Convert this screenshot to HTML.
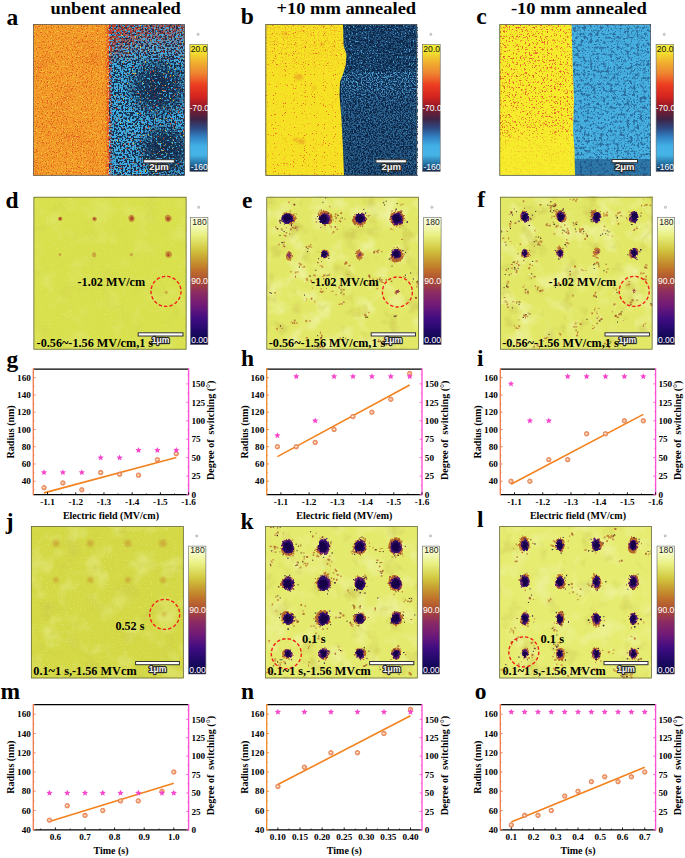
<!DOCTYPE html>
<html><head><meta charset="utf-8"><style>
html,body{margin:0;padding:0;background:#fff;overflow:hidden;width:685px;height:858px}
svg{display:block}
</style></head><body>
<svg width="685" height="858" viewBox="0 0 685 858">
<defs>
<filter id="nOrY" x="0" y="0" width="1" height="1" color-interpolation-filters="sRGB"><feTurbulence type="fractalNoise" baseFrequency="0.85" numOctaves="1" seed="3"/><feColorMatrix type="matrix" values="0 0 0 0 0.980 0 0 0 0 0.816 0 0 0 0 0.251 7 0 0 0 -3.3"/></filter>
<filter id="nOrR" x="0" y="0" width="1" height="1" color-interpolation-filters="sRGB"><feTurbulence type="fractalNoise" baseFrequency="0.85" numOctaves="1" seed="7"/><feColorMatrix type="matrix" values="0 0 0 0 0.910 0 0 0 0 0.353 0 0 0 0 0.125 7 0 0 0 -3.9"/></filter>
<filter id="nOrLo" x="0" y="0" width="1" height="1" color-interpolation-filters="sRGB"><feTurbulence type="fractalNoise" baseFrequency="0.05" numOctaves="2" seed="8"/><feColorMatrix type="matrix" values="0 0 0 0 0.910 0 0 0 0 0.471 0 0 0 0 0.157 4 0 0 0 -2.0"/></filter>
<filter id="nBlD" x="0" y="0" width="1" height="1" color-interpolation-filters="sRGB"><feTurbulence type="fractalNoise" baseFrequency="0.75" numOctaves="1" seed="5"/><feColorMatrix type="matrix" values="0 0 0 0 0.063 0 0 0 0 0.157 0 0 0 0 0.306 6 0 0 0 -2.9"/></filter>
<filter id="nBlDlo" x="0" y="0" width="1" height="1" color-interpolation-filters="sRGB"><feTurbulence type="fractalNoise" baseFrequency="0.04" numOctaves="2" seed="6"/><feColorMatrix type="matrix" values="0 0 0 0 0.055 0 0 0 0 0.141 0 0 0 0 0.275 5 0 0 0 -2.4"/></filter>
<filter id="nBlR" x="0" y="0" width="1" height="1" color-interpolation-filters="sRGB"><feTurbulence type="fractalNoise" baseFrequency="0.9" numOctaves="1" seed="11"/><feColorMatrix type="matrix" values="0 0 0 0 0.847 0 0 0 0 0.251 0 0 0 0 0.188 9 0 0 0 -5.8"/></filter>
<filter id="nBlY" x="0" y="0" width="1" height="1" color-interpolation-filters="sRGB"><feTurbulence type="fractalNoise" baseFrequency="0.9" numOctaves="1" seed="13"/><feColorMatrix type="matrix" values="0 0 0 0 0.847 0 0 0 0 0.784 0 0 0 0 0.251 9 0 0 0 -6.0"/></filter>
<filter id="nYR" x="0" y="0" width="1" height="1" color-interpolation-filters="sRGB"><feTurbulence type="fractalNoise" baseFrequency="0.9" numOctaves="1" seed="17"/><feColorMatrix type="matrix" values="0 0 0 0 0.910 0 0 0 0 0.376 0 0 0 0 0.125 9 0 0 0 -5.8"/></filter>
<filter id="nYRlo" x="0" y="0" width="1" height="1" color-interpolation-filters="sRGB"><feTurbulence type="fractalNoise" baseFrequency="0.22" numOctaves="2" seed="19"/><feColorMatrix type="matrix" values="0 0 0 0 0.910 0 0 0 0 0.502 0 0 0 0 0.188 7 0 0 0 -4.4"/></filter>
<filter id="nYO" x="0" y="0" width="1" height="1" color-interpolation-filters="sRGB"><feTurbulence type="fractalNoise" baseFrequency="0.03" numOctaves="2" seed="20"/><feColorMatrix type="matrix" values="0 0 0 0 0.941 0 0 0 0 0.690 0 0 0 0 0.188 4 0 0 0 -2.2"/></filter>
<filter id="nLB" x="0" y="0" width="1" height="1" color-interpolation-filters="sRGB"><feTurbulence type="fractalNoise" baseFrequency="0.35" numOctaves="2" seed="23"/><feColorMatrix type="matrix" values="0 0 0 0 0.165 0 0 0 0 0.416 0 0 0 0 0.612 6 0 0 0 -3.0"/></filter>
<filter id="nNB" x="0" y="0" width="1" height="1" color-interpolation-filters="sRGB"><feTurbulence type="fractalNoise" baseFrequency="0.8" numOctaves="1" seed="29"/><feColorMatrix type="matrix" values="0 0 0 0 0.290 0 0 0 0 0.580 0 0 0 0 0.769 7 0 0 0 -4.0"/></filter>
<filter id="nNB2" x="0" y="0" width="1" height="1" color-interpolation-filters="sRGB"><feTurbulence type="fractalNoise" baseFrequency="0.8" numOctaves="1" seed="30"/><feColorMatrix type="matrix" values="0 0 0 0 0.290 0 0 0 0 0.580 0 0 0 0 0.769 7 0 0 0 -4.6"/></filter>
<filter id="aL" x="0" y="0" width="1" height="1" color-interpolation-filters="sRGB"><feTurbulence type="fractalNoise" baseFrequency="0.045" numOctaves="3" seed="31"/><feColorMatrix type="matrix" values="0 0 0 0 0.941 0 0 0 0 0.957 0 0 0 0 0.659 3.2 0 0 0 -1.55"/></filter>
<filter id="aD" x="0" y="0" width="1" height="1" color-interpolation-filters="sRGB"><feTurbulence type="fractalNoise" baseFrequency="0.05" numOctaves="3" seed="37"/><feColorMatrix type="matrix" values="0 0 0 0 0.792 0 0 0 0 0.769 0 0 0 0 0.314 3.0 0 0 0 -1.75"/></filter>
<filter id="aG" x="0" y="0" width="1" height="1" color-interpolation-filters="sRGB"><feTurbulence type="fractalNoise" baseFrequency="0.7" numOctaves="1" seed="38"/><feColorMatrix type="matrix" values="0 0 0 0 0.894 0 0 0 0 0.918 0 0 0 0 0.486 3 0 0 0 -1.75"/></filter>
<filter id="aS" x="0" y="0" width="1" height="1" color-interpolation-filters="sRGB"><feTurbulence type="fractalNoise" baseFrequency="0.9" numOctaves="1" seed="41"/><feColorMatrix type="matrix" values="0 0 0 0 0.227 0 0 0 0 0.141 0 0 0 0 0.220 11 0 0 0 -7.9"/></filter>
<filter id="aO" x="0" y="0" width="1" height="1" color-interpolation-filters="sRGB"><feTurbulence type="fractalNoise" baseFrequency="0.45" numOctaves="2" seed="43"/><feColorMatrix type="matrix" values="0 0 0 0 0.784 0 0 0 0 0.541 0 0 0 0 0.188 8 0 0 0 -5.8"/></filter>
<filter id="blob" x="-60%" y="-60%" width="220%" height="220%">
<feTurbulence type="fractalNoise" baseFrequency="0.25" numOctaves="2" seed="4" result="t"/>
<feDisplacementMap in="SourceGraphic" in2="t" scale="6" xChannelSelector="R" yChannelSelector="G"/>
<feGaussianBlur stdDeviation="0.45"/></filter>
<filter id="blob2" x="-60%" y="-60%" width="220%" height="220%">
<feTurbulence type="fractalNoise" baseFrequency="0.45" numOctaves="2" seed="9" result="t"/>
<feDisplacementMap in="SourceGraphic" in2="t" scale="3.5" xChannelSelector="R" yChannelSelector="G"/></filter>
<filter id="soft2" x="-60%" y="-60%" width="220%" height="220%"><feGaussianBlur stdDeviation="0.7"/></filter>
<filter id="soft" x="-60%" y="-60%" width="220%" height="220%"><feGaussianBlur stdDeviation="1.2"/></filter>
<filter id="pa_nav" x="0" y="0" width="1" height="1" color-interpolation-filters="sRGB"><feTurbulence type="fractalNoise" baseFrequency="0.55" numOctaves="1" seed="5"/><feColorMatrix type="matrix" values="0 0 0 0 0.086 0 0 0 0 0.180 0 0 0 0 0.314 14 0 0 0 -6.7"/></filter>
<filter id="pa_nav2" x="0" y="0" width="1" height="1" color-interpolation-filters="sRGB"><feTurbulence type="fractalNoise" baseFrequency="0.55" numOctaves="1" seed="55"/><feColorMatrix type="matrix" values="0 0 0 0 0.078 0 0 0 0 0.165 0 0 0 0 0.290 14 0 0 0 -5.2"/></filter>
<filter id="pa_red" x="0" y="0" width="1" height="1" color-interpolation-filters="sRGB"><feTurbulence type="fractalNoise" baseFrequency="0.55" numOctaves="1" seed="11"/><feColorMatrix type="matrix" values="0 0 0 0 0.816 0 0 0 0 0.227 0 0 0 0 0.133 14 0 0 0 -6.3"/></filter>
<filter id="pa_red2" x="0" y="0" width="1" height="1" color-interpolation-filters="sRGB"><feTurbulence type="fractalNoise" baseFrequency="0.6" numOctaves="1" seed="12"/><feColorMatrix type="matrix" values="0 0 0 0 0.816 0 0 0 0 0.251 0 0 0 0 0.157 14 0 0 0 -9.4"/></filter>
<filter id="pa_yel" x="0" y="0" width="1" height="1" color-interpolation-filters="sRGB"><feTurbulence type="fractalNoise" baseFrequency="0.6" numOctaves="1" seed="13"/><feColorMatrix type="matrix" values="0 0 0 0 0.847 0 0 0 0 0.816 0 0 0 0 0.251 14 0 0 0 -9.6"/></filter>
<filter id="pa_oy" x="0" y="0" width="1" height="1" color-interpolation-filters="sRGB"><feTurbulence type="fractalNoise" baseFrequency="0.8" numOctaves="1" seed="3"/><feColorMatrix type="matrix" values="0 0 0 0 0.973 0 0 0 0 0.753 0 0 0 0 0.220 12 0 0 0 -7.0"/></filter>
<filter id="pa_or" x="0" y="0" width="1" height="1" color-interpolation-filters="sRGB"><feTurbulence type="fractalNoise" baseFrequency="0.8" numOctaves="1" seed="7"/><feColorMatrix type="matrix" values="0 0 0 0 0.894 0 0 0 0 0.376 0 0 0 0 0.118 12 0 0 0 -7.0"/></filter>
<filter id="pa_olo" x="0" y="0" width="1" height="1" color-interpolation-filters="sRGB"><feTurbulence type="fractalNoise" baseFrequency="0.04" numOctaves="2" seed="8"/><feColorMatrix type="matrix" values="0 0 0 0 0.933 0 0 0 0 0.541 0 0 0 0 0.149 4 0 0 0 -2.1"/></filter>
<filter id="pb_lb" x="0" y="0" width="1" height="1" color-interpolation-filters="sRGB"><feTurbulence type="fractalNoise" baseFrequency="0.75" numOctaves="1" seed="29"/><feColorMatrix type="matrix" values="0 0 0 0 0.290 0 0 0 0 0.596 0 0 0 0 0.800 14 0 0 0 -7.4"/></filter>
<filter id="pb_mid" x="0" y="0" width="1" height="1" color-interpolation-filters="sRGB"><feTurbulence type="fractalNoise" baseFrequency="0.6" numOctaves="1" seed="31"/><feColorMatrix type="matrix" values="0 0 0 0 0.133 0 0 0 0 0.322 0 0 0 0 0.494 10 0 0 0 -4.6"/></filter>
<filter id="pb_lb2" x="0" y="0" width="1" height="1" color-interpolation-filters="sRGB"><feTurbulence type="fractalNoise" baseFrequency="0.75" numOctaves="1" seed="30"/><feColorMatrix type="matrix" values="0 0 0 0 0.290 0 0 0 0 0.596 0 0 0 0 0.800 14 0 0 0 -8.8"/></filter>
<filter id="pb_yr" x="0" y="0" width="1" height="1" color-interpolation-filters="sRGB"><feTurbulence type="fractalNoise" baseFrequency="0.9" numOctaves="1" seed="17"/><feColorMatrix type="matrix" values="0 0 0 0 0.910 0 0 0 0 0.392 0 0 0 0 0.118 14 0 0 0 -9.4"/></filter>
<filter id="pb_yo" x="0" y="0" width="1" height="1" color-interpolation-filters="sRGB"><feTurbulence type="fractalNoise" baseFrequency="0.7" numOctaves="1" seed="18"/><feColorMatrix type="matrix" values="0 0 0 0 0.941 0 0 0 0 0.690 0 0 0 0 0.165 14 0 0 0 -7.6"/></filter>
<filter id="pc_dk" x="0" y="0" width="1" height="1" color-interpolation-filters="sRGB"><feTurbulence type="fractalNoise" baseFrequency="0.3" numOctaves="2" seed="23"/><feColorMatrix type="matrix" values="0 0 0 0 0.165 0 0 0 0 0.424 0 0 0 0 0.620 5 0 0 0 -2.65"/></filter>
<filter id="pc_dk2" x="0" y="0" width="1" height="1" color-interpolation-filters="sRGB"><feTurbulence type="fractalNoise" baseFrequency="0.7" numOctaves="1" seed="24"/><feColorMatrix type="matrix" values="0 0 0 0 0.165 0 0 0 0 0.424 0 0 0 0 0.620 8 0 0 0 -4.6"/></filter>
<filter id="pc_r" x="0" y="0" width="1" height="1" color-interpolation-filters="sRGB"><feTurbulence type="fractalNoise" baseFrequency="0.55" numOctaves="2" seed="17"/><feColorMatrix type="matrix" values="0 0 0 0 0.894 0 0 0 0 0.376 0 0 0 0 0.165 13 0 0 0 -8.0"/></filter>
<filter id="pc_r2" x="0" y="0" width="1" height="1" color-interpolation-filters="sRGB"><feTurbulence type="fractalNoise" baseFrequency="0.8" numOctaves="1" seed="19"/><feColorMatrix type="matrix" values="0 0 0 0 0.925 0 0 0 0 0.541 0 0 0 0 0.188 14 0 0 0 -9.0"/></filter>
<radialGradient id="ma1g" cx="158" cy="88" r="34" gradientUnits="userSpaceOnUse"><stop offset="0" stop-color="#fff" stop-opacity="1"/><stop offset="0.5" stop-color="#fff" stop-opacity="0.8"/><stop offset="1" stop-color="#fff" stop-opacity="0"/></radialGradient>
<mask id="ma1" maskUnits="userSpaceOnUse" x="0" y="0" width="685" height="858"><rect x="0" y="0" width="685" height="858" fill="url(#ma1g)"/></mask>
<radialGradient id="ma2g" cx="165" cy="150" r="30" gradientUnits="userSpaceOnUse"><stop offset="0" stop-color="#fff" stop-opacity="1"/><stop offset="0.5" stop-color="#fff" stop-opacity="0.8"/><stop offset="1" stop-color="#fff" stop-opacity="0"/></radialGradient>
<mask id="ma2" maskUnits="userSpaceOnUse" x="0" y="0" width="685" height="858"><rect x="0" y="0" width="685" height="858" fill="url(#ma2g)"/></mask>
<radialGradient id="ma3g" cx="109.2" cy="24.3" r="40" gradientUnits="userSpaceOnUse"><stop offset="0" stop-color="#fff" stop-opacity="0.8"/><stop offset="0.5" stop-color="#fff" stop-opacity="0.5"/><stop offset="1" stop-color="#fff" stop-opacity="0"/></radialGradient>
<mask id="ma3" maskUnits="userSpaceOnUse" x="0" y="0" width="685" height="858"><rect x="0" y="0" width="685" height="858" fill="url(#ma3g)"/></mask>
<linearGradient id="ma4g" x1="0" y1="0" x2="0" y2="1"><stop offset="0" stop-color="#fff" stop-opacity="0.7"/><stop offset="0.5" stop-color="#fff" stop-opacity="0.3"/><stop offset="1" stop-color="#fff" stop-opacity="0"/></linearGradient>
<mask id="ma4" maskUnits="userSpaceOnUse" x="109.2" y="24.3" width="75.7" height="40"><rect x="109.2" y="24.3" width="75.7" height="40" fill="url(#ma4g)"/></mask>
<linearGradient id="ma5g" x1="0" y1="0" x2="1" y2="0"><stop offset="0" stop-color="#fff" stop-opacity="0"/><stop offset="0.6" stop-color="#fff" stop-opacity="0.9"/><stop offset="1" stop-color="#fff" stop-opacity="0.3"/></linearGradient>
<mask id="ma5" maskUnits="userSpaceOnUse" x="104.2" y="24.3" width="8" height="151.29999999999998"><rect x="104.2" y="24.3" width="8" height="151.29999999999998" fill="url(#ma5g)"/></mask>
<linearGradient id="pcb189" x1="0" y1="0" x2="0" y2="1">
<stop offset="0" stop-color="#f4f232"/><stop offset="0.06" stop-color="#f2e030"/><stop offset="0.14" stop-color="#f0b030"/>
<stop offset="0.23" stop-color="#ee8230"/><stop offset="0.32" stop-color="#ec3c20"/><stop offset="0.41" stop-color="#d42420"/>
<stop offset="0.47" stop-color="#a41c24"/><stop offset="0.53" stop-color="#6c1e34"/><stop offset="0.59" stop-color="#3e2448"/>
<stop offset="0.66" stop-color="#2e4a84"/><stop offset="0.73" stop-color="#3282c4"/><stop offset="0.80" stop-color="#42b0e6"/>
<stop offset="0.87" stop-color="#46b4e6"/><stop offset="0.94" stop-color="#2470a2"/><stop offset="1" stop-color="#12284e"/></linearGradient>
<linearGradient id="mb1g" x1="0" y1="0" x2="0" y2="1"><stop offset="0" stop-color="#fff" stop-opacity="1"/><stop offset="0.12" stop-color="#fff" stop-opacity="0.95"/><stop offset="0.3" stop-color="#fff" stop-opacity="0.55"/><stop offset="1" stop-color="#fff" stop-opacity="0.35"/></linearGradient>
<mask id="mb1" maskUnits="userSpaceOnUse" x="341" y="72" width="76.10000000000002" height="103.6"><rect x="341" y="72" width="76.10000000000002" height="103.6" fill="url(#mb1g)"/></mask>
<linearGradient id="mb2g" x1="0" y1="0" x2="0" y2="1"><stop offset="0" stop-color="#fff" stop-opacity="0.8"/><stop offset="0.25" stop-color="#fff" stop-opacity="0.6"/><stop offset="0.35" stop-color="#fff" stop-opacity="0.2"/><stop offset="1" stop-color="#fff" stop-opacity="0.25"/></linearGradient>
<mask id="mb2" maskUnits="userSpaceOnUse" x="265.6" y="24.3" width="80" height="151.29999999999998"><rect x="265.6" y="24.3" width="80" height="151.29999999999998" fill="url(#mb2g)"/></mask>
<linearGradient id="pcb422" x1="0" y1="0" x2="0" y2="1">
<stop offset="0" stop-color="#f4f232"/><stop offset="0.06" stop-color="#f2e030"/><stop offset="0.14" stop-color="#f0b030"/>
<stop offset="0.23" stop-color="#ee8230"/><stop offset="0.32" stop-color="#ec3c20"/><stop offset="0.41" stop-color="#d42420"/>
<stop offset="0.47" stop-color="#a41c24"/><stop offset="0.53" stop-color="#6c1e34"/><stop offset="0.59" stop-color="#3e2448"/>
<stop offset="0.66" stop-color="#2e4a84"/><stop offset="0.73" stop-color="#3282c4"/><stop offset="0.80" stop-color="#42b0e6"/>
<stop offset="0.87" stop-color="#46b4e6"/><stop offset="0.94" stop-color="#2470a2"/><stop offset="1" stop-color="#12284e"/></linearGradient>
<linearGradient id="mc1g" x1="0" y1="0" x2="0" y2="1"><stop offset="0" stop-color="#fff" stop-opacity="1"/><stop offset="0.7" stop-color="#fff" stop-opacity="0.9"/><stop offset="0.78" stop-color="#fff" stop-opacity="0.25"/><stop offset="1" stop-color="#fff" stop-opacity="0.15"/></linearGradient>
<mask id="mc1" maskUnits="userSpaceOnUse" x="499.5" y="24.3" width="77" height="151.29999999999998"><rect x="499.5" y="24.3" width="77" height="151.29999999999998" fill="url(#mc1g)"/></mask>
<linearGradient id="pcb656" x1="0" y1="0" x2="0" y2="1">
<stop offset="0" stop-color="#f4f232"/><stop offset="0.06" stop-color="#f2e030"/><stop offset="0.14" stop-color="#f0b030"/>
<stop offset="0.23" stop-color="#ee8230"/><stop offset="0.32" stop-color="#ec3c20"/><stop offset="0.41" stop-color="#d42420"/>
<stop offset="0.47" stop-color="#a41c24"/><stop offset="0.53" stop-color="#6c1e34"/><stop offset="0.59" stop-color="#3e2448"/>
<stop offset="0.66" stop-color="#2e4a84"/><stop offset="0.73" stop-color="#3282c4"/><stop offset="0.80" stop-color="#42b0e6"/>
<stop offset="0.87" stop-color="#46b4e6"/><stop offset="0.94" stop-color="#2470a2"/><stop offset="1" stop-color="#12284e"/></linearGradient>
<linearGradient id="acb190_217" x1="0" y1="0" x2="0" y2="1">
<stop offset="0" stop-color="#fafde4"/><stop offset="0.05" stop-color="#f6fac8"/><stop offset="0.14" stop-color="#e8f080"/>
<stop offset="0.25" stop-color="#d2c840"/><stop offset="0.32" stop-color="#c8a232"/><stop offset="0.41" stop-color="#c0722a"/>
<stop offset="0.51" stop-color="#a84838"/><stop offset="0.59" stop-color="#8c2c62"/><stop offset="0.69" stop-color="#701a78"/>
<stop offset="0.80" stop-color="#3e0c82"/><stop offset="0.91" stop-color="#1a0862"/><stop offset="1" stop-color="#0a0440"/></linearGradient>
<linearGradient id="acb423_217" x1="0" y1="0" x2="0" y2="1">
<stop offset="0" stop-color="#fafde4"/><stop offset="0.05" stop-color="#f6fac8"/><stop offset="0.14" stop-color="#e8f080"/>
<stop offset="0.25" stop-color="#d2c840"/><stop offset="0.32" stop-color="#c8a232"/><stop offset="0.41" stop-color="#c0722a"/>
<stop offset="0.51" stop-color="#a84838"/><stop offset="0.59" stop-color="#8c2c62"/><stop offset="0.69" stop-color="#701a78"/>
<stop offset="0.80" stop-color="#3e0c82"/><stop offset="0.91" stop-color="#1a0862"/><stop offset="1" stop-color="#0a0440"/></linearGradient>
<linearGradient id="acb657_217" x1="0" y1="0" x2="0" y2="1">
<stop offset="0" stop-color="#fafde4"/><stop offset="0.05" stop-color="#f6fac8"/><stop offset="0.14" stop-color="#e8f080"/>
<stop offset="0.25" stop-color="#d2c840"/><stop offset="0.32" stop-color="#c8a232"/><stop offset="0.41" stop-color="#c0722a"/>
<stop offset="0.51" stop-color="#a84838"/><stop offset="0.59" stop-color="#8c2c62"/><stop offset="0.69" stop-color="#701a78"/>
<stop offset="0.80" stop-color="#3e0c82"/><stop offset="0.91" stop-color="#1a0862"/><stop offset="1" stop-color="#0a0440"/></linearGradient>
<linearGradient id="acb188_546" x1="0" y1="0" x2="0" y2="1">
<stop offset="0" stop-color="#fafde4"/><stop offset="0.05" stop-color="#f6fac8"/><stop offset="0.14" stop-color="#e8f080"/>
<stop offset="0.25" stop-color="#d2c840"/><stop offset="0.32" stop-color="#c8a232"/><stop offset="0.41" stop-color="#c0722a"/>
<stop offset="0.51" stop-color="#a84838"/><stop offset="0.59" stop-color="#8c2c62"/><stop offset="0.69" stop-color="#701a78"/>
<stop offset="0.80" stop-color="#3e0c82"/><stop offset="0.91" stop-color="#1a0862"/><stop offset="1" stop-color="#0a0440"/></linearGradient>
<linearGradient id="acb422_546" x1="0" y1="0" x2="0" y2="1">
<stop offset="0" stop-color="#fafde4"/><stop offset="0.05" stop-color="#f6fac8"/><stop offset="0.14" stop-color="#e8f080"/>
<stop offset="0.25" stop-color="#d2c840"/><stop offset="0.32" stop-color="#c8a232"/><stop offset="0.41" stop-color="#c0722a"/>
<stop offset="0.51" stop-color="#a84838"/><stop offset="0.59" stop-color="#8c2c62"/><stop offset="0.69" stop-color="#701a78"/>
<stop offset="0.80" stop-color="#3e0c82"/><stop offset="0.91" stop-color="#1a0862"/><stop offset="1" stop-color="#0a0440"/></linearGradient>
<linearGradient id="acb657_546" x1="0" y1="0" x2="0" y2="1">
<stop offset="0" stop-color="#fafde4"/><stop offset="0.05" stop-color="#f6fac8"/><stop offset="0.14" stop-color="#e8f080"/>
<stop offset="0.25" stop-color="#d2c840"/><stop offset="0.32" stop-color="#c8a232"/><stop offset="0.41" stop-color="#c0722a"/>
<stop offset="0.51" stop-color="#a84838"/><stop offset="0.59" stop-color="#8c2c62"/><stop offset="0.69" stop-color="#701a78"/>
<stop offset="0.80" stop-color="#3e0c82"/><stop offset="0.91" stop-color="#1a0862"/><stop offset="1" stop-color="#0a0440"/></linearGradient>
</defs>
<rect width="685" height="858" fill="#fff"/>
<text x="50.60" y="13.70" font-size="17.6" text-anchor="start" fill="#000" font-family="Liberation Serif" font-weight="bold" textLength="130.2" lengthAdjust="spacingAndGlyphs">unbent annealed</text>
<text x="276.50" y="13.70" font-size="17.6" text-anchor="start" fill="#000" font-family="Liberation Serif" font-weight="bold" textLength="139.6" lengthAdjust="spacingAndGlyphs">+10 mm annealed</text>
<text x="510.90" y="13.70" font-size="17.6" text-anchor="start" fill="#000" font-family="Liberation Serif" font-weight="bold" textLength="136.0" lengthAdjust="spacingAndGlyphs">-10 mm annealed</text>
<text x="6.50" y="24.70" font-size="23.5" text-anchor="start" fill="#000" font-family="Liberation Serif" font-weight="bold" >a</text>
<text x="240.80" y="24.40" font-size="23.5" text-anchor="start" fill="#000" font-family="Liberation Serif" font-weight="bold" >b</text>
<text x="476.20" y="24.40" font-size="23.5" text-anchor="start" fill="#000" font-family="Liberation Serif" font-weight="bold" >c</text>
<text x="5.50" y="208.40" font-size="23.5" text-anchor="start" fill="#000" font-family="Liberation Serif" font-weight="bold" >d</text>
<text x="242.00" y="207.60" font-size="23.5" text-anchor="start" fill="#000" font-family="Liberation Serif" font-weight="bold" >e</text>
<text x="477.20" y="207.30" font-size="23.5" text-anchor="start" fill="#000" font-family="Liberation Serif" font-weight="bold" >f</text>
<text x="6.40" y="366.60" font-size="23.5" text-anchor="start" fill="#000" font-family="Liberation Serif" font-weight="bold" >g</text>
<text x="240.90" y="366.40" font-size="23.5" text-anchor="start" fill="#000" font-family="Liberation Serif" font-weight="bold" >h</text>
<text x="476.90" y="366.40" font-size="23.5" text-anchor="start" fill="#000" font-family="Liberation Serif" font-weight="bold" >i</text>
<text x="5.80" y="528.90" font-size="23.5" text-anchor="start" fill="#000" font-family="Liberation Serif" font-weight="bold" >j</text>
<text x="240.40" y="528.70" font-size="23.5" text-anchor="start" fill="#000" font-family="Liberation Serif" font-weight="bold" >k</text>
<text x="477.10" y="526.60" font-size="23.5" text-anchor="start" fill="#000" font-family="Liberation Serif" font-weight="bold" >l</text>
<text x="0.60" y="699.30" font-size="23.5" text-anchor="start" fill="#000" font-family="Liberation Serif" font-weight="bold" >m</text>
<text x="241.10" y="698.60" font-size="23.5" text-anchor="start" fill="#000" font-family="Liberation Serif" font-weight="bold" >n</text>
<text x="474.80" y="698.90" font-size="23.5" text-anchor="start" fill="#000" font-family="Liberation Serif" font-weight="bold" >o</text>
<rect x="109.20" y="24.30" width="75.70" height="151.30" fill="#40ace0" />
<rect x="109.20" y="24.30" width="75.70" height="151.30" fill="#000" filter="url(#pa_nav)" />
<g mask="url(#ma1)"><rect x="109.20" y="24.30" width="75.70" height="151.30" fill="#000" filter="url(#pa_nav2)"/></g>
<g mask="url(#ma2)"><rect x="109.20" y="24.30" width="75.70" height="151.30" fill="#000" filter="url(#pa_nav2)"/></g>
<g mask="url(#ma3)"><rect x="109.20" y="24.30" width="75.70" height="151.30" fill="#000" filter="url(#pa_red)"/></g>
<g mask="url(#ma4)"><rect x="109.20" y="24.30" width="75.70" height="40.00" fill="#000" filter="url(#pa_red)"/></g>
<rect x="109.20" y="24.30" width="75.70" height="151.30" fill="#000" filter="url(#pa_red2)" />
<rect x="109.20" y="24.30" width="75.70" height="151.30" fill="#000" filter="url(#pa_yel)" />
<rect x="33.30" y="24.30" width="75.40" height="151.30" fill="#f29a28" />
<rect x="33.30" y="24.30" width="75.40" height="151.30" fill="#000" filter="url(#pa_olo)" />
<rect x="33.30" y="24.30" width="75.40" height="151.30" fill="#000" filter="url(#pa_oy)" />
<rect x="33.30" y="24.30" width="75.40" height="151.30" fill="#000" filter="url(#pa_or)" />
<g mask="url(#ma5)"><rect x="104.20" y="24.30" width="8.00" height="151.30" fill="#000" filter="url(#pa_red)"/></g>
<rect x="33.60" y="24.60" width="151.00" height="150.70" fill="none" stroke="#555" stroke-width="0.7"/>
<rect x="189.9" y="44.6" width="17.6" height="126.80000000000001" fill="url(#pcb189)" stroke="#666" stroke-width="0.6"/>
<text x="199.00" y="51.60" font-size="8.6" text-anchor="middle" fill="#111" font-family="Liberation Sans" >20.0</text>
<text x="199.30" y="111.10" font-size="8.6" text-anchor="middle" fill="#fff" font-family="Liberation Sans" >-70.0</text>
<text x="199.30" y="170.10" font-size="8.6" text-anchor="middle" fill="#fff" font-family="Liberation Sans" >-160</text>
<circle cx="198.1" cy="34.400000000000006" r="1.0" fill="none" stroke="#777" stroke-width="0.55"/>
<rect x="143.60" y="159.70" width="30.70" height="3.2" fill="#fff" stroke="#333" stroke-width="1.0"/>
<text x="158.95" y="170.00" font-size="9.5" text-anchor="middle" fill="#f4f4f4" font-family="Liberation Sans" font-weight="bold" stroke="#2a2a2a" stroke-width="2.3" paint-order="stroke" stroke-linejoin="round">2μm</text>
<rect x="265.60" y="24.30" width="151.50" height="151.30" fill="#0b2646" />
<rect x="341.00" y="24.30" width="76.10" height="151.30" fill="#000" filter="url(#pb_mid)" />
<g mask="url(#mb1)"><rect x="341.00" y="72.00" width="76.10" height="103.60" fill="#000" filter="url(#pb_lb)"/></g>
<rect x="341.00" y="24.30" width="76.10" height="48.00" fill="#000" filter="url(#pb_lb2)" />
<path d="M265.6,24.3 L343,24.3 L343.5,45 L346.5,55 L345.5,66 L343,74 L340,82 L339.5,95 L341.5,120 L343,150 L344,175.6 L265.6,175.6 Z" fill="#f6e424"/>
<clipPath id="cpb"><path d="M265.6,24.3 L343,24.3 L343.5,45 L346.5,55 L345.5,66 L343,74 L340,82 L339.5,95 L341.5,120 L343,150 L344,175.6 L265.6,175.6 Z"/></clipPath>
<g clip-path="url(#cpb)">
<g mask="url(#mb2)"><rect x="265.60" y="24.30" width="80.00" height="151.30" fill="#000" filter="url(#pb_yo)"/></g>
<rect x="265.60" y="24.30" width="80.00" height="151.30" fill="#000" filter="url(#pb_yr)" />
<ellipse cx="299" cy="77" rx="4.16" ry="2.8600000000000003" fill="#e67a28" opacity="0.45" filter="url(#soft)"/>
<ellipse cx="301.5" cy="141.5" rx="3.5200000000000005" ry="2.4200000000000004" fill="#e67a28" opacity="0.45" filter="url(#soft)"/>
<ellipse cx="296" cy="139.5" rx="2.5600000000000005" ry="1.7600000000000002" fill="#e67a28" opacity="0.45" filter="url(#soft)"/>
<ellipse cx="285" cy="34" rx="2.4000000000000004" ry="1.6500000000000001" fill="#e67a28" opacity="0.45" filter="url(#soft)"/>
<ellipse cx="322" cy="44" rx="2.2399999999999998" ry="1.54" fill="#e67a28" opacity="0.45" filter="url(#soft)"/>
<ellipse cx="314" cy="88" rx="2.08" ry="1.4300000000000002" fill="#e67a28" opacity="0.45" filter="url(#soft)"/>
</g>
<rect x="265.90" y="24.60" width="150.90" height="150.70" fill="none" stroke="#555" stroke-width="0.7"/>
<rect x="422.6" y="44.6" width="17.6" height="126.80000000000001" fill="url(#pcb422)" stroke="#666" stroke-width="0.6"/>
<text x="431.70" y="51.60" font-size="8.6" text-anchor="middle" fill="#111" font-family="Liberation Sans" >20.0</text>
<text x="432.00" y="111.10" font-size="8.6" text-anchor="middle" fill="#fff" font-family="Liberation Sans" >-70.0</text>
<text x="432.00" y="170.10" font-size="8.6" text-anchor="middle" fill="#fff" font-family="Liberation Sans" >-160</text>
<circle cx="430.8" cy="34.400000000000006" r="1.0" fill="none" stroke="#777" stroke-width="0.55"/>
<rect x="375.90" y="159.70" width="30.50" height="3.2" fill="#fff" stroke="#333" stroke-width="1.0"/>
<text x="391.15" y="170.00" font-size="9.5" text-anchor="middle" fill="#f4f4f4" font-family="Liberation Sans" font-weight="bold" stroke="#2a2a2a" stroke-width="2.3" paint-order="stroke" stroke-linejoin="round">2μm</text>
<rect x="499.50" y="24.30" width="151.30" height="151.30" fill="#46b0e0" />
<rect x="572.00" y="24.30" width="78.80" height="151.30" fill="#000" filter="url(#pc_dk)" />
<rect x="572.00" y="24.30" width="78.80" height="151.30" fill="#000" filter="url(#pc_dk2)" />
<rect x="572" y="159" width="78.8" height="16.6" fill="#1a4a7a" opacity="0.55"/>
<path d="M499.5,24.3 L571.5,24.3 L572.5,60 L574,100 L573,130 L574.5,150 L575,175.6 L499.5,175.6 Z" fill="#f6ec2c"/>
<clipPath id="cpc"><path d="M499.5,24.3 L571.5,24.3 L572.5,60 L574,100 L573,130 L574.5,150 L575,175.6 L499.5,175.6 Z"/></clipPath>
<g clip-path="url(#cpc)">
<g mask="url(#mc1)"><rect x="499.50" y="24.30" width="77.00" height="151.30" fill="#000" filter="url(#pc_r)"/></g>
<g mask="url(#mc1)"><rect x="499.50" y="24.30" width="77.00" height="151.30" fill="#000" filter="url(#pc_r2)"/></g>
</g>
<rect x="499.80" y="24.60" width="150.70" height="150.70" fill="none" stroke="#555" stroke-width="0.7"/>
<rect x="656.1" y="44.6" width="17.6" height="126.80000000000001" fill="url(#pcb656)" stroke="#666" stroke-width="0.6"/>
<text x="665.20" y="51.60" font-size="8.6" text-anchor="middle" fill="#111" font-family="Liberation Sans" >20.0</text>
<text x="665.50" y="111.10" font-size="8.6" text-anchor="middle" fill="#fff" font-family="Liberation Sans" >-70.0</text>
<text x="665.50" y="170.10" font-size="8.6" text-anchor="middle" fill="#fff" font-family="Liberation Sans" >-160</text>
<circle cx="664.3000000000001" cy="34.400000000000006" r="1.0" fill="none" stroke="#777" stroke-width="0.55"/>
<rect x="612.00" y="159.50" width="25.50" height="3.2" fill="#fff" stroke="#333" stroke-width="1.0"/>
<text x="624.75" y="170.00" font-size="9.5" text-anchor="middle" fill="#f4f4f4" font-family="Liberation Sans" font-weight="bold" stroke="#2a2a2a" stroke-width="2.3" paint-order="stroke" stroke-linejoin="round">2μm</text>
<rect x="33.60" y="196.90" width="152.80" height="152.60" fill="#d8e04c" />
<g opacity="0.2">
<rect x="33.60" y="196.90" width="152.80" height="152.60" fill="#000" filter="url(#aL)" />
<rect x="33.60" y="196.90" width="152.80" height="152.60" fill="#000" filter="url(#aD)" />
</g>
<rect x="33.60" y="196.90" width="152.80" height="152.60" fill="#000" filter="url(#aG)" />
<g filter="url(#soft2)"><path d="M62.3,218.1 Q62.5,218.8 62.3,219.5 Q62.1,220.2 61.5,220.6 Q61.0,221.1 60.2,221.1 Q59.5,221.0 58.9,220.6 Q58.2,220.2 58.0,219.5 Q57.9,218.8 58.2,218.2 Q58.5,217.5 59.0,217.1 Q59.5,216.7 60.2,216.7 Q60.9,216.7 61.5,217.1 Q62.0,217.5 62.3,218.1Z" fill="#c0682c" opacity="0.7"/><path d="M61.2,218.5 Q61.2,218.8 61.1,219.1 Q61.0,219.4 60.8,219.7 Q60.6,220.0 60.2,220.1 Q59.8,220.1 59.5,219.8 Q59.3,219.5 59.2,219.1 Q59.1,218.8 59.1,218.4 Q59.0,218.0 59.4,217.6 Q59.7,217.3 60.2,217.3 Q60.7,217.4 60.9,217.8 Q61.2,218.1 61.2,218.5Z" fill="#a23c2c" opacity="0.85"/></g>
<g filter="url(#soft2)"><path d="M96.7,218.2 Q97.0,219.0 96.6,219.7 Q96.2,220.4 95.6,220.9 Q95.0,221.4 94.2,221.3 Q93.5,221.2 93.1,220.6 Q92.7,220.1 92.5,219.5 Q92.4,219.0 92.4,218.3 Q92.4,217.7 92.9,217.1 Q93.4,216.6 94.2,216.7 Q94.9,216.7 95.6,217.1 Q96.4,217.4 96.7,218.2Z" fill="#c0682c" opacity="0.7"/><path d="M95.3,218.6 Q95.4,219.0 95.3,219.3 Q95.1,219.7 94.8,219.9 Q94.5,220.0 94.2,219.9 Q93.9,219.8 93.7,219.7 Q93.5,219.5 93.4,219.2 Q93.2,219.0 93.2,218.7 Q93.2,218.3 93.5,218.1 Q93.8,217.9 94.2,217.9 Q94.5,217.9 94.9,218.1 Q95.2,218.3 95.3,218.6Z" fill="#a23c2c" opacity="0.85"/></g>
<g filter="url(#soft2)"><path d="M134.4,217.5 Q134.7,218.5 134.5,219.5 Q134.3,220.4 133.5,221.3 Q132.8,222.1 131.6,222.1 Q130.5,222.0 129.7,221.2 Q129.0,220.4 128.6,219.5 Q128.3,218.5 128.4,217.4 Q128.6,216.3 129.5,215.5 Q130.3,214.6 131.6,214.7 Q132.8,214.9 133.5,215.7 Q134.2,216.6 134.4,217.5Z" fill="#c0682c" opacity="0.7"/><path d="M133.5,217.9 Q133.7,218.5 133.3,219.0 Q133.0,219.5 132.5,219.8 Q132.1,220.1 131.6,220.2 Q131.0,220.3 130.6,219.9 Q130.3,219.5 130.2,219.0 Q130.1,218.5 130.2,218.0 Q130.4,217.6 130.7,217.2 Q131.0,216.7 131.6,216.6 Q132.2,216.5 132.8,216.9 Q133.3,217.2 133.5,217.9Z" fill="#a23c2c" opacity="0.85"/></g>
<g filter="url(#soft2)"><path d="M171.6,217.4 Q172.0,218.5 171.5,219.5 Q171.0,220.5 170.1,221.2 Q169.3,221.8 168.2,221.9 Q167.1,221.9 166.3,221.2 Q165.4,220.5 165.0,219.5 Q164.7,218.5 164.8,217.3 Q165.0,216.1 165.9,215.4 Q166.9,214.6 168.1,214.8 Q169.3,215.0 170.3,215.7 Q171.2,216.3 171.6,217.4Z" fill="#c0682c" opacity="0.7"/><path d="M169.5,218.1 Q169.7,218.5 169.7,219.0 Q169.6,219.6 169.2,220.0 Q168.8,220.5 168.2,220.6 Q167.5,220.6 167.0,220.2 Q166.5,219.7 166.5,219.1 Q166.5,218.5 166.7,218.0 Q166.9,217.5 167.3,217.2 Q167.7,216.9 168.2,217.0 Q168.7,217.1 169.0,217.4 Q169.3,217.7 169.5,218.1Z" fill="#a23c2c" opacity="0.85"/></g>
<g filter="url(#soft2)"><path d="M61.3,254.2 Q61.4,254.6 61.2,255.0 Q61.0,255.3 60.7,255.7 Q60.4,256.0 60.0,256.1 Q59.5,256.2 59.1,255.9 Q58.8,255.5 58.7,255.1 Q58.6,254.6 58.6,254.1 Q58.6,253.6 59.0,253.2 Q59.4,252.8 60.0,252.9 Q60.5,253.1 60.9,253.4 Q61.2,253.7 61.3,254.2Z" fill="#c07a34" opacity="0.55"/></g>
<g filter="url(#soft2)"><path d="M96.0,254.0 Q96.3,254.6 96.2,255.4 Q96.2,256.2 95.5,256.7 Q94.9,257.3 94.0,257.2 Q93.2,257.0 92.7,256.4 Q92.3,255.9 92.2,255.2 Q92.0,254.6 92.1,254.0 Q92.2,253.3 92.7,252.7 Q93.2,252.1 94.0,252.1 Q94.8,252.1 95.3,252.7 Q95.7,253.4 96.0,254.0Z" fill="#c07a34" opacity="0.55"/></g>
<g filter="url(#soft2)"><path d="M133.0,254.1 Q133.1,254.6 132.9,255.1 Q132.7,255.5 132.3,255.9 Q131.9,256.2 131.4,256.3 Q130.8,256.4 130.3,256.1 Q129.8,255.8 129.8,255.2 Q129.8,254.6 130.0,254.2 Q130.2,253.7 130.5,253.4 Q130.9,253.0 131.4,252.9 Q132.0,252.8 132.4,253.2 Q132.9,253.5 133.0,254.1Z" fill="#c07a34" opacity="0.55"/></g>
<g filter="url(#soft2)"><path d="M171.8,253.4 Q172.2,254.6 171.6,255.7 Q171.1,256.7 170.2,257.2 Q169.2,257.7 168.2,257.8 Q167.2,257.8 166.4,257.1 Q165.7,256.4 165.5,255.5 Q165.3,254.6 165.3,253.6 Q165.4,252.5 166.2,251.7 Q167.0,250.9 168.2,250.9 Q169.4,250.9 170.4,251.6 Q171.4,252.3 171.8,253.4Z" fill="#c0682c" opacity="0.7"/><path d="M169.4,254.2 Q169.6,254.6 169.4,255.0 Q169.3,255.4 169.0,255.7 Q168.6,255.9 168.2,255.9 Q167.8,256.0 167.5,255.6 Q167.2,255.3 167.2,255.0 Q167.1,254.6 167.2,254.3 Q167.2,253.9 167.5,253.7 Q167.8,253.4 168.2,253.4 Q168.6,253.4 168.9,253.6 Q169.2,253.9 169.4,254.2Z" fill="#a23c2c" opacity="0.85"/></g>
<g filter="url(#soft2)"><path d="M167.8,292.1 Q167.8,292.5 167.7,292.9 Q167.5,293.3 167.2,293.6 Q166.9,293.8 166.5,293.9 Q166.0,293.9 165.6,293.7 Q165.2,293.5 164.8,293.0 Q164.5,292.5 164.7,291.9 Q164.9,291.3 165.4,291.2 Q166.0,291.0 166.5,291.0 Q167.0,291.1 167.3,291.3 Q167.7,291.6 167.8,292.1Z" fill="#c07a34" opacity="0.55"/></g>
<rect x="33.90" y="197.20" width="152.20" height="152.00" fill="none" stroke="#55583a" stroke-width="0.7"/>
<circle cx="166.0" cy="291.4" r="15" fill="none" stroke="#f21c1c" stroke-width="1.35" stroke-dasharray="3.4 2.1"/>
<rect x="138.20" y="332.80" width="44.80" height="3.2" fill="#fff" stroke="#333" stroke-width="1.0"/>
<text x="160.60" y="342.90" font-size="8.6" text-anchor="middle" fill="#f4f4f4" font-family="Liberation Sans" font-weight="bold" stroke="#2a2a2a" stroke-width="2.3" paint-order="stroke" stroke-linejoin="round">1μm</text>
<text x="77.50" y="286.00" font-size="12.2" text-anchor="start" fill="#000" font-family="Liberation Serif" font-weight="bold" textLength="67.6" lengthAdjust="spacingAndGlyphs">-1.02 MV/cm</text>
<text x="36.60" y="346.90" font-size="12.2" text-anchor="start" fill="#000" font-family="Liberation Serif" font-weight="bold" textLength="116.5" lengthAdjust="spacingAndGlyphs">-0.56~-1.56 MV/cm,1 s</text>
<rect x="190.5" y="217.5" width="17.4" height="127.10000000000002" fill="url(#acb190_217)" stroke="#666" stroke-width="0.6"/>
<text x="199.50" y="224.70" font-size="8.6" text-anchor="middle" fill="#222" font-family="Liberation Sans" >180</text>
<text x="199.50" y="284.15" font-size="8.6" text-anchor="middle" fill="#fff" font-family="Liberation Sans" >90.0</text>
<text x="199.50" y="343.30" font-size="8.6" text-anchor="middle" fill="#fff" font-family="Liberation Sans" >0.00</text>
<circle cx="198.7" cy="207.3" r="1.0" fill="none" stroke="#777" stroke-width="0.55"/>
<rect x="266.50" y="196.90" width="152.30" height="152.60" fill="#e2e866" />
<g opacity="0.8">
<rect x="266.50" y="196.90" width="152.30" height="152.60" fill="#000" filter="url(#aL)" />
<rect x="266.50" y="196.90" width="152.30" height="152.60" fill="#000" filter="url(#aD)" />
</g>
<rect x="266.50" y="196.90" width="152.30" height="152.60" fill="#000" filter="url(#aG)" />
<rect x="305.9" y="278.5" width="2" height="1" fill="#b86a2c" opacity="0.85"/>
<rect x="305.9" y="278.4" width="2" height="1" fill="#c07a34" opacity="0.85"/>
<rect x="306.3" y="279.7" width="2" height="1.5" fill="#c89040" opacity="0.85"/>
<rect x="304.0" y="281.2" width="1" height="1" fill="#f8f8e0"/>
<rect x="329.3" y="205.8" width="1" height="1.5" fill="#b86a2c" opacity="0.85"/>
<rect x="322.4" y="201.8" width="1" height="1" fill="#302030"/>
<rect x="325.1" y="197.4" width="1" height="1" fill="#302030"/>
<rect x="377.2" y="283.9" width="1" height="1.5" fill="#c07a34" opacity="0.85"/>
<rect x="376.3" y="287.9" width="2" height="1.5" fill="#c89040" opacity="0.85"/>
<rect x="373.7" y="283.2" width="1" height="1" fill="#302030"/>
<rect x="371.8" y="281.9" width="1" height="1" fill="#f8f8e0"/>
<rect x="377.0" y="284.3" width="1" height="1" fill="#302030"/>
<rect x="414.8" y="296.8" width="2" height="2" fill="#b86a2c" opacity="0.85"/>
<rect x="415.1" y="297.2" width="2" height="1.5" fill="#a85a28" opacity="0.85"/>
<rect x="281.3" y="327.9" width="1.5" height="1" fill="#b86a2c" opacity="0.85"/>
<rect x="276.9" y="329.4" width="1" height="1" fill="#b86a2c" opacity="0.85"/>
<rect x="275.8" y="327.8" width="2" height="1.5" fill="#c07a34" opacity="0.85"/>
<rect x="279.8" y="325.8" width="1" height="1" fill="#b86a2c" opacity="0.85"/>
<rect x="280.0" y="325.4" width="1" height="1" fill="#302030"/>
<rect x="289.5" y="210.3" width="1.5" height="1.5" fill="#c89040" opacity="0.85"/>
<rect x="293.2" y="203.6" width="2" height="2" fill="#b86a2c" opacity="0.85"/>
<rect x="287.9" y="201.6" width="2" height="1.5" fill="#c89040" opacity="0.85"/>
<rect x="294.1" y="204.2" width="1" height="1" fill="#302030"/>
<rect x="347.3" y="274.1" width="1.5" height="1" fill="#c89040" opacity="0.85"/>
<rect x="349.0" y="281.7" width="1" height="1" fill="#302030"/>
<rect x="319.9" y="331.7" width="1" height="2" fill="#b86a2c" opacity="0.85"/>
<rect x="321.3" y="335.1" width="1.5" height="1.5" fill="#c89040" opacity="0.85"/>
<rect x="319.9" y="338.1" width="1" height="1.5" fill="#c07a34" opacity="0.85"/>
<rect x="320.0" y="337.2" width="2" height="1.5" fill="#a85a28" opacity="0.85"/>
<rect x="321.1" y="334.2" width="1" height="2" fill="#c07a34" opacity="0.85"/>
<rect x="317.2" y="335.2" width="1" height="1" fill="#302030"/>
<rect x="321.0" y="336.8" width="1" height="1" fill="#302030"/>
<rect x="364.0" y="215.1" width="1" height="1.5" fill="#c07a34" opacity="0.85"/>
<rect x="368.0" y="215.1" width="1" height="2" fill="#c89040" opacity="0.85"/>
<rect x="364.3" y="217.2" width="1" height="2" fill="#c07a34" opacity="0.85"/>
<rect x="363.2" y="217.2" width="2" height="1" fill="#a85a28" opacity="0.85"/>
<rect x="362.6" y="216.8" width="1" height="2" fill="#a85a28" opacity="0.85"/>
<rect x="362.2" y="214.8" width="1" height="1" fill="#302030"/>
<rect x="335.4" y="294.2" width="1.5" height="1" fill="#c07a34" opacity="0.85"/>
<rect x="342.7" y="293.3" width="2" height="2" fill="#c89040" opacity="0.85"/>
<rect x="331.4" y="290.8" width="2" height="1" fill="#b86a2c" opacity="0.85"/>
<rect x="339.3" y="290.0" width="1" height="1" fill="#f8f8e0"/>
<rect x="340.5" y="292.4" width="1" height="1" fill="#201818"/>
<rect x="340.6" y="289.4" width="1" height="1" fill="#302030"/>
<rect x="289.1" y="233.3" width="1" height="1.5" fill="#b86a2c" opacity="0.85"/>
<rect x="338.8" y="219.9" width="2" height="2" fill="#c89040" opacity="0.85"/>
<rect x="344.4" y="218.4" width="1" height="1.5" fill="#c07a34" opacity="0.85"/>
<rect x="339.8" y="221.2" width="1.5" height="1" fill="#a85a28" opacity="0.85"/>
<rect x="340.0" y="218.0" width="1" height="1" fill="#c07a34" opacity="0.85"/>
<rect x="341.1" y="212.1" width="1" height="1" fill="#c89040" opacity="0.85"/>
<rect x="341.7" y="217.5" width="1" height="1" fill="#302030"/>
<rect x="337.6" y="214.8" width="1" height="1" fill="#201818"/>
<rect x="335.6" y="217.6" width="1" height="1" fill="#201818"/>
<rect x="396.2" y="314.7" width="1" height="2" fill="#b86a2c" opacity="0.85"/>
<rect x="394.7" y="316.1" width="1" height="1" fill="#302030"/>
<rect x="393.7" y="315.7" width="1" height="1" fill="#302030"/>
<rect x="394.6" y="315.4" width="1" height="1" fill="#302030"/>
<rect x="331.6" y="215.8" width="1" height="2" fill="#c07a34" opacity="0.85"/>
<rect x="321.0" y="291.4" width="2" height="1.5" fill="#b86a2c" opacity="0.85"/>
<rect x="322.1" y="290.6" width="2" height="1.5" fill="#c89040" opacity="0.85"/>
<rect x="326.0" y="288.0" width="1" height="1" fill="#c07a34" opacity="0.85"/>
<rect x="320.6" y="288.0" width="1" height="1.5" fill="#c07a34" opacity="0.85"/>
<rect x="319.8" y="290.8" width="1.5" height="1.5" fill="#a85a28" opacity="0.85"/>
<rect x="334.9" y="213.3" width="1.5" height="2" fill="#b86a2c" opacity="0.85"/>
<rect x="337.0" y="214.4" width="1" height="2" fill="#b86a2c" opacity="0.85"/>
<rect x="335.7" y="217.5" width="1.5" height="1" fill="#b86a2c" opacity="0.85"/>
<rect x="334.4" y="215.9" width="1.5" height="1" fill="#b86a2c" opacity="0.85"/>
<rect x="335.0" y="220.8" width="1" height="1" fill="#c89040" opacity="0.85"/>
<rect x="340.1" y="212.5" width="2" height="1.5" fill="#b86a2c" opacity="0.85"/>
<rect x="416.0" y="281.6" width="2" height="1" fill="#b86a2c" opacity="0.85"/>
<rect x="412.0" y="281.3" width="1" height="1" fill="#c07a34" opacity="0.85"/>
<rect x="416.8" y="282.6" width="1.5" height="2" fill="#c89040" opacity="0.85"/>
<rect x="416.2" y="285.6" width="1.5" height="2" fill="#c89040" opacity="0.85"/>
<rect x="416.8" y="282.2" width="1" height="1.5" fill="#c07a34" opacity="0.85"/>
<rect x="414.7" y="278.7" width="1" height="1" fill="#f8f8e0"/>
<rect x="416.8" y="280.9" width="1" height="1" fill="#201818"/>
<rect x="412.9" y="278.5" width="1" height="1" fill="#201818"/>
<rect x="294.9" y="271.6" width="1.5" height="2" fill="#c07a34" opacity="0.85"/>
<rect x="295.0" y="275.7" width="1" height="2" fill="#a85a28" opacity="0.85"/>
<rect x="296.6" y="271.2" width="2" height="1.5" fill="#c89040" opacity="0.85"/>
<rect x="290.2" y="271.3" width="1.5" height="1" fill="#a85a28" opacity="0.85"/>
<rect x="309.2" y="320.2" width="1.5" height="1.5" fill="#c07a34" opacity="0.85"/>
<rect x="305.3" y="320.1" width="2" height="2" fill="#c07a34" opacity="0.85"/>
<rect x="303.5" y="315.8" width="1" height="1" fill="#f8f8e0"/>
<rect x="305.6" y="317.4" width="1" height="1" fill="#f8f8e0"/>
<rect x="313.7" y="321.1" width="1" height="1" fill="#f8f8e0"/>
<rect x="401.7" y="203.7" width="2" height="1" fill="#c07a34" opacity="0.85"/>
<rect x="400.3" y="204.4" width="1" height="1.5" fill="#c07a34" opacity="0.85"/>
<rect x="396.6" y="203.1" width="1" height="1" fill="#201818"/>
<rect x="401.0" y="238.9" width="2" height="1" fill="#b86a2c" opacity="0.85"/>
<rect x="305.9" y="337.0" width="2" height="1.5" fill="#b86a2c" opacity="0.85"/>
<rect x="320.9" y="265.2" width="2" height="1.5" fill="#c89040" opacity="0.85"/>
<rect x="319.5" y="265.1" width="1.5" height="1" fill="#c89040" opacity="0.85"/>
<rect x="321.6" y="266.7" width="1.5" height="1" fill="#a85a28" opacity="0.85"/>
<rect x="317.2" y="261.8" width="1.5" height="1.5" fill="#a85a28" opacity="0.85"/>
<rect x="377.9" y="340.7" width="2" height="1.5" fill="#a85a28" opacity="0.85"/>
<rect x="382.1" y="342.4" width="2" height="2" fill="#c07a34" opacity="0.85"/>
<rect x="378.2" y="338.9" width="1" height="1" fill="#a85a28" opacity="0.85"/>
<rect x="382.8" y="339.7" width="1" height="1" fill="#c07a34" opacity="0.85"/>
<rect x="383.1" y="340.2" width="2" height="2" fill="#c89040" opacity="0.85"/>
<rect x="377.4" y="340.7" width="1.5" height="1.5" fill="#a85a28" opacity="0.85"/>
<rect x="380.0" y="340.6" width="1" height="1" fill="#201818"/>
<rect x="379.6" y="280.2" width="1.5" height="1.5" fill="#b86a2c" opacity="0.85"/>
<rect x="380.8" y="279.1" width="2" height="1.5" fill="#c07a34" opacity="0.85"/>
<rect x="379.5" y="277.1" width="1.5" height="1.5" fill="#c89040" opacity="0.85"/>
<rect x="376.7" y="278.6" width="1.5" height="1.5" fill="#b86a2c" opacity="0.85"/>
<rect x="382.1" y="282.0" width="2" height="1" fill="#b86a2c" opacity="0.85"/>
<rect x="381.0" y="280.9" width="1.5" height="2" fill="#c89040" opacity="0.85"/>
<rect x="379.2" y="278.8" width="1" height="1" fill="#302030"/>
<rect x="385.5" y="279.2" width="1.5" height="1.5" fill="#a85a28" opacity="0.85"/>
<rect x="390.8" y="280.6" width="1.5" height="1.5" fill="#a85a28" opacity="0.85"/>
<rect x="382.3" y="274.7" width="1" height="1" fill="#f8f8e0"/>
<rect x="385.5" y="274.7" width="1" height="1" fill="#f8f8e0"/>
<rect x="339.6" y="287.5" width="2" height="1" fill="#c89040" opacity="0.85"/>
<rect x="341.7" y="291.0" width="1" height="1" fill="#c07a34" opacity="0.85"/>
<rect x="342.8" y="288.9" width="2" height="1.5" fill="#b86a2c" opacity="0.85"/>
<rect x="335.2" y="286.0" width="1" height="1" fill="#c89040" opacity="0.85"/>
<rect x="341.1" y="285.3" width="1" height="1" fill="#a85a28" opacity="0.85"/>
<rect x="338.4" y="286.5" width="1.5" height="2" fill="#b86a2c" opacity="0.85"/>
<rect x="338.0" y="292.8" width="1" height="1" fill="#f8f8e0"/>
<rect x="339.9" y="287.3" width="1" height="1" fill="#f8f8e0"/>
<rect x="383.4" y="201.9" width="1" height="1" fill="#c07a34" opacity="0.85"/>
<rect x="382.9" y="202.3" width="1" height="1" fill="#302030"/>
<rect x="384.1" y="204.4" width="1" height="1" fill="#201818"/>
<rect x="385.7" y="200.7" width="1" height="1" fill="#302030"/>
<rect x="343.1" y="301.6" width="1.5" height="1.5" fill="#b86a2c" opacity="0.85"/>
<rect x="338.6" y="303.6" width="1.5" height="1.5" fill="#c07a34" opacity="0.85"/>
<rect x="341.6" y="303.0" width="1.5" height="1.5" fill="#a85a28" opacity="0.85"/>
<rect x="340.3" y="303.5" width="1.5" height="1" fill="#b86a2c" opacity="0.85"/>
<rect x="342.8" y="301.2" width="1.5" height="1" fill="#c89040" opacity="0.85"/>
<rect x="342.5" y="303.3" width="1" height="1" fill="#f8f8e0"/>
<rect x="330.3" y="226.2" width="1.5" height="1.5" fill="#c07a34" opacity="0.85"/>
<rect x="390.4" y="260.7" width="1" height="1" fill="#c89040" opacity="0.85"/>
<rect x="395.8" y="259.4" width="1" height="1" fill="#b86a2c" opacity="0.85"/>
<rect x="392.2" y="259.7" width="1.5" height="2" fill="#b86a2c" opacity="0.85"/>
<rect x="396.2" y="257.1" width="1" height="1" fill="#f8f8e0"/>
<rect x="391.5" y="265.6" width="1" height="1" fill="#302030"/>
<rect x="385.5" y="343.5" width="1.5" height="2" fill="#a85a28" opacity="0.85"/>
<rect x="385.2" y="342.5" width="1.5" height="1" fill="#b86a2c" opacity="0.85"/>
<rect x="388.2" y="343.8" width="1" height="1" fill="#b86a2c" opacity="0.85"/>
<rect x="384.1" y="342.0" width="2" height="1.5" fill="#c07a34" opacity="0.85"/>
<rect x="384.0" y="344.2" width="1" height="1" fill="#302030"/>
<rect x="386.2" y="341.6" width="1" height="1" fill="#302030"/>
<rect x="385.6" y="338.3" width="1" height="1" fill="#302030"/>
<rect x="283.2" y="243.9" width="1.5" height="2" fill="#c89040" opacity="0.85"/>
<rect x="283.2" y="245.7" width="2" height="1.5" fill="#a85a28" opacity="0.85"/>
<rect x="283.4" y="241.5" width="1.5" height="1.5" fill="#c07a34" opacity="0.85"/>
<rect x="278.3" y="243.7" width="1.5" height="1.5" fill="#c07a34" opacity="0.85"/>
<rect x="282.2" y="242.3" width="1" height="1" fill="#201818"/>
<rect x="281.4" y="242.0" width="1" height="1" fill="#302030"/>
<rect x="284.7" y="244.6" width="1" height="1" fill="#f8f8e0"/>
<rect x="285.7" y="235.2" width="1" height="1.5" fill="#c89040" opacity="0.85"/>
<rect x="285.7" y="232.0" width="1.5" height="1.5" fill="#b86a2c" opacity="0.85"/>
<rect x="284.9" y="235.1" width="1" height="1.5" fill="#a85a28" opacity="0.85"/>
<rect x="283.6" y="234.7" width="2" height="1" fill="#c07a34" opacity="0.85"/>
<rect x="280.6" y="228.5" width="2" height="1" fill="#b86a2c" opacity="0.85"/>
<rect x="284.3" y="235.3" width="1" height="1" fill="#c89040" opacity="0.85"/>
<rect x="283.6" y="231.1" width="1" height="1" fill="#201818"/>
<rect x="279.5" y="234.9" width="1" height="1" fill="#201818"/>
<rect x="391.6" y="214.8" width="1.5" height="1" fill="#b86a2c" opacity="0.85"/>
<rect x="387.2" y="218.4" width="1" height="1" fill="#f8f8e0"/>
<rect x="388.2" y="213.2" width="1" height="1" fill="#f8f8e0"/>
<rect x="392.5" y="214.0" width="1" height="1" fill="#f8f8e0"/>
<rect x="368.0" y="311.9" width="1.5" height="1" fill="#b86a2c" opacity="0.85"/>
<rect x="364.2" y="313.9" width="2" height="2" fill="#b86a2c" opacity="0.85"/>
<rect x="365.8" y="315.7" width="1" height="2" fill="#a85a28" opacity="0.85"/>
<rect x="366.7" y="313.6" width="1" height="1" fill="#f8f8e0"/>
<rect x="367.1" y="316.7" width="1" height="1" fill="#201818"/>
<rect x="365.2" y="316.8" width="1" height="1" fill="#201818"/>
<rect x="308.9" y="245.4" width="2" height="2" fill="#c89040" opacity="0.85"/>
<rect x="308.2" y="245.8" width="1.5" height="1.5" fill="#c07a34" opacity="0.85"/>
<rect x="310.1" y="243.9" width="1.5" height="1.5" fill="#c89040" opacity="0.85"/>
<rect x="310.7" y="246.8" width="1.5" height="1" fill="#c07a34" opacity="0.85"/>
<rect x="306.1" y="246.6" width="1" height="1.5" fill="#b86a2c" opacity="0.85"/>
<rect x="305.3" y="246.4" width="2" height="1" fill="#a85a28" opacity="0.85"/>
<rect x="303.6" y="247.9" width="1" height="1" fill="#f8f8e0"/>
<rect x="307.1" y="251.1" width="1" height="1" fill="#201818"/>
<rect x="307.4" y="248.2" width="1" height="1" fill="#302030"/>
<rect x="334.6" y="226.0" width="1.5" height="2" fill="#a85a28" opacity="0.85"/>
<rect x="336.5" y="228.6" width="1.5" height="1.5" fill="#c07a34" opacity="0.85"/>
<rect x="331.6" y="232.8" width="1.5" height="1" fill="#c89040" opacity="0.85"/>
<rect x="332.9" y="230.9" width="1.5" height="2" fill="#c07a34" opacity="0.85"/>
<rect x="269.3" y="292.1" width="1" height="1" fill="#c07a34" opacity="0.85"/>
<rect x="274.5" y="292.0" width="1.5" height="1.5" fill="#b86a2c" opacity="0.85"/>
<rect x="270.8" y="292.8" width="1" height="1" fill="#302030"/>
<rect x="274.5" y="289.7" width="1" height="1" fill="#f8f8e0"/>
<rect x="269.6" y="292.1" width="1" height="1" fill="#302030"/>
<rect x="305.8" y="299.6" width="1" height="1" fill="#c89040" opacity="0.85"/>
<rect x="314.4" y="300.5" width="1" height="2" fill="#c07a34" opacity="0.85"/>
<rect x="310.8" y="297.7" width="1.5" height="2" fill="#a85a28" opacity="0.85"/>
<rect x="305.6" y="298.2" width="1" height="1" fill="#b86a2c" opacity="0.85"/>
<rect x="304.0" y="294.6" width="1" height="1" fill="#302030"/>
<rect x="303.7" y="299.5" width="1" height="1" fill="#f8f8e0"/>
<rect x="304.9" y="298.5" width="1" height="1" fill="#f8f8e0"/>
<rect x="296.5" y="229.3" width="1" height="1.5" fill="#a85a28" opacity="0.85"/>
<rect x="292.2" y="226.7" width="1.5" height="1.5" fill="#a85a28" opacity="0.85"/>
<rect x="295.1" y="225.8" width="1.5" height="1" fill="#b86a2c" opacity="0.85"/>
<rect x="290.2" y="228.3" width="1.5" height="2" fill="#a85a28" opacity="0.85"/>
<rect x="296.7" y="226.6" width="2" height="1" fill="#c89040" opacity="0.85"/>
<rect x="296.6" y="228.8" width="1.5" height="1" fill="#c89040" opacity="0.85"/>
<rect x="321.8" y="276.0" width="1.5" height="1" fill="#c89040" opacity="0.85"/>
<rect x="325.6" y="274.6" width="1" height="1.5" fill="#c07a34" opacity="0.85"/>
<rect x="328.6" y="273.8" width="1.5" height="2" fill="#c89040" opacity="0.85"/>
<rect x="323.0" y="275.2" width="1.5" height="1.5" fill="#c89040" opacity="0.85"/>
<rect x="324.5" y="275.3" width="1" height="1" fill="#b86a2c" opacity="0.85"/>
<rect x="323.2" y="274.4" width="2" height="1" fill="#b86a2c" opacity="0.85"/>
<rect x="327.4" y="274.8" width="1" height="1" fill="#302030"/>
<rect x="323.2" y="278.3" width="1" height="1" fill="#302030"/>
<rect x="311.9" y="287.6" width="1" height="1" fill="#c07a34" opacity="0.85"/>
<rect x="310.5" y="279.8" width="1.5" height="2" fill="#b86a2c" opacity="0.85"/>
<rect x="310.2" y="283.0" width="1" height="1" fill="#f8f8e0"/>
<rect x="295.1" y="226.6" width="1" height="2" fill="#c07a34" opacity="0.85"/>
<rect x="293.8" y="227.8" width="1.5" height="1" fill="#b86a2c" opacity="0.85"/>
<rect x="295.6" y="227.8" width="1" height="1" fill="#302030"/>
<rect x="296.3" y="228.7" width="1" height="1" fill="#f8f8e0"/>
<rect x="286.1" y="227.3" width="1" height="1" fill="#a85a28" opacity="0.85"/>
<rect x="275.4" y="226.1" width="1" height="2" fill="#a85a28" opacity="0.85"/>
<rect x="276.4" y="228.0" width="2" height="2" fill="#c89040" opacity="0.85"/>
<rect x="276.9" y="228.1" width="1" height="1" fill="#302030"/>
<rect x="281.5" y="229.7" width="1" height="1" fill="#302030"/>
<rect x="280.9" y="230.6" width="1" height="1" fill="#f8f8e0"/>
<rect x="392.6" y="229.4" width="1" height="1" fill="#b86a2c" opacity="0.85"/>
<rect x="390.5" y="228.0" width="1" height="2" fill="#b86a2c" opacity="0.85"/>
<rect x="397.3" y="222.3" width="1" height="1" fill="#f8f8e0"/>
<rect x="372.4" y="278.5" width="1.5" height="1.5" fill="#c07a34" opacity="0.85"/>
<rect x="368.9" y="276.1" width="1.5" height="2" fill="#a85a28" opacity="0.85"/>
<rect x="368.2" y="274.7" width="2" height="2" fill="#a85a28" opacity="0.85"/>
<rect x="368.6" y="283.6" width="1" height="1" fill="#302030"/>
<rect x="371.6" y="280.0" width="1" height="1" fill="#201818"/>
<rect x="377.1" y="251.9" width="1.5" height="1.5" fill="#c07a34" opacity="0.85"/>
<rect x="374.4" y="250.0" width="1" height="2" fill="#c89040" opacity="0.85"/>
<rect x="377.8" y="249.6" width="1.5" height="1.5" fill="#a85a28" opacity="0.85"/>
<rect x="381.1" y="251.1" width="1.5" height="1" fill="#b86a2c" opacity="0.85"/>
<rect x="376.1" y="250.7" width="2" height="1.5" fill="#b86a2c" opacity="0.85"/>
<rect x="373.1" y="251.4" width="2" height="2" fill="#a85a28" opacity="0.85"/>
<rect x="308.6" y="275.8" width="2" height="1" fill="#c89040" opacity="0.85"/>
<rect x="314.0" y="275.2" width="1.5" height="1" fill="#b86a2c" opacity="0.85"/>
<rect x="313.7" y="274.7" width="1.5" height="1.5" fill="#a85a28" opacity="0.85"/>
<rect x="313.3" y="274.5" width="2" height="1.5" fill="#c89040" opacity="0.85"/>
<rect x="315.3" y="269.8" width="1" height="1" fill="#201818"/>
<rect x="309.5" y="275.4" width="1" height="1" fill="#201818"/>
<rect x="339.5" y="337.5" width="1.5" height="2" fill="#c07a34" opacity="0.85"/>
<rect x="345.1" y="337.7" width="1" height="1.5" fill="#b86a2c" opacity="0.85"/>
<rect x="341.9" y="338.7" width="1" height="1" fill="#201818"/>
<rect x="342.7" y="337.0" width="1" height="1" fill="#201818"/>
<rect x="346.1" y="262.6" width="1.5" height="1" fill="#b86a2c" opacity="0.85"/>
<rect x="348.5" y="264.9" width="2" height="1.5" fill="#b86a2c" opacity="0.85"/>
<rect x="345.5" y="261.6" width="1.5" height="2" fill="#b86a2c" opacity="0.85"/>
<rect x="345.3" y="261.4" width="1.5" height="2" fill="#c07a34" opacity="0.85"/>
<rect x="345.5" y="262.2" width="1.5" height="1" fill="#b86a2c" opacity="0.85"/>
<rect x="344.1" y="262.8" width="2" height="2" fill="#c07a34" opacity="0.85"/>
<rect x="293.6" y="322.1" width="1.5" height="2" fill="#c07a34" opacity="0.85"/>
<rect x="295.7" y="322.6" width="2" height="1" fill="#a85a28" opacity="0.85"/>
<rect x="293.7" y="319.5" width="2" height="2" fill="#c07a34" opacity="0.85"/>
<rect x="291.9" y="322.0" width="1.5" height="2" fill="#c07a34" opacity="0.85"/>
<rect x="290.9" y="321.1" width="1" height="1" fill="#c89040" opacity="0.85"/>
<rect x="404.7" y="276.8" width="1.5" height="1.5" fill="#c07a34" opacity="0.85"/>
<rect x="402.9" y="276.2" width="2" height="1" fill="#c07a34" opacity="0.85"/>
<rect x="405.0" y="274.7" width="1" height="1" fill="#302030"/>
<rect x="406.1" y="275.3" width="1" height="1" fill="#f8f8e0"/>
<rect x="410.1" y="272.5" width="1" height="1" fill="#201818"/>
<rect x="302.4" y="266.8" width="1" height="1" fill="#a85a28" opacity="0.85"/>
<rect x="300.1" y="263.7" width="2" height="1.5" fill="#c89040" opacity="0.85"/>
<rect x="298.7" y="262.8" width="1.5" height="1.5" fill="#b86a2c" opacity="0.85"/>
<rect x="303.6" y="265.9" width="1.5" height="1.5" fill="#b86a2c" opacity="0.85"/>
<rect x="299.7" y="263.8" width="1.5" height="2" fill="#c89040" opacity="0.85"/>
<rect x="298.9" y="266.5" width="1" height="1" fill="#302030"/>
<rect x="319.9" y="345.8" width="1.5" height="1.5" fill="#c07a34" opacity="0.85"/>
<rect x="318.9" y="346.3" width="2" height="1" fill="#a85a28" opacity="0.85"/>
<rect x="317.1" y="347.2" width="1.5" height="1.5" fill="#c89040" opacity="0.85"/>
<rect x="321.8" y="347.4" width="2" height="1" fill="#b86a2c" opacity="0.85"/>
<rect x="316.6" y="344.9" width="1" height="1" fill="#302030"/>
<rect x="312.6" y="344.9" width="1" height="1" fill="#f8f8e0"/>
<g filter="url(#blob2)"><g transform="translate(287.8,218.7) scale(1.000,1.000) translate(-287.8,-218.7)">
<path d="M295.4,216.3 Q296.5,218.2 295.7,220.4 Q294.9,222.5 293.1,223.5 Q291.3,224.5 289.4,224.4 Q287.6,224.3 286.4,223.5 Q285.1,222.6 284.3,221.6 Q283.4,220.7 282.8,219.5 Q282.2,218.2 282.2,216.7 Q282.2,215.1 283.2,213.7 Q284.2,212.3 285.9,212.5 Q287.6,212.7 289.0,213.0 Q290.4,213.4 292.4,213.9 Q294.3,214.4 295.4,216.3Z" fill="#b8682a"/>
<path d="M293.3,217.2 Q293.6,218.7 293.0,220.0 Q292.3,221.3 291.4,222.2 Q290.4,223.2 289.1,223.5 Q287.8,223.7 286.3,223.8 Q284.9,223.8 283.3,223.0 Q281.8,222.2 281.3,220.4 Q280.8,218.7 281.6,217.1 Q282.4,215.6 283.7,214.8 Q285.1,214.0 286.4,213.8 Q287.8,213.6 289.1,213.9 Q290.5,214.1 291.7,214.9 Q293.0,215.7 293.3,217.2Z" fill="#6a2270"/>
<path d="M292.7,217.4 Q293.2,218.7 292.9,220.1 Q292.5,221.4 291.4,222.2 Q290.3,223.0 289.0,223.3 Q287.8,223.6 286.4,223.7 Q284.9,223.7 283.7,222.8 Q282.4,221.8 282.0,220.3 Q281.6,218.7 282.1,217.2 Q282.6,215.7 283.7,214.6 Q284.8,213.5 286.3,213.3 Q287.8,213.2 289.1,213.8 Q290.3,214.4 291.2,215.3 Q292.2,216.2 292.7,217.4Z" fill="#2c0a68"/>
<path d="M291.1,217.4 Q291.1,218.7 290.5,219.5 Q289.8,220.4 289.1,220.9 Q288.4,221.4 287.5,221.5 Q286.5,221.6 285.6,221.2 Q284.7,220.7 284.1,219.7 Q283.4,218.7 283.7,217.4 Q284.0,216.2 285.1,215.4 Q286.2,214.7 287.5,214.6 Q288.9,214.4 290.0,215.3 Q291.1,216.1 291.1,217.4Z" fill="#180446"/>
</g></g>
<rect x="295.2" y="216.6" width="1" height="1" fill="#a85a28"/>
<rect x="280.4" y="220.1" width="1" height="1.5" fill="#2a1a20"/>
<rect x="279.1" y="219.8" width="1.5" height="1" fill="#2a1a20"/>
<rect x="295.7" y="213.7" width="1" height="1" fill="#a85a28"/>
<rect x="279.8" y="222.2" width="1" height="1.5" fill="#3a1a40"/>
<rect x="278.9" y="220.8" width="1" height="1.5" fill="#a85a28"/>
<rect x="291.0" y="224.6" width="1" height="1.5" fill="#3a1a40"/>
<g filter="url(#blob2)"><g transform="translate(324.0,218.7) scale(1.000,1.000) translate(-324.0,-218.7)">
<path d="M331.9,216.3 Q332.7,218.3 332.4,220.5 Q332.1,222.7 330.2,223.9 Q328.3,225.0 326.3,225.0 Q324.4,225.0 322.8,224.4 Q321.2,223.7 320.5,222.3 Q319.8,220.9 319.2,219.6 Q318.7,218.3 318.2,216.3 Q317.7,214.4 319.0,212.9 Q320.4,211.3 322.4,210.9 Q324.4,210.5 326.4,210.9 Q328.4,211.3 329.7,212.9 Q331.1,214.4 331.9,216.3Z" fill="#b8682a"/>
<path d="M330.2,217.1 Q330.8,218.7 330.3,220.4 Q329.8,222.0 328.3,222.8 Q326.8,223.5 325.4,223.7 Q324.0,223.8 322.7,223.5 Q321.4,223.2 320.4,222.3 Q319.3,221.4 318.8,220.1 Q318.3,218.7 318.7,217.3 Q319.2,215.9 320.3,215.0 Q321.3,214.1 322.7,213.6 Q324.0,213.1 325.6,213.2 Q327.1,213.3 328.4,214.4 Q329.6,215.5 330.2,217.1Z" fill="#6a2270"/>
<path d="M328.5,217.6 Q329.1,218.7 329.0,220.1 Q329.0,221.6 328.0,222.7 Q327.0,223.9 325.5,224.2 Q324.0,224.5 322.5,224.2 Q321.0,223.8 320.1,222.7 Q319.1,221.6 318.8,220.1 Q318.5,218.7 319.0,217.4 Q319.6,216.1 320.6,215.4 Q321.6,214.6 322.8,214.3 Q324.0,213.9 325.1,214.3 Q326.3,214.7 327.1,215.6 Q327.9,216.5 328.5,217.6Z" fill="#2c0a68"/>
<path d="M327.1,217.6 Q327.5,218.7 327.1,219.8 Q326.7,220.9 325.8,221.6 Q324.9,222.3 323.6,222.5 Q322.4,222.7 321.4,221.9 Q320.5,221.0 320.2,219.9 Q320.0,218.7 320.3,217.6 Q320.6,216.4 321.5,215.6 Q322.4,214.8 323.7,214.8 Q324.9,214.9 325.8,215.7 Q326.7,216.5 327.1,217.6Z" fill="#180446"/>
</g></g>
<rect x="317.1" y="216.0" width="1" height="1" fill="#2a1a20"/>
<rect x="315.4" y="218.3" width="1" height="1" fill="#b86a2a"/>
<rect x="317.6" y="213.2" width="1.5" height="1" fill="#b86a2a"/>
<rect x="315.8" y="221.2" width="1" height="1.5" fill="#a85a28"/>
<rect x="320.9" y="209.3" width="1" height="1.5" fill="#a85a28"/>
<rect x="327.7" y="212.8" width="1" height="1" fill="#3a1a40"/>
<rect x="320.3" y="227.0" width="1" height="1" fill="#a85a28"/>
<rect x="319.4" y="210.4" width="1" height="1.5" fill="#b86a2a"/>
<g filter="url(#blob2)"><g transform="translate(359.9,218.5) scale(1.000,1.000) translate(-359.9,-218.5)">
<path d="M365.8,217.4 Q366.6,219.0 366.2,220.8 Q365.7,222.6 364.4,224.0 Q363.2,225.4 361.3,225.7 Q359.5,226.0 357.7,225.6 Q355.9,225.2 354.0,224.2 Q352.2,223.2 351.9,221.1 Q351.7,219.0 352.9,217.4 Q354.1,215.9 355.3,214.8 Q356.4,213.7 358.0,213.1 Q359.5,212.5 360.9,213.2 Q362.4,213.9 363.7,214.8 Q364.9,215.8 365.8,217.4Z" fill="#b8682a"/>
<path d="M365.7,216.9 Q365.8,218.5 365.3,219.9 Q364.8,221.3 363.6,222.2 Q362.5,223.0 361.2,223.5 Q359.9,223.9 358.6,223.5 Q357.2,223.1 356.5,222.0 Q355.8,220.9 355.2,219.7 Q354.7,218.5 354.8,217.0 Q354.8,215.6 356.0,214.6 Q357.1,213.7 358.5,213.4 Q359.9,213.0 361.5,212.9 Q363.2,212.9 364.4,214.0 Q365.6,215.2 365.7,216.9Z" fill="#6a2270"/>
<path d="M364.7,217.3 Q365.2,218.5 364.7,219.7 Q364.1,220.9 363.1,221.6 Q362.1,222.3 361.0,222.7 Q359.9,223.1 358.6,223.0 Q357.3,222.9 356.5,221.9 Q355.7,220.9 355.5,219.7 Q355.4,218.5 355.4,217.2 Q355.5,215.9 356.2,214.7 Q357.0,213.4 358.4,213.1 Q359.9,212.8 361.1,213.5 Q362.3,214.3 363.2,215.2 Q364.1,216.1 364.7,217.3Z" fill="#2c0a68"/>
<path d="M363.5,217.2 Q363.9,218.5 363.5,219.7 Q363.0,221.0 361.9,221.5 Q360.8,222.1 359.7,221.8 Q358.6,221.5 357.9,220.9 Q357.1,220.3 356.5,219.4 Q355.9,218.5 356.3,217.5 Q356.7,216.4 357.6,215.8 Q358.5,215.2 359.7,214.9 Q360.9,214.6 362.0,215.3 Q363.1,215.9 363.5,217.2Z" fill="#180446"/>
</g></g>
<rect x="362.0" y="212.3" width="1" height="1" fill="#b86a2a"/>
<rect x="365.1" y="212.4" width="1" height="1.5" fill="#3a1a40"/>
<rect x="366.4" y="215.3" width="1" height="1" fill="#a85a28"/>
<rect x="369.2" y="214.7" width="1" height="1" fill="#a85a28"/>
<rect x="362.1" y="225.6" width="1" height="1.5" fill="#a85a28"/>
<rect x="357.9" y="226.4" width="1" height="1" fill="#b86a2a"/>
<rect x="363.3" y="208.9" width="1" height="1" fill="#2a1a20"/>
<g filter="url(#blob2)"><g transform="translate(396.7,218.5) scale(1.000,1.000) translate(-396.7,-218.5)">
<path d="M404.2,216.4 Q404.0,218.6 403.7,220.4 Q403.4,222.3 402.2,223.9 Q401.0,225.5 399.0,225.6 Q397.0,225.8 395.1,225.5 Q393.2,225.1 391.8,223.7 Q390.4,222.3 389.9,220.5 Q389.3,218.6 389.6,216.5 Q390.0,214.5 391.6,213.3 Q393.2,212.1 395.1,211.6 Q397.0,211.1 399.1,211.1 Q401.3,211.1 402.8,212.7 Q404.4,214.3 404.2,216.4Z" fill="#b8682a"/>
<path d="M402.1,217.2 Q402.8,218.5 402.8,220.3 Q402.8,222.0 401.6,223.4 Q400.3,224.8 398.5,225.0 Q396.7,225.3 395.1,224.6 Q393.6,223.9 392.7,222.6 Q391.9,221.3 391.8,219.9 Q391.7,218.5 392.1,217.3 Q392.5,216.1 393.2,214.9 Q394.0,213.8 395.3,213.0 Q396.7,212.3 398.2,212.9 Q399.6,213.4 400.5,214.6 Q401.3,215.8 402.1,217.2Z" fill="#6a2270"/>
<path d="M402.2,217.0 Q402.5,218.5 402.3,220.1 Q402.1,221.6 401.1,223.0 Q400.1,224.3 398.4,224.5 Q396.7,224.7 395.3,223.9 Q394.0,223.2 393.1,222.1 Q392.3,221.1 391.8,219.8 Q391.4,218.5 391.7,217.2 Q392.1,215.8 393.1,214.9 Q394.1,214.0 395.4,213.6 Q396.7,213.2 398.1,213.4 Q399.6,213.5 400.7,214.5 Q401.9,215.5 402.2,217.0Z" fill="#2c0a68"/>
<path d="M400.6,217.2 Q401.2,218.5 400.6,219.8 Q399.9,221.1 398.8,221.8 Q397.7,222.5 396.4,222.6 Q395.0,222.8 394.0,221.8 Q393.1,220.9 392.9,219.7 Q392.8,218.5 393.2,217.5 Q393.7,216.5 394.5,215.7 Q395.3,215.0 396.5,214.8 Q397.7,214.6 398.8,215.3 Q400.0,215.9 400.6,217.2Z" fill="#180446"/>
</g></g>
<rect x="399.4" y="226.9" width="1" height="1" fill="#b86a2a"/>
<rect x="399.7" y="211.8" width="1.5" height="1" fill="#3a1a40"/>
<rect x="404.6" y="219.6" width="1" height="1" fill="#a85a28"/>
<rect x="391.4" y="210.4" width="1.5" height="1" fill="#b86a2a"/>
<rect x="395.1" y="209.9" width="1" height="1.5" fill="#a85a28"/>
<rect x="406.5" y="221.3" width="1.5" height="1.5" fill="#3a1a40"/>
<rect x="395.7" y="208.5" width="1" height="1.5" fill="#2a1a20"/>
<rect x="400.9" y="210.4" width="1.5" height="1.5" fill="#a85a28"/>
<g filter="url(#blob2)">
<path d="M292.0,254.6 Q291.9,255.5 291.8,256.3 Q291.7,257.0 291.5,258.3 Q291.4,259.6 290.2,260.2 Q289.0,260.9 287.9,260.2 Q286.7,259.5 286.3,258.4 Q285.8,257.3 286.0,256.4 Q286.2,255.5 286.3,254.8 Q286.5,254.1 286.8,253.2 Q287.2,252.3 288.1,252.1 Q289.0,251.9 289.9,252.2 Q290.8,252.4 291.4,253.1 Q292.1,253.7 292.0,254.6Z" fill="#c07430" opacity="0.95"/>
<path d="M291.1,254.9 Q291.3,255.5 291.4,256.3 Q291.5,257.0 290.8,257.5 Q290.2,257.9 289.5,257.7 Q288.8,257.4 288.2,257.1 Q287.7,256.8 287.3,256.1 Q287.0,255.5 287.2,254.8 Q287.4,254.1 288.0,253.5 Q288.6,253.0 289.4,253.1 Q290.2,253.1 290.6,253.7 Q291.0,254.4 291.1,254.9Z" fill="#7a2c6a" opacity="0.85"/>
</g>
<g filter="url(#blob2)"><g transform="translate(324.0,254.2) scale(1.000,1.000) translate(-324.0,-254.2)">
<path d="M329.0,252.6 Q329.4,253.9 329.1,255.1 Q328.7,256.4 327.7,257.3 Q326.8,258.1 325.5,258.3 Q324.3,258.5 323.1,258.3 Q321.9,258.1 321.2,257.1 Q320.6,256.0 320.6,254.9 Q320.5,253.9 320.6,252.8 Q320.6,251.8 321.4,250.9 Q322.1,250.1 323.2,249.8 Q324.3,249.4 325.5,249.7 Q326.6,249.9 327.6,250.6 Q328.6,251.4 329.0,252.6Z" fill="#b8682a"/>
<path d="M327.7,253.3 Q328.1,254.2 327.7,255.2 Q327.3,256.1 326.5,256.6 Q325.7,257.2 324.9,257.5 Q324.0,257.8 323.0,257.7 Q322.0,257.7 321.2,257.0 Q320.4,256.3 320.5,255.2 Q320.5,254.2 320.9,253.4 Q321.2,252.6 321.7,251.8 Q322.1,251.0 323.1,250.6 Q324.0,250.3 324.9,250.7 Q325.8,251.0 326.5,251.7 Q327.2,252.3 327.7,253.3Z" fill="#6a2270"/>
<path d="M327.3,253.3 Q327.6,254.2 327.4,255.1 Q327.2,256.1 326.5,256.6 Q325.7,257.1 324.8,257.1 Q324.0,257.1 323.3,256.9 Q322.6,256.6 322.0,256.1 Q321.5,255.7 321.3,254.9 Q321.1,254.2 321.4,253.5 Q321.6,252.8 322.0,252.1 Q322.4,251.4 323.2,250.9 Q324.0,250.4 324.9,250.7 Q325.9,251.0 326.4,251.7 Q327.0,252.5 327.3,253.3Z" fill="#2c0a68"/>
<path d="M326.0,253.5 Q326.4,254.2 326.1,255.0 Q325.8,255.7 325.1,255.9 Q324.3,256.1 323.7,256.1 Q323.1,256.1 322.5,255.8 Q321.9,255.5 321.7,254.9 Q321.5,254.2 321.7,253.6 Q322.0,252.9 322.5,252.4 Q323.0,251.9 323.7,252.0 Q324.4,252.0 325.0,252.4 Q325.6,252.8 326.0,253.5Z" fill="#180446"/>
</g></g>
<rect x="328.3" y="257.9" width="1" height="1" fill="#3a1a40"/>
<rect x="328.2" y="254.9" width="1" height="1.5" fill="#3a1a40"/>
<rect x="318.1" y="258.2" width="1" height="1" fill="#3a1a40"/>
<rect x="321.0" y="261.1" width="1" height="1" fill="#b86a2a"/>
<g filter="url(#blob2)">
<path d="M363.6,253.4 Q363.9,254.5 363.5,255.6 Q363.1,256.6 362.6,257.7 Q362.0,258.8 360.7,259.4 Q359.5,260.0 358.2,259.4 Q357.0,258.9 356.5,257.7 Q356.0,256.5 355.9,255.5 Q355.9,254.5 355.8,253.4 Q355.7,252.3 356.3,251.1 Q356.9,250.0 358.2,249.9 Q359.5,249.7 360.5,250.4 Q361.5,251.1 362.3,251.7 Q363.2,252.4 363.6,253.4Z" fill="#c07430" opacity="0.95"/>
<path d="M361.4,254.0 Q361.5,254.5 361.3,254.9 Q361.1,255.4 360.8,255.7 Q360.4,256.1 359.8,256.3 Q359.2,256.5 358.7,256.2 Q358.1,255.8 357.9,255.2 Q357.6,254.5 358.0,253.9 Q358.3,253.3 358.8,253.1 Q359.3,252.8 359.9,252.7 Q360.5,252.7 360.9,253.1 Q361.3,253.5 361.4,254.0Z" fill="#7a2c6a" opacity="0.85"/>
</g>
<g filter="url(#blob2)"><g transform="translate(396.5,254.5) scale(1.000,1.000) translate(-396.5,-254.5)">
<path d="M403.3,253.2 Q403.9,255.0 403.4,256.9 Q402.8,258.8 401.4,260.1 Q400.0,261.4 398.2,262.1 Q396.3,262.9 394.4,262.3 Q392.5,261.8 391.4,260.2 Q390.3,258.6 390.2,256.8 Q390.2,255.0 390.9,253.7 Q391.5,252.3 392.4,251.0 Q393.3,249.8 394.8,249.1 Q396.3,248.5 398.1,248.8 Q399.8,249.1 401.2,250.3 Q402.6,251.4 403.3,253.2Z" fill="#b8682a"/>
<path d="M400.8,253.3 Q400.9,254.5 400.7,255.7 Q400.5,256.8 399.8,257.9 Q399.1,259.0 397.8,259.2 Q396.5,259.4 395.3,259.0 Q394.1,258.6 393.2,257.7 Q392.4,256.9 392.0,255.7 Q391.6,254.5 391.5,253.1 Q391.5,251.6 392.5,250.5 Q393.5,249.4 395.0,249.3 Q396.5,249.2 397.8,249.6 Q399.1,250.1 399.9,251.1 Q400.7,252.1 400.8,253.3Z" fill="#6a2270"/>
<path d="M400.5,253.5 Q400.9,254.5 400.6,255.6 Q400.2,256.7 399.4,257.3 Q398.5,257.9 397.5,258.1 Q396.5,258.4 395.4,258.3 Q394.3,258.2 393.3,257.6 Q392.3,256.9 392.0,255.7 Q391.8,254.5 392.2,253.4 Q392.6,252.2 393.2,251.1 Q393.9,250.0 395.2,249.6 Q396.5,249.1 397.7,249.8 Q398.8,250.5 399.5,251.5 Q400.1,252.4 400.5,253.5Z" fill="#2c0a68"/>
<path d="M398.9,253.6 Q399.0,254.5 398.7,255.3 Q398.4,256.1 397.7,256.6 Q397.0,257.1 396.2,257.1 Q395.4,257.1 394.7,256.6 Q394.0,256.1 393.6,255.3 Q393.2,254.5 393.3,253.5 Q393.4,252.5 394.2,251.7 Q395.0,250.8 396.2,250.9 Q397.3,251.0 398.1,251.8 Q398.8,252.6 398.9,253.6Z" fill="#180446"/>
</g></g>
<rect x="389.9" y="258.5" width="1" height="1" fill="#b86a2a"/>
<rect x="396.6" y="246.9" width="1.5" height="1" fill="#a85a28"/>
<rect x="393.5" y="247.4" width="1" height="1" fill="#b86a2a"/>
<rect x="402.2" y="250.2" width="1.5" height="1" fill="#3a1a40"/>
<rect x="405.1" y="251.9" width="1" height="1" fill="#2a1a20"/>
<rect x="388.8" y="258.4" width="1" height="1.5" fill="#3a1a40"/>
<g filter="url(#blob2)">
<path d="M399.2,290.8 Q399.0,291.5 399.0,292.1 Q398.9,292.6 398.7,293.4 Q398.5,294.1 397.8,294.4 Q397.0,294.8 396.2,294.6 Q395.3,294.4 394.9,293.7 Q394.4,293.0 394.6,292.3 Q394.9,291.5 395.2,291.1 Q395.6,290.7 395.9,290.3 Q396.1,290.0 396.6,289.6 Q397.0,289.2 397.7,289.1 Q398.4,289.0 398.9,289.6 Q399.4,290.1 399.2,290.8Z" fill="#c07430" opacity="0.95"/>
<path d="M398.7,291.1 Q398.8,291.5 398.6,291.9 Q398.5,292.3 398.2,292.6 Q397.8,292.8 397.4,292.7 Q397.0,292.7 396.8,292.4 Q396.5,292.1 396.4,291.8 Q396.3,291.5 396.4,291.2 Q396.5,290.8 396.7,290.6 Q397.0,290.3 397.4,290.3 Q397.8,290.2 398.2,290.4 Q398.6,290.7 398.7,291.1Z" fill="#7a2c6a" opacity="0.85"/>
</g>
<rect x="266.80" y="197.20" width="151.70" height="152.00" fill="none" stroke="#55583a" stroke-width="0.7"/>
<circle cx="397.4" cy="292.0" r="15" fill="none" stroke="#f21c1c" stroke-width="1.35" stroke-dasharray="3.4 2.1"/>
<rect x="371.20" y="332.80" width="44.30" height="3.2" fill="#fff" stroke="#333" stroke-width="1.0"/>
<text x="393.35" y="342.90" font-size="8.6" text-anchor="middle" fill="#f4f4f4" font-family="Liberation Sans" font-weight="bold" stroke="#2a2a2a" stroke-width="2.3" paint-order="stroke" stroke-linejoin="round">1μm</text>
<text x="311.00" y="286.00" font-size="12.2" text-anchor="start" fill="#000" font-family="Liberation Serif" font-weight="bold" textLength="67.6" lengthAdjust="spacingAndGlyphs">-1.02 MV/cm</text>
<text x="268.80" y="346.90" font-size="12.2" text-anchor="start" fill="#000" font-family="Liberation Serif" font-weight="bold" textLength="116.5" lengthAdjust="spacingAndGlyphs">-0.56~-1.56 MV/cm,1 s</text>
<rect x="423.7" y="217.5" width="17.4" height="127.10000000000002" fill="url(#acb423_217)" stroke="#666" stroke-width="0.6"/>
<text x="432.70" y="224.70" font-size="8.6" text-anchor="middle" fill="#222" font-family="Liberation Sans" >180</text>
<text x="432.70" y="284.15" font-size="8.6" text-anchor="middle" fill="#fff" font-family="Liberation Sans" >90.0</text>
<text x="432.70" y="343.30" font-size="8.6" text-anchor="middle" fill="#fff" font-family="Liberation Sans" >0.00</text>
<circle cx="431.9" cy="207.3" r="1.0" fill="none" stroke="#777" stroke-width="0.55"/>
<rect x="500.10" y="196.90" width="152.30" height="152.60" fill="#e2e866" />
<g opacity="0.8">
<rect x="500.10" y="196.90" width="152.30" height="152.60" fill="#000" filter="url(#aL)" />
<rect x="500.10" y="196.90" width="152.30" height="152.60" fill="#000" filter="url(#aD)" />
</g>
<rect x="500.10" y="196.90" width="152.30" height="152.60" fill="#000" filter="url(#aG)" />
<rect x="597.9" y="307.9" width="2" height="1" fill="#c89040" opacity="0.85"/>
<rect x="594.7" y="307.5" width="1" height="1" fill="#b86a2c" opacity="0.85"/>
<rect x="591.4" y="312.3" width="1.5" height="2" fill="#b86a2c" opacity="0.85"/>
<rect x="594.2" y="309.0" width="1" height="1.5" fill="#a85a28" opacity="0.85"/>
<rect x="596.3" y="313.2" width="1.5" height="1" fill="#b86a2c" opacity="0.85"/>
<rect x="596.4" y="311.5" width="1" height="1" fill="#b86a2c" opacity="0.85"/>
<rect x="534.4" y="229.6" width="1" height="2" fill="#c07a34" opacity="0.85"/>
<rect x="535.6" y="236.2" width="1" height="1.5" fill="#a85a28" opacity="0.85"/>
<rect x="555.5" y="225.5" width="2" height="2" fill="#b86a2c" opacity="0.85"/>
<rect x="552.8" y="221.6" width="1" height="1.5" fill="#a85a28" opacity="0.85"/>
<rect x="553.5" y="223.8" width="1" height="1" fill="#302030"/>
<rect x="554.1" y="223.8" width="1" height="1" fill="#302030"/>
<rect x="645.3" y="204.0" width="2" height="1.5" fill="#a85a28" opacity="0.85"/>
<rect x="643.7" y="205.3" width="1.5" height="1" fill="#c07a34" opacity="0.85"/>
<rect x="642.8" y="198.5" width="1" height="1" fill="#c89040" opacity="0.85"/>
<rect x="645.6" y="204.0" width="2" height="1.5" fill="#c89040" opacity="0.85"/>
<rect x="649.6" y="204.6" width="1.5" height="1.5" fill="#b86a2c" opacity="0.85"/>
<rect x="641.1" y="204.8" width="1" height="1.5" fill="#a85a28" opacity="0.85"/>
<rect x="643.7" y="207.1" width="1" height="1" fill="#f8f8e0"/>
<rect x="516.1" y="301.6" width="1" height="2" fill="#a85a28" opacity="0.85"/>
<rect x="517.1" y="300.8" width="1" height="1" fill="#c89040" opacity="0.85"/>
<rect x="519.3" y="301.6" width="1.5" height="1.5" fill="#c89040" opacity="0.85"/>
<rect x="520.0" y="306.3" width="1" height="1" fill="#f8f8e0"/>
<rect x="518.6" y="301.4" width="1" height="1" fill="#201818"/>
<rect x="518.5" y="303.8" width="1" height="1" fill="#201818"/>
<rect x="596.6" y="317.9" width="1" height="1.5" fill="#a85a28" opacity="0.85"/>
<rect x="586.5" y="318.8" width="1" height="1" fill="#201818"/>
<rect x="646.1" y="264.5" width="1.5" height="1.5" fill="#c89040" opacity="0.85"/>
<rect x="645.8" y="267.0" width="1.5" height="2" fill="#c07a34" opacity="0.85"/>
<rect x="645.0" y="264.4" width="1.5" height="1" fill="#b86a2c" opacity="0.85"/>
<rect x="644.2" y="266.4" width="2" height="2" fill="#a85a28" opacity="0.85"/>
<rect x="618.2" y="313.7" width="1.5" height="1.5" fill="#a85a28" opacity="0.85"/>
<rect x="619.5" y="312.6" width="2" height="2" fill="#a85a28" opacity="0.85"/>
<rect x="620.6" y="313.5" width="1" height="2" fill="#b86a2c" opacity="0.85"/>
<rect x="614.9" y="314.7" width="1.5" height="2" fill="#a85a28" opacity="0.85"/>
<rect x="614.7" y="315.0" width="2" height="2" fill="#a85a28" opacity="0.85"/>
<rect x="616.8" y="316.6" width="2" height="1.5" fill="#a85a28" opacity="0.85"/>
<rect x="621.3" y="311.3" width="1" height="1" fill="#302030"/>
<rect x="645.4" y="275.7" width="1.5" height="1.5" fill="#a85a28" opacity="0.85"/>
<rect x="642.7" y="272.6" width="2" height="1.5" fill="#c07a34" opacity="0.85"/>
<rect x="640.1" y="272.4" width="2" height="2" fill="#c89040" opacity="0.85"/>
<rect x="643.0" y="278.5" width="2" height="1.5" fill="#b86a2c" opacity="0.85"/>
<rect x="644.9" y="278.6" width="2" height="2" fill="#c07a34" opacity="0.85"/>
<rect x="644.0" y="274.3" width="1" height="1" fill="#f8f8e0"/>
<rect x="510.7" y="273.0" width="1" height="1.5" fill="#c07a34" opacity="0.85"/>
<rect x="505.6" y="269.3" width="1.5" height="1.5" fill="#a85a28" opacity="0.85"/>
<rect x="507.8" y="268.2" width="1" height="1" fill="#201818"/>
<rect x="508.7" y="274.4" width="1" height="1" fill="#201818"/>
<rect x="504.7" y="274.0" width="1" height="1" fill="#302030"/>
<rect x="630.2" y="301.7" width="2" height="1.5" fill="#b86a2c" opacity="0.85"/>
<rect x="629.8" y="303.8" width="2" height="1.5" fill="#a85a28" opacity="0.85"/>
<rect x="631.5" y="299.2" width="2" height="2" fill="#a85a28" opacity="0.85"/>
<rect x="629.3" y="301.5" width="1.5" height="2" fill="#c89040" opacity="0.85"/>
<rect x="636.2" y="299.7" width="2" height="1" fill="#a85a28" opacity="0.85"/>
<rect x="556.8" y="246.9" width="2" height="1.5" fill="#c89040" opacity="0.85"/>
<rect x="557.3" y="248.0" width="1.5" height="1.5" fill="#c89040" opacity="0.85"/>
<rect x="555.5" y="250.2" width="1" height="2" fill="#a85a28" opacity="0.85"/>
<rect x="558.6" y="245.5" width="1.5" height="1.5" fill="#b86a2c" opacity="0.85"/>
<rect x="556.1" y="253.1" width="1.5" height="1.5" fill="#c07a34" opacity="0.85"/>
<rect x="562.4" y="247.9" width="1" height="1" fill="#302030"/>
<rect x="558.7" y="248.1" width="1" height="1" fill="#201818"/>
<rect x="558.9" y="247.0" width="1" height="1" fill="#f8f8e0"/>
<rect x="585.5" y="233.5" width="1.5" height="1" fill="#a85a28" opacity="0.85"/>
<rect x="584.4" y="238.0" width="1.5" height="2" fill="#b86a2c" opacity="0.85"/>
<rect x="586.3" y="235.2" width="1.5" height="2" fill="#a85a28" opacity="0.85"/>
<rect x="582.5" y="232.7" width="1" height="1.5" fill="#a85a28" opacity="0.85"/>
<rect x="583.3" y="230.9" width="1" height="1" fill="#201818"/>
<rect x="587.1" y="235.5" width="1" height="1" fill="#302030"/>
<rect x="603.4" y="214.8" width="1.5" height="2" fill="#c89040" opacity="0.85"/>
<rect x="606.5" y="211.6" width="1.5" height="1.5" fill="#c07a34" opacity="0.85"/>
<rect x="605.8" y="213.4" width="1" height="1.5" fill="#b86a2c" opacity="0.85"/>
<rect x="603.0" y="212.7" width="1.5" height="2" fill="#c89040" opacity="0.85"/>
<rect x="604.8" y="214.2" width="1.5" height="2" fill="#c89040" opacity="0.85"/>
<rect x="606.5" y="214.4" width="1.5" height="2" fill="#b86a2c" opacity="0.85"/>
<rect x="611.6" y="235.5" width="1" height="1.5" fill="#c89040" opacity="0.85"/>
<rect x="650.4" y="303.9" width="2" height="2" fill="#b86a2c" opacity="0.85"/>
<rect x="650.4" y="303.0" width="1" height="1" fill="#302030"/>
<rect x="524.6" y="288.9" width="1" height="1" fill="#b86a2c" opacity="0.85"/>
<rect x="522.4" y="286.6" width="1.5" height="1" fill="#b86a2c" opacity="0.85"/>
<rect x="524.1" y="285.1" width="1" height="1" fill="#c89040" opacity="0.85"/>
<rect x="527.1" y="291.5" width="1.5" height="1.5" fill="#a85a28" opacity="0.85"/>
<rect x="525.5" y="288.9" width="1" height="1" fill="#302030"/>
<rect x="526.4" y="292.5" width="1" height="1" fill="#f8f8e0"/>
<rect x="543.9" y="337.7" width="2" height="1" fill="#a85a28" opacity="0.85"/>
<rect x="546.0" y="337.3" width="1" height="1" fill="#a85a28" opacity="0.85"/>
<rect x="543.1" y="339.5" width="1" height="2" fill="#b86a2c" opacity="0.85"/>
<rect x="544.6" y="338.1" width="2" height="1" fill="#b86a2c" opacity="0.85"/>
<rect x="546.9" y="336.9" width="1.5" height="1" fill="#c89040" opacity="0.85"/>
<rect x="542.9" y="339.1" width="1" height="1" fill="#f8f8e0"/>
<rect x="549.1" y="339.6" width="1" height="1" fill="#201818"/>
<rect x="548.6" y="334.0" width="1" height="1" fill="#302030"/>
<rect x="607.3" y="234.5" width="1.5" height="1" fill="#c07a34" opacity="0.85"/>
<rect x="602.0" y="233.5" width="1" height="1" fill="#302030"/>
<rect x="606.7" y="230.4" width="1" height="1" fill="#302030"/>
<rect x="600.2" y="234.8" width="1" height="1" fill="#302030"/>
<rect x="600.2" y="317.9" width="1" height="2" fill="#c07a34" opacity="0.85"/>
<rect x="598.0" y="316.2" width="1" height="1" fill="#b86a2c" opacity="0.85"/>
<rect x="598.7" y="319.8" width="1.5" height="1.5" fill="#a85a28" opacity="0.85"/>
<rect x="600.7" y="318.5" width="2" height="1.5" fill="#a85a28" opacity="0.85"/>
<rect x="596.6" y="318.8" width="1" height="1" fill="#f8f8e0"/>
<rect x="599.5" y="320.5" width="1" height="1" fill="#302030"/>
<rect x="600.1" y="316.4" width="1" height="1" fill="#f8f8e0"/>
<rect x="539.8" y="236.8" width="1" height="1.5" fill="#b86a2c" opacity="0.85"/>
<rect x="537.7" y="243.2" width="1.5" height="1" fill="#b86a2c" opacity="0.85"/>
<rect x="533.8" y="241.2" width="1" height="1" fill="#201818"/>
<rect x="540.3" y="238.0" width="1" height="1" fill="#302030"/>
<rect x="537.9" y="236.5" width="1" height="1" fill="#201818"/>
<rect x="507.2" y="306.0" width="1.5" height="2" fill="#a85a28" opacity="0.85"/>
<rect x="506.5" y="303.8" width="1.5" height="1.5" fill="#b86a2c" opacity="0.85"/>
<rect x="506.7" y="301.6" width="1" height="1" fill="#c07a34" opacity="0.85"/>
<rect x="504.6" y="300.5" width="2" height="2" fill="#c89040" opacity="0.85"/>
<rect x="506.8" y="303.4" width="1.5" height="1" fill="#c89040" opacity="0.85"/>
<rect x="507.4" y="305.7" width="1" height="1" fill="#f8f8e0"/>
<rect x="501.6" y="302.8" width="1" height="1" fill="#f8f8e0"/>
<rect x="511.9" y="307.4" width="1" height="1" fill="#302030"/>
<rect x="515.8" y="269.6" width="1.5" height="1" fill="#b86a2c" opacity="0.85"/>
<rect x="515.7" y="271.2" width="1.5" height="2" fill="#b86a2c" opacity="0.85"/>
<rect x="519.5" y="265.1" width="1" height="1" fill="#c89040" opacity="0.85"/>
<rect x="516.3" y="270.4" width="1.5" height="1" fill="#b86a2c" opacity="0.85"/>
<rect x="510.9" y="267.6" width="2" height="1" fill="#c07a34" opacity="0.85"/>
<rect x="514.1" y="267.3" width="1.5" height="1.5" fill="#c89040" opacity="0.85"/>
<rect x="514.4" y="268.7" width="1" height="1" fill="#201818"/>
<rect x="517.6" y="267.8" width="1" height="1" fill="#302030"/>
<rect x="523.5" y="262.6" width="1" height="1" fill="#f8f8e0"/>
<rect x="519.6" y="243.5" width="1.5" height="1.5" fill="#c07a34" opacity="0.85"/>
<rect x="516.5" y="244.6" width="1" height="1" fill="#f8f8e0"/>
<rect x="513.7" y="261.1" width="1.5" height="2" fill="#c07a34" opacity="0.85"/>
<rect x="516.0" y="263.0" width="1.5" height="1.5" fill="#b86a2c" opacity="0.85"/>
<rect x="518.0" y="264.2" width="1.5" height="2" fill="#b86a2c" opacity="0.85"/>
<rect x="517.2" y="260.7" width="1" height="2" fill="#b86a2c" opacity="0.85"/>
<rect x="510.8" y="264.0" width="2" height="1" fill="#b86a2c" opacity="0.85"/>
<rect x="514.1" y="267.1" width="1" height="1" fill="#302030"/>
<rect x="512.6" y="261.8" width="1" height="1" fill="#302030"/>
<rect x="515.6" y="264.3" width="1" height="1" fill="#f8f8e0"/>
<rect x="550.3" y="201.2" width="1" height="1" fill="#b86a2c" opacity="0.85"/>
<rect x="554.1" y="203.2" width="1.5" height="1.5" fill="#b86a2c" opacity="0.85"/>
<rect x="550.3" y="206.3" width="1.5" height="1" fill="#a85a28" opacity="0.85"/>
<rect x="549.2" y="205.0" width="2" height="1" fill="#b86a2c" opacity="0.85"/>
<rect x="549.7" y="206.9" width="2" height="2" fill="#c07a34" opacity="0.85"/>
<rect x="550.3" y="201.3" width="1" height="1" fill="#302030"/>
<rect x="551.6" y="205.4" width="1" height="1" fill="#201818"/>
<rect x="547.4" y="204.6" width="1" height="1" fill="#302030"/>
<rect x="503.6" y="297.0" width="2" height="1" fill="#b86a2c" opacity="0.85"/>
<rect x="512.3" y="301.2" width="2" height="1" fill="#c07a34" opacity="0.85"/>
<rect x="506.4" y="282.7" width="1.5" height="1" fill="#c07a34" opacity="0.85"/>
<rect x="506.7" y="286.1" width="2" height="2" fill="#a85a28" opacity="0.85"/>
<rect x="507.3" y="280.8" width="1.5" height="1.5" fill="#c07a34" opacity="0.85"/>
<rect x="508.2" y="281.7" width="1" height="2" fill="#c89040" opacity="0.85"/>
<rect x="506.2" y="285.8" width="1" height="1" fill="#201818"/>
<rect x="506.3" y="284.7" width="1" height="1" fill="#201818"/>
<rect x="503.6" y="287.2" width="1" height="1" fill="#302030"/>
<rect x="633.1" y="228.9" width="2" height="2" fill="#b86a2c" opacity="0.85"/>
<rect x="636.3" y="226.5" width="1" height="1" fill="#c07a34" opacity="0.85"/>
<rect x="635.8" y="228.1" width="2" height="1" fill="#a85a28" opacity="0.85"/>
<rect x="632.5" y="228.5" width="1" height="1" fill="#f8f8e0"/>
<rect x="629.9" y="232.7" width="1" height="1" fill="#f8f8e0"/>
<rect x="639.0" y="226.8" width="1" height="1" fill="#f8f8e0"/>
<rect x="509.2" y="222.9" width="2" height="2" fill="#c07a34" opacity="0.85"/>
<rect x="511.0" y="221.6" width="1" height="1.5" fill="#c89040" opacity="0.85"/>
<rect x="509.4" y="225.4" width="1.5" height="2" fill="#c07a34" opacity="0.85"/>
<rect x="514.5" y="222.3" width="2" height="1.5" fill="#a85a28" opacity="0.85"/>
<rect x="510.1" y="220.8" width="1" height="1" fill="#201818"/>
<rect x="532.4" y="346.4" width="2" height="1.5" fill="#c89040" opacity="0.85"/>
<rect x="539.0" y="346.6" width="1" height="2" fill="#a85a28" opacity="0.85"/>
<rect x="536.8" y="344.4" width="2" height="2" fill="#a85a28" opacity="0.85"/>
<rect x="537.6" y="344.7" width="1.5" height="1.5" fill="#a85a28" opacity="0.85"/>
<rect x="537.8" y="342.9" width="1" height="1" fill="#c89040" opacity="0.85"/>
<rect x="537.7" y="344.6" width="1" height="1" fill="#f8f8e0"/>
<rect x="594.7" y="291.7" width="1.5" height="1.5" fill="#c07a34" opacity="0.85"/>
<rect x="594.4" y="295.7" width="2" height="1.5" fill="#c07a34" opacity="0.85"/>
<rect x="593.9" y="294.6" width="1.5" height="2" fill="#c07a34" opacity="0.85"/>
<rect x="593.2" y="294.8" width="1" height="2" fill="#a85a28" opacity="0.85"/>
<rect x="594.9" y="293.2" width="1.5" height="1" fill="#b86a2c" opacity="0.85"/>
<rect x="596.0" y="296.6" width="1" height="1" fill="#302030"/>
<rect x="596.6" y="293.2" width="1" height="1" fill="#f8f8e0"/>
<rect x="596.6" y="317.5" width="1" height="1" fill="#a85a28" opacity="0.85"/>
<rect x="590.5" y="320.6" width="1" height="1" fill="#f8f8e0"/>
<rect x="613.4" y="303.4" width="2" height="2" fill="#b86a2c" opacity="0.85"/>
<rect x="611.8" y="311.3" width="1" height="1" fill="#a85a28" opacity="0.85"/>
<rect x="617.0" y="313.0" width="1" height="1" fill="#f8f8e0"/>
<rect x="614.7" y="306.4" width="1" height="1" fill="#f8f8e0"/>
<rect x="572.3" y="199.5" width="1" height="1.5" fill="#c89040" opacity="0.85"/>
<rect x="576.4" y="198.5" width="1" height="1.5" fill="#a85a28" opacity="0.85"/>
<rect x="575.2" y="200.1" width="1.5" height="2" fill="#c07a34" opacity="0.85"/>
<rect x="573.1" y="198.7" width="1.5" height="1.5" fill="#b86a2c" opacity="0.85"/>
<rect x="569.6" y="198.9" width="1.5" height="1" fill="#c89040" opacity="0.85"/>
<rect x="534.3" y="344.7" width="1.5" height="1" fill="#c89040" opacity="0.85"/>
<rect x="533.5" y="346.0" width="1.5" height="1" fill="#b86a2c" opacity="0.85"/>
<rect x="533.7" y="345.8" width="1" height="1" fill="#c07a34" opacity="0.85"/>
<rect x="535.0" y="344.9" width="1" height="1" fill="#f8f8e0"/>
<rect x="532.4" y="346.1" width="1" height="1" fill="#f8f8e0"/>
<rect x="516.1" y="342.9" width="1.5" height="2" fill="#b86a2c" opacity="0.85"/>
<rect x="516.6" y="342.5" width="2" height="1.5" fill="#b86a2c" opacity="0.85"/>
<rect x="523.1" y="314.6" width="2" height="2" fill="#b86a2c" opacity="0.85"/>
<rect x="526.3" y="315.7" width="2" height="1.5" fill="#c89040" opacity="0.85"/>
<rect x="527.7" y="312.4" width="1" height="1.5" fill="#c07a34" opacity="0.85"/>
<rect x="525.4" y="314.8" width="1" height="1.5" fill="#c07a34" opacity="0.85"/>
<rect x="524.7" y="314.3" width="1" height="1.5" fill="#a85a28" opacity="0.85"/>
<rect x="529.4" y="313.5" width="1" height="1" fill="#201818"/>
<rect x="525.9" y="312.5" width="1" height="1" fill="#f8f8e0"/>
<rect x="558.8" y="332.7" width="1.5" height="1.5" fill="#c89040" opacity="0.85"/>
<rect x="559.7" y="333.5" width="1.5" height="2" fill="#b86a2c" opacity="0.85"/>
<rect x="531.7" y="265.0" width="1.5" height="1" fill="#c07a34" opacity="0.85"/>
<rect x="528.2" y="267.2" width="2" height="2" fill="#b86a2c" opacity="0.85"/>
<rect x="529.3" y="263.7" width="1.5" height="1.5" fill="#a85a28" opacity="0.85"/>
<rect x="532.1" y="260.9" width="1" height="1" fill="#302030"/>
<rect x="531.3" y="262.3" width="1" height="1" fill="#f8f8e0"/>
<rect x="522.8" y="200.3" width="1.5" height="2" fill="#b86a2c" opacity="0.85"/>
<rect x="501.3" y="230.2" width="1.5" height="1" fill="#c07a34" opacity="0.85"/>
<rect x="506.5" y="230.8" width="1.5" height="1" fill="#a85a28" opacity="0.85"/>
<rect x="500.9" y="231.4" width="1" height="1" fill="#302030"/>
<rect x="502.5" y="229.5" width="1" height="1" fill="#f8f8e0"/>
<rect x="510.0" y="228.0" width="1" height="1" fill="#302030"/>
<rect x="549.0" y="224.8" width="2" height="1" fill="#c89040" opacity="0.85"/>
<rect x="549.0" y="225.2" width="2" height="1.5" fill="#c89040" opacity="0.85"/>
<rect x="548.2" y="225.2" width="1.5" height="1" fill="#c07a34" opacity="0.85"/>
<rect x="546.3" y="223.4" width="2" height="1" fill="#b86a2c" opacity="0.85"/>
<rect x="546.2" y="224.7" width="1.5" height="1.5" fill="#a85a28" opacity="0.85"/>
<rect x="545.6" y="223.8" width="1" height="1.5" fill="#a85a28" opacity="0.85"/>
<rect x="595.7" y="253.3" width="2" height="1.5" fill="#c07a34" opacity="0.85"/>
<rect x="592.5" y="255.1" width="2" height="1.5" fill="#b86a2c" opacity="0.85"/>
<rect x="595.5" y="256.7" width="2" height="1.5" fill="#b86a2c" opacity="0.85"/>
<rect x="597.1" y="257.0" width="1.5" height="2" fill="#c89040" opacity="0.85"/>
<rect x="593.7" y="255.6" width="2" height="1" fill="#b86a2c" opacity="0.85"/>
<rect x="594.3" y="253.8" width="1" height="1" fill="#c89040" opacity="0.85"/>
<rect x="591.8" y="252.4" width="1" height="1" fill="#f8f8e0"/>
<rect x="598.2" y="251.3" width="1" height="1" fill="#f8f8e0"/>
<rect x="627.1" y="218.7" width="1" height="1.5" fill="#c89040" opacity="0.85"/>
<rect x="626.0" y="217.1" width="1" height="1.5" fill="#a85a28" opacity="0.85"/>
<rect x="628.6" y="216.3" width="1" height="1" fill="#a85a28" opacity="0.85"/>
<rect x="596.2" y="262.8" width="1" height="1.5" fill="#c07a34" opacity="0.85"/>
<rect x="596.1" y="261.7" width="2" height="1.5" fill="#b86a2c" opacity="0.85"/>
<rect x="598.1" y="265.3" width="1.5" height="2" fill="#c07a34" opacity="0.85"/>
<rect x="593.9" y="262.8" width="1.5" height="2" fill="#a85a28" opacity="0.85"/>
<rect x="597.9" y="262.4" width="1" height="1" fill="#a85a28" opacity="0.85"/>
<rect x="593.7" y="268.0" width="1" height="1" fill="#302030"/>
<rect x="593.1" y="264.3" width="1" height="1" fill="#201818"/>
<rect x="598.2" y="263.6" width="1" height="1" fill="#201818"/>
<rect x="551.2" y="217.8" width="1" height="1" fill="#c89040" opacity="0.85"/>
<rect x="552.9" y="216.0" width="1.5" height="1" fill="#c89040" opacity="0.85"/>
<rect x="554.8" y="210.7" width="1.5" height="1" fill="#a85a28" opacity="0.85"/>
<rect x="551.5" y="212.0" width="1.5" height="1" fill="#b86a2c" opacity="0.85"/>
<rect x="551.5" y="215.5" width="1" height="2" fill="#c89040" opacity="0.85"/>
<rect x="553.8" y="215.6" width="1" height="1.5" fill="#b86a2c" opacity="0.85"/>
<rect x="549.8" y="211.1" width="1" height="1" fill="#302030"/>
<rect x="557.5" y="211.7" width="1" height="1" fill="#302030"/>
<rect x="560.5" y="226.0" width="1" height="2" fill="#c89040" opacity="0.85"/>
<rect x="556.9" y="224.9" width="2" height="1.5" fill="#c89040" opacity="0.85"/>
<rect x="530.8" y="277.5" width="1" height="1.5" fill="#b86a2c" opacity="0.85"/>
<rect x="533.6" y="275.9" width="2" height="1.5" fill="#a85a28" opacity="0.85"/>
<rect x="528.9" y="273.9" width="1" height="1" fill="#f8f8e0"/>
<rect x="531.1" y="275.4" width="1" height="1" fill="#f8f8e0"/>
<rect x="531.2" y="273.4" width="1" height="1" fill="#302030"/>
<rect x="612.6" y="287.4" width="2" height="1" fill="#c89040" opacity="0.85"/>
<rect x="615.8" y="288.8" width="1" height="2" fill="#b86a2c" opacity="0.85"/>
<rect x="614.5" y="291.6" width="1" height="1" fill="#f8f8e0"/>
<rect x="616.6" y="292.1" width="1" height="1" fill="#201818"/>
<rect x="613.0" y="293.7" width="1" height="1" fill="#f8f8e0"/>
<rect x="553.5" y="206.2" width="1" height="1.5" fill="#c89040" opacity="0.85"/>
<rect x="553.3" y="204.7" width="2" height="2" fill="#a85a28" opacity="0.85"/>
<rect x="554.3" y="206.2" width="1.5" height="1" fill="#c89040" opacity="0.85"/>
<rect x="554.4" y="208.7" width="1" height="1.5" fill="#c07a34" opacity="0.85"/>
<rect x="555.1" y="203.2" width="1" height="1.5" fill="#c07a34" opacity="0.85"/>
<rect x="553.3" y="210.7" width="2" height="1.5" fill="#c89040" opacity="0.85"/>
<rect x="552.8" y="210.1" width="1" height="1" fill="#f8f8e0"/>
<rect x="553.1" y="210.1" width="1" height="1" fill="#201818"/>
<rect x="556.5" y="209.2" width="1" height="1" fill="#201818"/>
<rect x="582.4" y="270.1" width="2" height="1" fill="#c89040" opacity="0.85"/>
<rect x="585.6" y="270.0" width="1" height="1" fill="#c07a34" opacity="0.85"/>
<rect x="580.9" y="268.7" width="1" height="1.5" fill="#c89040" opacity="0.85"/>
<rect x="581.1" y="269.4" width="1.5" height="1" fill="#c07a34" opacity="0.85"/>
<rect x="578.4" y="268.6" width="1" height="1" fill="#f8f8e0"/>
<rect x="557.2" y="283.3" width="2" height="2" fill="#c89040" opacity="0.85"/>
<rect x="558.2" y="282.0" width="1.5" height="2" fill="#b86a2c" opacity="0.85"/>
<rect x="554.9" y="286.7" width="1" height="1" fill="#201818"/>
<rect x="619.3" y="211.7" width="1.5" height="1.5" fill="#a85a28" opacity="0.85"/>
<rect x="615.2" y="214.6" width="2" height="2" fill="#c89040" opacity="0.85"/>
<rect x="617.3" y="212.1" width="2" height="2" fill="#c07a34" opacity="0.85"/>
<rect x="620.2" y="215.3" width="2" height="1" fill="#b86a2c" opacity="0.85"/>
<rect x="616.6" y="217.6" width="1" height="1" fill="#201818"/>
<rect x="616.9" y="216.9" width="1" height="1" fill="#201818"/>
<rect x="567.2" y="241.9" width="1" height="1.5" fill="#c07a34" opacity="0.85"/>
<rect x="566.1" y="245.7" width="1.5" height="1" fill="#c89040" opacity="0.85"/>
<rect x="567.4" y="243.1" width="2" height="1" fill="#a85a28" opacity="0.85"/>
<rect x="566.0" y="239.0" width="1.5" height="1.5" fill="#c89040" opacity="0.85"/>
<rect x="565.5" y="242.0" width="2" height="1.5" fill="#b86a2c" opacity="0.85"/>
<rect x="566.6" y="246.0" width="1" height="1.5" fill="#b86a2c" opacity="0.85"/>
<rect x="564.8" y="244.5" width="1" height="1" fill="#302030"/>
<rect x="567.0" y="246.3" width="1" height="1" fill="#f8f8e0"/>
<rect x="564.6" y="244.0" width="1" height="1" fill="#201818"/>
<rect x="605.4" y="263.7" width="1.5" height="1" fill="#a85a28" opacity="0.85"/>
<rect x="606.8" y="268.3" width="2" height="1.5" fill="#c89040" opacity="0.85"/>
<rect x="605.8" y="271.1" width="1.5" height="2" fill="#c89040" opacity="0.85"/>
<rect x="603.5" y="270.2" width="1" height="1" fill="#201818"/>
<rect x="538.6" y="243.9" width="1" height="1" fill="#a85a28" opacity="0.85"/>
<rect x="539.1" y="244.7" width="1.5" height="1" fill="#a85a28" opacity="0.85"/>
<rect x="533.9" y="245.7" width="1" height="1.5" fill="#b86a2c" opacity="0.85"/>
<rect x="540.3" y="240.6" width="2" height="2" fill="#b86a2c" opacity="0.85"/>
<rect x="538.7" y="243.4" width="1.5" height="1" fill="#c89040" opacity="0.85"/>
<rect x="537.3" y="244.3" width="1" height="1" fill="#302030"/>
<rect x="530.2" y="239.8" width="1" height="1" fill="#f8f8e0"/>
<rect x="537.5" y="241.6" width="1.5" height="1.5" fill="#c89040" opacity="0.85"/>
<rect x="527.5" y="293.0" width="1" height="1.5" fill="#b86a2c" opacity="0.85"/>
<rect x="524.8" y="292.1" width="1.5" height="1.5" fill="#b86a2c" opacity="0.85"/>
<rect x="524.8" y="289.7" width="1" height="2" fill="#c07a34" opacity="0.85"/>
<rect x="527.2" y="290.7" width="1.5" height="2" fill="#a85a28" opacity="0.85"/>
<rect x="626.3" y="284.3" width="2" height="1.5" fill="#c89040" opacity="0.85"/>
<rect x="628.1" y="284.1" width="1.5" height="1" fill="#a85a28" opacity="0.85"/>
<rect x="628.1" y="281.3" width="2" height="1" fill="#c07a34" opacity="0.85"/>
<rect x="628.8" y="283.6" width="1.5" height="1" fill="#b86a2c" opacity="0.85"/>
<rect x="511.5" y="213.3" width="1" height="1" fill="#c89040" opacity="0.85"/>
<rect x="510.9" y="211.4" width="1.5" height="2" fill="#c89040" opacity="0.85"/>
<rect x="513.8" y="208.4" width="1" height="1" fill="#a85a28" opacity="0.85"/>
<rect x="510.2" y="211.3" width="2" height="1" fill="#b86a2c" opacity="0.85"/>
<rect x="510.5" y="211.7" width="1.5" height="2" fill="#b86a2c" opacity="0.85"/>
<rect x="508.8" y="213.8" width="1.5" height="1" fill="#c07a34" opacity="0.85"/>
<rect x="511.1" y="212.2" width="1" height="1" fill="#302030"/>
<rect x="515.9" y="211.2" width="1" height="1" fill="#302030"/>
<rect x="512.0" y="214.5" width="1" height="1" fill="#302030"/>
<rect x="637.1" y="276.1" width="1" height="2" fill="#c89040" opacity="0.85"/>
<rect x="635.4" y="270.8" width="1" height="1" fill="#f8f8e0"/>
<rect x="576.1" y="334.7" width="2" height="1.5" fill="#c07a34" opacity="0.85"/>
<rect x="577.0" y="332.5" width="1" height="1.5" fill="#b86a2c" opacity="0.85"/>
<rect x="576.4" y="335.4" width="1" height="1" fill="#a85a28" opacity="0.85"/>
<rect x="577.1" y="331.3" width="1.5" height="1" fill="#b86a2c" opacity="0.85"/>
<rect x="575.6" y="329.3" width="1" height="2" fill="#a85a28" opacity="0.85"/>
<rect x="539.5" y="204.0" width="2" height="1.5" fill="#a85a28" opacity="0.85"/>
<rect x="535.2" y="210.9" width="1" height="1" fill="#302030"/>
<rect x="540.3" y="209.2" width="1" height="1" fill="#f8f8e0"/>
<rect x="643.4" y="323.8" width="1" height="2" fill="#c07a34" opacity="0.85"/>
<rect x="642.8" y="325.4" width="1.5" height="1.5" fill="#b86a2c" opacity="0.85"/>
<rect x="644.9" y="323.3" width="1" height="1" fill="#b86a2c" opacity="0.85"/>
<rect x="644.1" y="325.2" width="1" height="1" fill="#f8f8e0"/>
<rect x="579.6" y="323.3" width="2" height="1.5" fill="#a85a28" opacity="0.85"/>
<rect x="573.0" y="326.1" width="2" height="1.5" fill="#c89040" opacity="0.85"/>
<rect x="574.5" y="323.5" width="2" height="1" fill="#c07a34" opacity="0.85"/>
<rect x="576.7" y="321.8" width="1" height="1" fill="#c07a34" opacity="0.85"/>
<rect x="575.2" y="326.4" width="2" height="1" fill="#a85a28" opacity="0.85"/>
<rect x="575.0" y="322.3" width="1" height="1" fill="#c89040" opacity="0.85"/>
<rect x="576.8" y="320.7" width="1" height="1" fill="#f8f8e0"/>
<rect x="537.1" y="288.2" width="1" height="2" fill="#a85a28" opacity="0.85"/>
<rect x="534.9" y="285.4" width="1" height="1.5" fill="#b86a2c" opacity="0.85"/>
<rect x="537.0" y="286.5" width="2" height="1.5" fill="#c89040" opacity="0.85"/>
<rect x="539.3" y="290.0" width="2" height="2" fill="#a85a28" opacity="0.85"/>
<rect x="541.4" y="289.4" width="2" height="2" fill="#c07a34" opacity="0.85"/>
<rect x="593.8" y="326.6" width="1" height="1.5" fill="#c07a34" opacity="0.85"/>
<rect x="592.0" y="328.1" width="1.5" height="1" fill="#a85a28" opacity="0.85"/>
<rect x="592.3" y="325.1" width="1" height="1" fill="#c07a34" opacity="0.85"/>
<rect x="596.4" y="322.7" width="1.5" height="1.5" fill="#a85a28" opacity="0.85"/>
<rect x="569.5" y="273.6" width="1.5" height="2" fill="#b86a2c" opacity="0.85"/>
<rect x="574.0" y="265.5" width="2" height="2" fill="#b86a2c" opacity="0.85"/>
<rect x="569.6" y="270.9" width="1" height="1" fill="#302030"/>
<rect x="574.4" y="222.9" width="2" height="1" fill="#c89040" opacity="0.85"/>
<rect x="575.8" y="221.6" width="2" height="1" fill="#b86a2c" opacity="0.85"/>
<rect x="575.4" y="231.0" width="1.5" height="1.5" fill="#c89040" opacity="0.85"/>
<rect x="573.2" y="224.4" width="1.5" height="1.5" fill="#c89040" opacity="0.85"/>
<rect x="575.4" y="223.6" width="1" height="1" fill="#201818"/>
<rect x="574.9" y="228.5" width="1" height="1" fill="#201818"/>
<rect x="580.4" y="227.1" width="1" height="1" fill="#f8f8e0"/>
<rect x="572.3" y="294.6" width="1.5" height="2" fill="#c07a34" opacity="0.85"/>
<rect x="622.5" y="320.0" width="1" height="1" fill="#b86a2c" opacity="0.85"/>
<rect x="621.8" y="319.4" width="1" height="1" fill="#f8f8e0"/>
<rect x="617.0" y="321.5" width="1" height="1" fill="#302030"/>
<rect x="603.8" y="342.8" width="2" height="1.5" fill="#b86a2c" opacity="0.85"/>
<rect x="608.4" y="340.2" width="1" height="1.5" fill="#b86a2c" opacity="0.85"/>
<rect x="608.8" y="345.8" width="1.5" height="1.5" fill="#a85a28" opacity="0.85"/>
<rect x="608.4" y="346.4" width="1.5" height="2" fill="#b86a2c" opacity="0.85"/>
<rect x="610.3" y="341.4" width="1" height="1" fill="#302030"/>
<rect x="606.5" y="344.0" width="1" height="1" fill="#302030"/>
<rect x="609.3" y="343.1" width="1" height="1" fill="#201818"/>
<rect x="539.2" y="240.8" width="1" height="1.5" fill="#b86a2c" opacity="0.85"/>
<rect x="535.6" y="239.7" width="1" height="2" fill="#a85a28" opacity="0.85"/>
<rect x="525.0" y="316.7" width="1" height="2" fill="#c07a34" opacity="0.85"/>
<rect x="522.7" y="317.0" width="1" height="1" fill="#302030"/>
<rect x="525.5" y="314.0" width="1" height="1" fill="#201818"/>
<rect x="518.3" y="319.4" width="1" height="1" fill="#a85a28" opacity="0.85"/>
<rect x="518.2" y="325.2" width="2" height="2" fill="#c07a34" opacity="0.85"/>
<rect x="515.4" y="327.2" width="1.5" height="1.5" fill="#b86a2c" opacity="0.85"/>
<rect x="513.8" y="325.1" width="1" height="1.5" fill="#c89040" opacity="0.85"/>
<rect x="517.1" y="327.9" width="1.5" height="1" fill="#a85a28" opacity="0.85"/>
<rect x="535.6" y="260.2" width="2" height="2" fill="#c89040" opacity="0.85"/>
<rect x="536.6" y="258.4" width="1" height="1" fill="#f8f8e0"/>
<rect x="580.5" y="229.1" width="1.5" height="1.5" fill="#b86a2c" opacity="0.85"/>
<rect x="581.8" y="228.3" width="2" height="1" fill="#a85a28" opacity="0.85"/>
<rect x="580.8" y="228.0" width="1" height="1.5" fill="#c89040" opacity="0.85"/>
<rect x="579.3" y="230.6" width="2" height="2" fill="#a85a28" opacity="0.85"/>
<rect x="581.7" y="228.7" width="2" height="1.5" fill="#b86a2c" opacity="0.85"/>
<rect x="579.0" y="228.3" width="1.5" height="2" fill="#c07a34" opacity="0.85"/>
<rect x="577.1" y="232.0" width="1" height="1" fill="#f8f8e0"/>
<rect x="561.9" y="232.2" width="1" height="1.5" fill="#c07a34" opacity="0.85"/>
<rect x="567.4" y="230.1" width="1.5" height="1.5" fill="#b86a2c" opacity="0.85"/>
<rect x="567.7" y="231.8" width="1.5" height="2" fill="#c07a34" opacity="0.85"/>
<rect x="567.3" y="232.8" width="2" height="1.5" fill="#a85a28" opacity="0.85"/>
<rect x="565.5" y="231.5" width="1.5" height="1.5" fill="#a85a28" opacity="0.85"/>
<rect x="566.7" y="227.8" width="1.5" height="2" fill="#c89040" opacity="0.85"/>
<rect x="563.7" y="230.4" width="1" height="1" fill="#201818"/>
<rect x="562.3" y="229.6" width="1" height="1" fill="#201818"/>
<rect x="554.8" y="204.3" width="2" height="2" fill="#c89040" opacity="0.85"/>
<rect x="552.3" y="204.6" width="1" height="1.5" fill="#c07a34" opacity="0.85"/>
<rect x="553.3" y="206.0" width="1" height="1" fill="#302030"/>
<rect x="555.0" y="204.8" width="1" height="1" fill="#302030"/>
<rect x="550.4" y="209.7" width="1" height="1" fill="#302030"/>
<rect x="575.2" y="222.3" width="1" height="2" fill="#c89040" opacity="0.85"/>
<rect x="576.2" y="224.0" width="1" height="1" fill="#201818"/>
<rect x="572.8" y="222.4" width="1" height="1" fill="#302030"/>
<rect x="617.7" y="222.8" width="1.5" height="2" fill="#b86a2c" opacity="0.85"/>
<rect x="616.3" y="220.2" width="1" height="1" fill="#c89040" opacity="0.85"/>
<rect x="611.6" y="223.2" width="1" height="1" fill="#f8f8e0"/>
<rect x="553.4" y="233.2" width="2" height="1.5" fill="#c89040" opacity="0.85"/>
<rect x="603.8" y="225.6" width="1.5" height="1.5" fill="#c07a34" opacity="0.85"/>
<rect x="603.4" y="229.3" width="1" height="2" fill="#c89040" opacity="0.85"/>
<rect x="608.6" y="231.4" width="1" height="1" fill="#302030"/>
<rect x="605.2" y="233.2" width="1" height="1" fill="#302030"/>
<rect x="504.4" y="241.7" width="2" height="1" fill="#a85a28" opacity="0.85"/>
<rect x="508.1" y="237.4" width="1" height="2" fill="#b86a2c" opacity="0.85"/>
<rect x="502.3" y="237.7" width="2" height="1" fill="#a85a28" opacity="0.85"/>
<rect x="509.8" y="241.0" width="1.5" height="1" fill="#c89040" opacity="0.85"/>
<rect x="505.6" y="244.5" width="1" height="1" fill="#302030"/>
<rect x="511.7" y="245.6" width="1" height="1" fill="#f8f8e0"/>
<g filter="url(#blob2)"><g transform="translate(525.0,216.8) scale(0.877,1.140) translate(-525.0,-216.8)">
<path d="M529.2,215.3 Q529.8,216.4 529.9,217.8 Q529.9,219.3 528.8,220.4 Q527.7,221.4 526.2,221.2 Q524.8,220.9 523.7,220.5 Q522.6,220.1 521.4,219.6 Q520.1,219.0 519.5,217.7 Q519.0,216.4 519.6,215.0 Q520.2,213.7 521.2,212.9 Q522.2,212.0 523.5,211.6 Q524.8,211.3 525.9,211.9 Q527.0,212.5 527.8,213.3 Q528.6,214.2 529.2,215.3Z" fill="#b8682a"/>
<path d="M529.5,215.7 Q530.1,216.8 529.9,218.2 Q529.8,219.6 528.8,220.6 Q527.8,221.7 526.4,222.0 Q525.0,222.2 523.8,221.6 Q522.6,221.0 522.0,220.0 Q521.3,218.9 520.9,217.9 Q520.4,216.8 520.4,215.4 Q520.3,214.1 521.3,213.2 Q522.4,212.2 523.7,212.3 Q525.0,212.5 526.0,212.9 Q527.0,213.4 527.9,214.0 Q528.8,214.6 529.5,215.7Z" fill="#6a2270"/>
<path d="M529.2,215.7 Q529.5,216.8 529.0,217.8 Q528.5,218.8 527.8,219.5 Q527.0,220.3 526.0,220.8 Q525.0,221.3 523.9,221.0 Q522.7,220.8 522.2,219.8 Q521.6,218.7 521.6,217.8 Q521.5,216.8 521.6,215.9 Q521.8,214.9 522.3,214.1 Q522.9,213.2 524.0,212.9 Q525.0,212.6 526.0,212.9 Q527.1,213.2 528.0,213.9 Q528.8,214.6 529.2,215.7Z" fill="#2c0a68"/>
<path d="M527.5,215.9 Q527.9,216.8 527.5,217.7 Q527.1,218.6 526.4,219.1 Q525.6,219.6 524.7,219.7 Q523.7,219.9 522.9,219.3 Q522.1,218.7 521.8,217.7 Q521.6,216.8 522.0,216.0 Q522.4,215.2 523.1,214.7 Q523.8,214.2 524.7,214.0 Q525.6,213.9 526.4,214.5 Q527.2,215.0 527.5,215.9Z" fill="#180446"/>
</g></g>
<rect x="531.9" y="214.7" width="1" height="1" fill="#3a1a40"/>
<rect x="518.2" y="220.7" width="1.5" height="1" fill="#3a1a40"/>
<rect x="530.0" y="218.6" width="1.5" height="1" fill="#3a1a40"/>
<rect x="530.2" y="218.5" width="1" height="1" fill="#b86a2a"/>
<rect x="524.0" y="207.7" width="1" height="1" fill="#a85a28"/>
<rect x="528.5" y="225.0" width="1.5" height="1" fill="#2a1a20"/>
<g filter="url(#blob2)"><g transform="translate(560.6,216.8) scale(0.877,1.140) translate(-560.6,-216.8)">
<path d="M566.9,215.4 Q567.7,217.1 567.1,218.9 Q566.5,220.6 564.9,221.3 Q563.2,222.0 561.8,221.7 Q560.4,221.3 559.4,220.9 Q558.5,220.4 557.6,219.8 Q556.8,219.2 555.8,218.1 Q554.9,217.1 554.8,215.4 Q554.7,213.8 555.9,212.6 Q557.1,211.4 558.7,211.1 Q560.4,210.8 561.9,211.3 Q563.4,211.8 564.7,212.8 Q566.1,213.8 566.9,215.4Z" fill="#b8682a"/>
<path d="M564.8,215.7 Q565.2,216.8 565.0,218.0 Q564.8,219.2 563.8,220.0 Q562.9,220.8 561.7,221.1 Q560.6,221.4 559.5,221.1 Q558.3,220.7 557.5,219.9 Q556.6,219.1 556.3,218.0 Q556.0,216.8 556.3,215.6 Q556.5,214.5 557.3,213.5 Q558.1,212.5 559.4,212.1 Q560.6,211.8 561.8,212.2 Q563.0,212.7 563.7,213.6 Q564.4,214.6 564.8,215.7Z" fill="#6a2270"/>
<path d="M564.9,215.6 Q565.1,216.8 564.6,217.8 Q564.2,218.9 563.4,219.6 Q562.6,220.3 561.6,220.7 Q560.6,221.1 559.5,220.8 Q558.5,220.5 557.9,219.6 Q557.4,218.7 557.3,217.7 Q557.2,216.8 557.3,215.9 Q557.5,215.0 558.0,214.2 Q558.6,213.3 559.6,213.1 Q560.6,212.8 561.6,213.0 Q562.7,213.2 563.7,213.8 Q564.6,214.5 564.9,215.6Z" fill="#2c0a68"/>
<path d="M562.6,216.0 Q562.8,216.8 562.8,217.7 Q562.8,218.6 562.1,219.4 Q561.4,220.1 560.3,220.1 Q559.2,220.0 558.5,219.3 Q557.8,218.6 557.4,217.7 Q557.1,216.8 557.4,215.8 Q557.6,214.8 558.4,214.1 Q559.2,213.4 560.3,213.5 Q561.3,213.6 561.9,214.4 Q562.4,215.3 562.6,216.0Z" fill="#180446"/>
</g></g>
<rect x="563.2" y="211.8" width="1.5" height="1" fill="#3a1a40"/>
<rect x="562.8" y="208.2" width="1" height="1" fill="#3a1a40"/>
<rect x="564.0" y="224.5" width="1.5" height="1" fill="#a85a28"/>
<rect x="555.5" y="212.7" width="1" height="1" fill="#b86a2a"/>
<rect x="562.2" y="209.4" width="1.5" height="1" fill="#3a1a40"/>
<rect x="560.7" y="210.6" width="1" height="1.5" fill="#2a1a20"/>
<g filter="url(#blob2)"><g transform="translate(596.7,216.8) scale(0.877,1.140) translate(-596.7,-216.8)">
<path d="M601.5,215.6 Q601.8,216.9 601.4,218.1 Q601.0,219.4 600.0,220.1 Q598.9,220.8 597.8,221.2 Q596.7,221.6 595.3,221.6 Q593.9,221.6 592.9,220.6 Q592.0,219.6 591.2,218.2 Q590.5,216.9 590.2,214.9 Q589.9,213.0 591.5,211.7 Q593.0,210.4 594.8,210.9 Q596.7,211.4 597.9,212.1 Q599.1,212.7 600.1,213.5 Q601.1,214.3 601.5,215.6Z" fill="#b8682a"/>
<path d="M601.7,215.5 Q602.3,216.8 601.7,218.1 Q601.1,219.4 600.2,220.4 Q599.3,221.4 598.0,222.0 Q596.7,222.7 595.2,222.3 Q593.7,222.0 592.7,220.8 Q591.8,219.6 591.8,218.2 Q591.8,216.8 592.3,215.7 Q592.8,214.5 593.6,213.7 Q594.5,212.9 595.6,212.6 Q596.7,212.4 597.8,212.6 Q599.0,212.8 600.1,213.5 Q601.2,214.2 601.7,215.5Z" fill="#6a2270"/>
<path d="M600.5,215.8 Q600.8,216.8 600.5,217.8 Q600.2,218.8 599.5,219.7 Q598.9,220.6 597.8,221.1 Q596.7,221.6 595.6,221.0 Q594.6,220.5 594.0,219.6 Q593.4,218.7 593.1,217.7 Q592.8,216.8 592.9,215.8 Q593.1,214.7 593.7,213.8 Q594.4,212.8 595.6,212.5 Q596.7,212.2 597.8,212.7 Q598.8,213.2 599.5,213.9 Q600.3,214.7 600.5,215.8Z" fill="#2c0a68"/>
<path d="M598.9,215.9 Q599.1,216.8 598.9,217.6 Q598.6,218.4 598.0,219.2 Q597.4,220.0 596.4,219.9 Q595.4,219.9 594.7,219.2 Q593.9,218.6 593.5,217.7 Q593.1,216.8 593.3,215.8 Q593.6,214.7 594.5,214.3 Q595.5,213.9 596.4,214.0 Q597.3,214.2 598.0,214.6 Q598.8,215.1 598.9,215.9Z" fill="#180446"/>
</g></g>
<rect x="599.7" y="211.2" width="1" height="1" fill="#a85a28"/>
<rect x="590.4" y="218.9" width="1.5" height="1" fill="#2a1a20"/>
<rect x="591.2" y="210.4" width="1" height="1" fill="#2a1a20"/>
<rect x="592.5" y="221.3" width="1" height="1" fill="#2a1a20"/>
<rect x="590.0" y="212.0" width="1" height="1" fill="#b86a2a"/>
<rect x="590.7" y="220.6" width="1.5" height="1" fill="#2a1a20"/>
<g filter="url(#blob2)"><g transform="translate(634.2,216.8) scale(0.877,1.140) translate(-634.2,-216.8)">
<path d="M638.8,215.8 Q639.1,217.2 638.4,218.3 Q637.7,219.4 636.9,220.1 Q636.0,220.9 634.9,221.6 Q633.8,222.4 632.3,222.4 Q630.8,222.4 629.8,221.2 Q628.8,220.1 629.0,218.6 Q629.1,217.2 629.4,215.9 Q629.6,214.7 630.3,213.4 Q630.9,212.1 632.4,211.8 Q633.8,211.5 635.1,212.1 Q636.4,212.8 637.4,213.7 Q638.4,214.5 638.8,215.8Z" fill="#b8682a"/>
<path d="M638.7,215.7 Q639.4,216.8 639.0,218.1 Q638.6,219.4 637.6,220.2 Q636.6,221.0 635.4,221.3 Q634.2,221.6 632.9,221.4 Q631.7,221.2 630.4,220.4 Q629.1,219.7 628.7,218.3 Q628.3,216.8 629.1,215.6 Q629.9,214.3 630.9,213.6 Q631.9,212.8 633.0,212.4 Q634.2,211.9 635.3,212.5 Q636.4,213.0 637.2,213.8 Q638.0,214.6 638.7,215.7Z" fill="#6a2270"/>
<path d="M638.4,215.7 Q638.8,216.8 638.5,218.0 Q638.3,219.2 637.4,220.0 Q636.5,220.8 635.4,221.2 Q634.2,221.5 633.0,221.2 Q631.8,220.9 631.1,220.0 Q630.4,219.0 630.4,217.9 Q630.5,216.8 630.7,215.9 Q631.0,214.9 631.5,214.0 Q632.1,213.1 633.1,212.5 Q634.2,212.0 635.4,212.4 Q636.6,212.7 637.3,213.7 Q638.0,214.6 638.4,215.7Z" fill="#2c0a68"/>
<path d="M637.0,215.8 Q637.3,216.8 636.8,217.7 Q636.4,218.6 635.6,219.1 Q634.8,219.6 633.9,219.5 Q633.1,219.4 632.3,218.9 Q631.6,218.4 631.1,217.6 Q630.6,216.8 630.9,215.8 Q631.2,214.8 632.1,214.4 Q633.0,214.0 633.9,213.9 Q634.9,213.8 635.8,214.3 Q636.7,214.7 637.0,215.8Z" fill="#180446"/>
</g></g>
<rect x="640.3" y="215.5" width="1" height="1" fill="#3a1a40"/>
<rect x="631.1" y="224.0" width="1.5" height="1" fill="#2a1a20"/>
<rect x="640.7" y="212.3" width="1" height="1.5" fill="#a85a28"/>
<rect x="628.5" y="211.4" width="1" height="1" fill="#a85a28"/>
<rect x="629.1" y="214.6" width="1.5" height="1" fill="#3a1a40"/>
<rect x="630.4" y="221.4" width="1.5" height="1" fill="#2a1a20"/>
<g filter="url(#blob2)"><g transform="translate(525.0,253.0) scale(0.877,1.140) translate(-525.0,-253.0)">
<path d="M529.6,252.4 Q530.1,253.4 529.8,254.6 Q529.4,255.7 528.5,256.3 Q527.5,256.9 526.5,257.1 Q525.5,257.3 524.4,257.3 Q523.2,257.2 522.1,256.6 Q521.0,256.0 520.6,254.7 Q520.3,253.4 520.9,252.3 Q521.5,251.1 522.5,250.6 Q523.5,250.0 524.5,249.9 Q525.5,249.8 526.4,250.0 Q527.4,250.1 528.2,250.7 Q529.0,251.3 529.6,252.4Z" fill="#b8682a"/>
<path d="M527.8,252.3 Q528.0,253.0 527.7,253.7 Q527.4,254.4 527.0,255.0 Q526.5,255.6 525.7,256.1 Q525.0,256.6 524.1,256.4 Q523.2,256.1 522.6,255.4 Q522.1,254.7 521.7,253.8 Q521.3,253.0 521.5,252.0 Q521.6,251.0 522.3,250.3 Q523.0,249.5 524.0,249.3 Q525.0,249.2 525.8,249.7 Q526.6,250.2 527.1,250.9 Q527.5,251.5 527.8,252.3Z" fill="#6a2270"/>
<path d="M527.6,252.3 Q527.7,253.0 527.6,253.7 Q527.4,254.4 526.9,255.0 Q526.5,255.6 525.7,255.8 Q525.0,256.0 524.3,255.7 Q523.6,255.4 523.3,254.8 Q522.9,254.2 522.7,253.6 Q522.5,253.0 522.5,252.3 Q522.5,251.5 523.0,251.0 Q523.6,250.5 524.3,250.4 Q525.0,250.3 525.7,250.5 Q526.3,250.7 526.9,251.1 Q527.4,251.6 527.6,252.3Z" fill="#2c0a68"/>
<path d="M526.8,252.3 Q527.1,253.0 526.8,253.7 Q526.6,254.4 526.0,254.7 Q525.3,255.0 524.8,254.8 Q524.2,254.6 523.8,254.3 Q523.4,254.0 523.0,253.5 Q522.7,253.0 522.9,252.4 Q523.0,251.8 523.6,251.6 Q524.2,251.4 524.7,251.3 Q525.3,251.3 525.9,251.5 Q526.5,251.7 526.8,252.3Z" fill="#180446"/>
</g></g>
<rect x="523.3" y="259.8" width="1" height="1.5" fill="#a85a28"/>
<rect x="529.8" y="255.1" width="1" height="1" fill="#b86a2a"/>
<rect x="528.9" y="250.0" width="1" height="1" fill="#b86a2a"/>
<rect x="517.5" y="252.9" width="1" height="1.5" fill="#b86a2a"/>
<g filter="url(#blob2)"><g transform="translate(560.0,253.0) scale(0.877,1.140) translate(-560.0,-253.0)">
<path d="M564.1,251.6 Q564.3,252.7 563.8,253.6 Q563.2,254.5 562.7,255.3 Q562.1,256.1 561.1,256.5 Q560.1,256.9 559.2,256.5 Q558.2,256.1 557.6,255.3 Q556.9,254.5 556.4,253.6 Q555.9,252.7 556.1,251.6 Q556.2,250.4 557.1,249.7 Q558.0,248.9 559.0,248.7 Q560.1,248.5 561.2,248.8 Q562.2,249.2 563.1,249.8 Q564.0,250.5 564.1,251.6Z" fill="#b8682a"/>
<path d="M563.4,252.1 Q563.8,253.0 563.5,253.9 Q563.1,254.8 562.4,255.4 Q561.7,256.0 560.9,256.4 Q560.0,256.8 559.1,256.5 Q558.1,256.3 557.6,255.5 Q557.1,254.7 556.8,253.8 Q556.5,253.0 556.6,252.0 Q556.6,251.0 557.4,250.4 Q558.1,249.7 559.1,249.7 Q560.0,249.7 560.8,250.0 Q561.6,250.3 562.3,250.8 Q563.0,251.3 563.4,252.1Z" fill="#6a2270"/>
<path d="M562.7,252.2 Q562.6,253.0 562.4,253.6 Q562.1,254.2 561.6,254.6 Q561.2,255.0 560.6,255.3 Q560.0,255.5 559.3,255.5 Q558.5,255.6 557.9,255.0 Q557.3,254.5 557.3,253.8 Q557.2,253.0 557.4,252.3 Q557.7,251.7 558.1,251.1 Q558.6,250.5 559.3,250.2 Q560.0,249.8 560.8,249.9 Q561.7,250.1 562.2,250.8 Q562.7,251.4 562.7,252.2Z" fill="#2c0a68"/>
<path d="M561.7,252.4 Q562.0,253.0 561.8,253.7 Q561.6,254.4 561.0,254.7 Q560.4,255.0 559.7,254.9 Q559.1,254.8 558.7,254.4 Q558.2,254.1 558.0,253.5 Q557.7,253.0 557.9,252.4 Q558.1,251.8 558.6,251.6 Q559.2,251.3 559.7,251.3 Q560.2,251.4 560.8,251.6 Q561.3,251.8 561.7,252.4Z" fill="#180446"/>
</g></g>
<rect x="557.0" y="250.4" width="1" height="1" fill="#b86a2a"/>
<rect x="558.0" y="258.6" width="1.5" height="1" fill="#3a1a40"/>
<rect x="554.7" y="249.9" width="1" height="1" fill="#3a1a40"/>
<rect x="562.1" y="256.2" width="1" height="1.5" fill="#a85a28"/>
<g filter="url(#blob2)">
<path d="M600.4,251.0 Q600.4,252.0 599.8,252.6 Q599.2,253.3 598.8,253.9 Q598.4,254.5 597.7,255.0 Q597.0,255.6 596.0,255.4 Q595.1,255.3 594.0,254.8 Q593.0,254.3 592.7,253.2 Q592.4,252.0 593.1,251.1 Q593.8,250.1 594.3,249.2 Q594.8,248.2 595.9,247.6 Q597.0,247.1 598.1,247.6 Q599.2,248.2 599.8,249.1 Q600.5,250.0 600.4,251.0Z" fill="#c07430" opacity="0.95"/>
<path d="M599.3,251.4 Q599.5,252.0 599.3,252.6 Q599.0,253.1 598.5,253.4 Q597.9,253.7 597.4,253.5 Q597.0,253.4 596.7,253.1 Q596.4,252.7 596.3,252.4 Q596.2,252.0 596.3,251.6 Q596.4,251.3 596.7,251.0 Q597.0,250.7 597.5,250.6 Q597.9,250.4 598.5,250.6 Q599.1,250.8 599.3,251.4Z" fill="#7a2c6a" opacity="0.85"/>
</g>
<g filter="url(#blob2)"><g transform="translate(634.0,253.0) scale(0.877,1.140) translate(-634.0,-253.0)">
<path d="M639.2,251.5 Q639.3,253.1 638.4,254.3 Q637.5,255.5 636.7,256.3 Q635.9,257.2 634.7,257.8 Q633.5,258.4 632.1,258.2 Q630.7,258.0 629.7,257.0 Q628.7,255.9 628.5,254.5 Q628.2,253.1 628.6,251.8 Q628.9,250.5 630.0,249.7 Q631.1,248.9 632.3,248.8 Q633.5,248.7 634.9,248.5 Q636.3,248.4 637.7,249.1 Q639.2,249.9 639.2,251.5Z" fill="#b8682a"/>
<path d="M638.3,251.9 Q638.7,253.0 638.3,254.1 Q637.8,255.2 637.0,256.0 Q636.1,256.7 635.1,256.9 Q634.0,257.1 632.9,257.0 Q631.8,256.8 630.9,256.0 Q630.1,255.3 630.0,254.1 Q629.9,253.0 630.2,252.0 Q630.5,251.0 631.2,250.1 Q631.8,249.3 632.9,248.8 Q634.0,248.4 635.1,248.8 Q636.2,249.2 637.0,250.0 Q637.9,250.8 638.3,251.9Z" fill="#6a2270"/>
<path d="M637.3,252.1 Q637.4,253.0 637.5,254.0 Q637.5,255.0 636.9,256.0 Q636.2,256.9 635.1,257.0 Q634.0,257.2 633.1,256.6 Q632.3,256.0 631.7,255.3 Q631.2,254.6 630.7,253.8 Q630.3,253.0 630.4,252.0 Q630.5,251.0 631.2,250.2 Q631.9,249.4 633.0,249.0 Q634.0,248.6 635.1,249.0 Q636.1,249.3 636.6,250.3 Q637.1,251.2 637.3,252.1Z" fill="#2c0a68"/>
<path d="M636.6,252.1 Q637.0,253.0 636.6,253.9 Q636.1,254.8 635.3,255.1 Q634.5,255.4 633.7,255.3 Q633.0,255.3 632.3,254.9 Q631.6,254.5 631.2,253.8 Q630.7,253.0 631.0,252.1 Q631.3,251.2 632.1,251.0 Q633.0,250.7 633.7,250.7 Q634.5,250.7 635.3,250.9 Q636.2,251.2 636.6,252.1Z" fill="#180446"/>
</g></g>
<rect x="636.2" y="258.8" width="1.5" height="1" fill="#3a1a40"/>
<rect x="640.0" y="249.0" width="1.5" height="1.5" fill="#3a1a40"/>
<rect x="627.3" y="254.2" width="1" height="1" fill="#3a1a40"/>
<rect x="639.4" y="251.5" width="1" height="1" fill="#3a1a40"/>
<rect x="630.4" y="249.5" width="1" height="1" fill="#2a1a20"/>
<g filter="url(#blob2)">
<path d="M635.2,290.6 Q635.1,291.0 635.2,291.4 Q635.4,291.8 635.2,292.3 Q635.1,292.9 634.5,292.9 Q634.0,292.9 633.7,292.5 Q633.3,292.2 633.2,291.9 Q633.0,291.6 632.8,291.3 Q632.6,291.0 632.4,290.5 Q632.2,290.0 632.5,289.5 Q632.8,289.0 633.4,288.8 Q634.0,288.6 634.5,288.9 Q635.1,289.2 635.2,289.7 Q635.3,290.3 635.2,290.6Z" fill="#c07430" opacity="0.95"/>
<path d="M635.2,290.7 Q635.3,291.0 635.3,291.3 Q635.2,291.6 635.0,291.9 Q634.8,292.1 634.4,292.2 Q634.0,292.2 633.7,291.9 Q633.5,291.7 633.5,291.3 Q633.4,291.0 633.4,290.7 Q633.5,290.3 633.7,290.0 Q634.0,289.7 634.4,289.8 Q634.8,289.9 635.0,290.2 Q635.2,290.4 635.2,290.7Z" fill="#7a2c6a" opacity="0.85"/>
</g>
<rect x="500.40" y="197.20" width="151.70" height="152.00" fill="none" stroke="#55583a" stroke-width="0.7"/>
<circle cx="634.2" cy="291.4" r="15" fill="none" stroke="#f21c1c" stroke-width="1.35" stroke-dasharray="3.4 2.1"/>
<rect x="605.00" y="332.80" width="44.50" height="3.2" fill="#fff" stroke="#333" stroke-width="1.0"/>
<text x="627.25" y="342.90" font-size="8.6" text-anchor="middle" fill="#f4f4f4" font-family="Liberation Sans" font-weight="bold" stroke="#2a2a2a" stroke-width="2.3" paint-order="stroke" stroke-linejoin="round">1μm</text>
<text x="548.50" y="286.00" font-size="12.2" text-anchor="start" fill="#000" font-family="Liberation Serif" font-weight="bold" textLength="67.6" lengthAdjust="spacingAndGlyphs">-1.02 MV/cm</text>
<text x="502.20" y="346.90" font-size="12.2" text-anchor="start" fill="#000" font-family="Liberation Serif" font-weight="bold" textLength="116.5" lengthAdjust="spacingAndGlyphs">-0.56~-1.56 MV/cm,1 s</text>
<rect x="657.3" y="217.5" width="17.4" height="127.10000000000002" fill="url(#acb657_217)" stroke="#666" stroke-width="0.6"/>
<text x="666.30" y="224.70" font-size="8.6" text-anchor="middle" fill="#222" font-family="Liberation Sans" >180</text>
<text x="666.30" y="284.15" font-size="8.6" text-anchor="middle" fill="#fff" font-family="Liberation Sans" >90.0</text>
<text x="666.30" y="343.30" font-size="8.6" text-anchor="middle" fill="#fff" font-family="Liberation Sans" >0.00</text>
<circle cx="665.5" cy="207.3" r="1.0" fill="none" stroke="#777" stroke-width="0.55"/>
<line x1="44.00" y1="492.87" x2="176.30" y2="457.51" stroke="#f3821e" stroke-width="1.6"/>
<circle cx="44.00" cy="487.70" r="2.25" fill="#f4a476" stroke="#e0784a" stroke-width="0.8"/>
<ellipse cx="43.70" cy="487.60" rx="1.1" ry="0.6" fill="#fff" opacity="0.85"/>
<circle cx="62.90" cy="482.96" r="2.25" fill="#f4a476" stroke="#e0784a" stroke-width="0.8"/>
<ellipse cx="62.60" cy="482.86" rx="1.1" ry="0.6" fill="#fff" opacity="0.85"/>
<circle cx="81.80" cy="489.86" r="2.25" fill="#f4a476" stroke="#e0784a" stroke-width="0.8"/>
<ellipse cx="81.50" cy="489.76" rx="1.1" ry="0.6" fill="#fff" opacity="0.85"/>
<circle cx="100.70" cy="472.61" r="2.25" fill="#f4a476" stroke="#e0784a" stroke-width="0.8"/>
<ellipse cx="100.40" cy="472.51" rx="1.1" ry="0.6" fill="#fff" opacity="0.85"/>
<circle cx="119.60" cy="474.33" r="2.25" fill="#f4a476" stroke="#e0784a" stroke-width="0.8"/>
<ellipse cx="119.30" cy="474.23" rx="1.1" ry="0.6" fill="#fff" opacity="0.85"/>
<circle cx="138.50" cy="475.19" r="2.25" fill="#f4a476" stroke="#e0784a" stroke-width="0.8"/>
<ellipse cx="138.20" cy="475.09" rx="1.1" ry="0.6" fill="#fff" opacity="0.85"/>
<circle cx="157.40" cy="459.67" r="2.25" fill="#f4a476" stroke="#e0784a" stroke-width="0.8"/>
<ellipse cx="157.10" cy="459.57" rx="1.1" ry="0.6" fill="#fff" opacity="0.85"/>
<circle cx="176.30" cy="453.63" r="2.25" fill="#f4a476" stroke="#e0784a" stroke-width="0.8"/>
<ellipse cx="176.00" cy="453.53" rx="1.1" ry="0.6" fill="#fff" opacity="0.85"/>
<polygon points="44.00,469.15 44.87,471.25 47.14,471.43 45.41,472.91 45.94,475.12 44.00,473.94 42.06,475.12 42.59,472.91 40.86,471.43 43.13,471.25" fill="#f646cc"/>
<polygon points="62.90,469.15 63.77,471.25 66.04,471.43 64.31,472.91 64.84,475.12 62.90,473.94 60.96,475.12 61.49,472.91 59.76,471.43 62.03,471.25" fill="#f646cc"/>
<polygon points="81.80,469.15 82.67,471.25 84.94,471.43 83.21,472.91 83.74,475.12 81.80,473.94 79.86,475.12 80.39,472.91 78.66,471.43 80.93,471.25" fill="#f646cc"/>
<polygon points="100.70,454.39 101.57,456.49 103.84,456.67 102.11,458.15 102.64,460.36 100.70,459.17 98.76,460.36 99.29,458.15 97.56,456.67 99.83,456.49" fill="#f646cc"/>
<polygon points="119.60,454.39 120.47,456.49 122.74,456.67 121.01,458.15 121.54,460.36 119.60,459.17 117.66,460.36 118.19,458.15 116.46,456.67 118.73,456.49" fill="#f646cc"/>
<polygon points="138.50,447.01 139.37,449.10 141.64,449.29 139.91,450.76 140.44,452.98 138.50,451.79 136.56,452.98 137.09,450.76 135.36,449.29 137.63,449.10" fill="#f646cc"/>
<polygon points="157.40,447.01 158.27,449.10 160.54,449.29 158.81,450.76 159.34,452.98 157.40,451.79 155.46,452.98 155.99,450.76 154.26,449.29 156.53,449.10" fill="#f646cc"/>
<polygon points="176.30,447.01 177.17,449.10 179.44,449.29 177.71,450.76 178.24,452.98 176.30,451.79 174.36,452.98 174.89,450.76 173.16,449.29 175.43,449.10" fill="#f646cc"/>
<line x1="33.3" y1="369.1" x2="188.6" y2="369.1" stroke="#000" stroke-width="1.35"/>
<line x1="33.3" y1="494.6" x2="188.6" y2="494.6" stroke="#000" stroke-width="1.35"/>
<line x1="33.3" y1="368.40000000000003" x2="33.3" y2="495.3" stroke="#f07c52" stroke-width="1.35"/>
<line x1="188.6" y1="368.40000000000003" x2="188.6" y2="495.3" stroke="#ff4fd2" stroke-width="1.35"/>
<line x1="33.3" y1="489.86" x2="34.599999999999994" y2="489.86" stroke="#f07c52" stroke-width="0.7"/>
<line x1="33.3" y1="481.23" x2="35.599999999999994" y2="481.23" stroke="#f07c52" stroke-width="0.9"/>
<text x="30.90" y="484.43" font-size="9.2" text-anchor="end" fill="#000" font-family="Liberation Serif" font-weight="bold" >40</text>
<line x1="33.3" y1="472.61" x2="34.599999999999994" y2="472.61" stroke="#f07c52" stroke-width="0.7"/>
<line x1="33.3" y1="463.98" x2="35.599999999999994" y2="463.98" stroke="#f07c52" stroke-width="0.9"/>
<text x="30.90" y="467.18" font-size="9.2" text-anchor="end" fill="#000" font-family="Liberation Serif" font-weight="bold" >60</text>
<line x1="33.3" y1="455.35" x2="34.599999999999994" y2="455.35" stroke="#f07c52" stroke-width="0.7"/>
<line x1="33.3" y1="446.73" x2="35.599999999999994" y2="446.73" stroke="#f07c52" stroke-width="0.9"/>
<text x="30.90" y="449.93" font-size="9.2" text-anchor="end" fill="#000" font-family="Liberation Serif" font-weight="bold" >80</text>
<line x1="33.3" y1="438.10" x2="34.599999999999994" y2="438.10" stroke="#f07c52" stroke-width="0.7"/>
<line x1="33.3" y1="429.48" x2="35.599999999999994" y2="429.48" stroke="#f07c52" stroke-width="0.9"/>
<text x="30.90" y="432.68" font-size="9.2" text-anchor="end" fill="#000" font-family="Liberation Serif" font-weight="bold" >100</text>
<line x1="33.3" y1="420.85" x2="34.599999999999994" y2="420.85" stroke="#f07c52" stroke-width="0.7"/>
<line x1="33.3" y1="412.23" x2="35.599999999999994" y2="412.23" stroke="#f07c52" stroke-width="0.9"/>
<text x="30.90" y="415.43" font-size="9.2" text-anchor="end" fill="#000" font-family="Liberation Serif" font-weight="bold" >120</text>
<line x1="33.3" y1="403.60" x2="34.599999999999994" y2="403.60" stroke="#f07c52" stroke-width="0.7"/>
<line x1="33.3" y1="394.98" x2="35.599999999999994" y2="394.98" stroke="#f07c52" stroke-width="0.9"/>
<text x="30.90" y="398.18" font-size="9.2" text-anchor="end" fill="#000" font-family="Liberation Serif" font-weight="bold" >140</text>
<line x1="33.3" y1="386.35" x2="34.599999999999994" y2="386.35" stroke="#f07c52" stroke-width="0.7"/>
<line x1="33.3" y1="377.73" x2="35.599999999999994" y2="377.73" stroke="#f07c52" stroke-width="0.9"/>
<text x="30.90" y="380.93" font-size="9.2" text-anchor="end" fill="#000" font-family="Liberation Serif" font-weight="bold" >160</text>
<line x1="33.3" y1="369.10" x2="34.599999999999994" y2="369.10" stroke="#f07c52" stroke-width="0.7"/>
<line x1="188.6" y1="494.60" x2="186.29999999999998" y2="494.60" stroke="#ff4fd2" stroke-width="0.9"/>
<text x="191.40" y="497.80" font-size="9.2" text-anchor="start" fill="#000" font-family="Liberation Serif" font-weight="bold" >0</text>
<line x1="188.6" y1="485.37" x2="187.29999999999998" y2="485.37" stroke="#ff4fd2" stroke-width="0.7"/>
<line x1="188.6" y1="476.14" x2="186.29999999999998" y2="476.14" stroke="#ff4fd2" stroke-width="0.9"/>
<text x="191.40" y="479.34" font-size="9.2" text-anchor="start" fill="#000" font-family="Liberation Serif" font-weight="bold" >25</text>
<line x1="188.6" y1="466.92" x2="187.29999999999998" y2="466.92" stroke="#ff4fd2" stroke-width="0.7"/>
<line x1="188.6" y1="457.69" x2="186.29999999999998" y2="457.69" stroke="#ff4fd2" stroke-width="0.9"/>
<text x="191.40" y="460.89" font-size="9.2" text-anchor="start" fill="#000" font-family="Liberation Serif" font-weight="bold" >50</text>
<line x1="188.6" y1="448.46" x2="187.29999999999998" y2="448.46" stroke="#ff4fd2" stroke-width="0.7"/>
<line x1="188.6" y1="439.23" x2="186.29999999999998" y2="439.23" stroke="#ff4fd2" stroke-width="0.9"/>
<text x="191.40" y="442.43" font-size="9.2" text-anchor="start" fill="#000" font-family="Liberation Serif" font-weight="bold" >75</text>
<line x1="188.6" y1="430.00" x2="187.29999999999998" y2="430.00" stroke="#ff4fd2" stroke-width="0.7"/>
<line x1="188.6" y1="420.78" x2="186.29999999999998" y2="420.78" stroke="#ff4fd2" stroke-width="0.9"/>
<text x="191.40" y="423.98" font-size="9.2" text-anchor="start" fill="#000" font-family="Liberation Serif" font-weight="bold" >100</text>
<line x1="188.6" y1="411.55" x2="187.29999999999998" y2="411.55" stroke="#ff4fd2" stroke-width="0.7"/>
<line x1="188.6" y1="402.32" x2="186.29999999999998" y2="402.32" stroke="#ff4fd2" stroke-width="0.9"/>
<text x="191.40" y="405.52" font-size="9.2" text-anchor="start" fill="#000" font-family="Liberation Serif" font-weight="bold" >125</text>
<line x1="188.6" y1="393.09" x2="187.29999999999998" y2="393.09" stroke="#ff4fd2" stroke-width="0.7"/>
<line x1="188.6" y1="383.86" x2="186.29999999999998" y2="383.86" stroke="#ff4fd2" stroke-width="0.9"/>
<text x="191.40" y="387.06" font-size="9.2" text-anchor="start" fill="#000" font-family="Liberation Serif" font-weight="bold" >150</text>
<line x1="188.6" y1="374.64" x2="187.29999999999998" y2="374.64" stroke="#ff4fd2" stroke-width="0.7"/>
<line x1="47.50" y1="494.6" x2="47.50" y2="492.3" stroke="#000" stroke-width="0.9"/>
<text x="47.50" y="504.60" font-size="9.2" text-anchor="middle" fill="#000" font-family="Liberation Serif" font-weight="bold" >-1.1</text>
<line x1="75.72" y1="494.6" x2="75.72" y2="492.3" stroke="#000" stroke-width="0.9"/>
<text x="75.72" y="504.60" font-size="9.2" text-anchor="middle" fill="#000" font-family="Liberation Serif" font-weight="bold" >-1.2</text>
<line x1="103.94" y1="494.6" x2="103.94" y2="492.3" stroke="#000" stroke-width="0.9"/>
<text x="103.94" y="504.60" font-size="9.2" text-anchor="middle" fill="#000" font-family="Liberation Serif" font-weight="bold" >-1.3</text>
<line x1="132.16" y1="494.6" x2="132.16" y2="492.3" stroke="#000" stroke-width="0.9"/>
<text x="132.16" y="504.60" font-size="9.2" text-anchor="middle" fill="#000" font-family="Liberation Serif" font-weight="bold" >-1.4</text>
<line x1="160.38" y1="494.6" x2="160.38" y2="492.3" stroke="#000" stroke-width="0.9"/>
<text x="160.38" y="504.60" font-size="9.2" text-anchor="middle" fill="#000" font-family="Liberation Serif" font-weight="bold" >-1.5</text>
<line x1="188.60" y1="494.6" x2="188.60" y2="492.3" stroke="#000" stroke-width="0.9"/>
<text x="188.60" y="504.60" font-size="9.2" text-anchor="middle" fill="#000" font-family="Liberation Serif" font-weight="bold" >-1.6</text>
<line x1="61.61" y1="494.6" x2="61.61" y2="493.3" stroke="#000" stroke-width="0.7"/>
<line x1="89.83" y1="494.6" x2="89.83" y2="493.3" stroke="#000" stroke-width="0.7"/>
<line x1="118.05" y1="494.6" x2="118.05" y2="493.3" stroke="#000" stroke-width="0.7"/>
<line x1="146.27" y1="494.6" x2="146.27" y2="493.3" stroke="#000" stroke-width="0.7"/>
<line x1="174.49" y1="494.6" x2="174.49" y2="493.3" stroke="#000" stroke-width="0.7"/>
<text x="110.95" y="519.20" font-size="10" text-anchor="middle" fill="#000" font-family="Liberation Serif" font-weight="bold" >Electric field (MV/cm)</text>
<text transform="translate(14.10,431.85) rotate(-90)" font-size="10" text-anchor="middle" font-family="Liberation Serif" font-weight="bold">Radius (nm)</text>
<text transform="translate(214.40,430.35) rotate(-90)" font-size="10" text-anchor="middle" font-family="Liberation Serif" font-weight="bold" xml:space="preserve">Degree of  switching (°)</text>
<line x1="277.40" y1="456.65" x2="409.70" y2="385.06" stroke="#f3821e" stroke-width="1.6"/>
<circle cx="277.40" cy="446.73" r="2.25" fill="#f4a476" stroke="#e0784a" stroke-width="0.8"/>
<ellipse cx="277.10" cy="446.63" rx="1.1" ry="0.6" fill="#fff" opacity="0.85"/>
<circle cx="296.30" cy="446.73" r="2.25" fill="#f4a476" stroke="#e0784a" stroke-width="0.8"/>
<ellipse cx="296.00" cy="446.63" rx="1.1" ry="0.6" fill="#fff" opacity="0.85"/>
<circle cx="315.20" cy="442.42" r="2.25" fill="#f4a476" stroke="#e0784a" stroke-width="0.8"/>
<ellipse cx="314.90" cy="442.32" rx="1.1" ry="0.6" fill="#fff" opacity="0.85"/>
<circle cx="334.10" cy="429.48" r="2.25" fill="#f4a476" stroke="#e0784a" stroke-width="0.8"/>
<ellipse cx="333.80" cy="429.38" rx="1.1" ry="0.6" fill="#fff" opacity="0.85"/>
<circle cx="353.00" cy="416.54" r="2.25" fill="#f4a476" stroke="#e0784a" stroke-width="0.8"/>
<ellipse cx="352.70" cy="416.44" rx="1.1" ry="0.6" fill="#fff" opacity="0.85"/>
<circle cx="371.90" cy="412.23" r="2.25" fill="#f4a476" stroke="#e0784a" stroke-width="0.8"/>
<ellipse cx="371.60" cy="412.13" rx="1.1" ry="0.6" fill="#fff" opacity="0.85"/>
<circle cx="390.80" cy="399.29" r="2.25" fill="#f4a476" stroke="#e0784a" stroke-width="0.8"/>
<ellipse cx="390.50" cy="399.19" rx="1.1" ry="0.6" fill="#fff" opacity="0.85"/>
<circle cx="409.70" cy="373.41" r="2.25" fill="#f4a476" stroke="#e0784a" stroke-width="0.8"/>
<ellipse cx="409.40" cy="373.31" rx="1.1" ry="0.6" fill="#fff" opacity="0.85"/>
<polygon points="277.40,432.24 278.27,434.34 280.54,434.52 278.81,436.00 279.34,438.21 277.40,437.03 275.46,438.21 275.99,436.00 274.26,434.52 276.53,434.34" fill="#f646cc"/>
<polygon points="296.30,373.18 297.17,375.28 299.44,375.46 297.71,376.94 298.24,379.15 296.30,377.97 294.36,379.15 294.89,376.94 293.16,375.46 295.43,375.28" fill="#f646cc"/>
<polygon points="315.20,417.48 316.07,419.58 318.34,419.76 316.61,421.24 317.14,423.45 315.20,422.26 313.26,423.45 313.79,421.24 312.06,419.76 314.33,419.58" fill="#f646cc"/>
<polygon points="334.10,373.18 334.97,375.28 337.24,375.46 335.51,376.94 336.04,379.15 334.10,377.97 332.16,379.15 332.69,376.94 330.96,375.46 333.23,375.28" fill="#f646cc"/>
<polygon points="353.00,373.18 353.87,375.28 356.14,375.46 354.41,376.94 354.94,379.15 353.00,377.97 351.06,379.15 351.59,376.94 349.86,375.46 352.13,375.28" fill="#f646cc"/>
<polygon points="371.90,373.18 372.77,375.28 375.04,375.46 373.31,376.94 373.84,379.15 371.90,377.97 369.96,379.15 370.49,376.94 368.76,375.46 371.03,375.28" fill="#f646cc"/>
<polygon points="390.80,373.18 391.67,375.28 393.94,375.46 392.21,376.94 392.74,379.15 390.80,377.97 388.86,379.15 389.39,376.94 387.66,375.46 389.93,375.28" fill="#f646cc"/>
<polygon points="409.70,373.18 410.57,375.28 412.84,375.46 411.11,376.94 411.64,379.15 409.70,377.97 407.76,379.15 408.29,376.94 406.56,375.46 408.83,375.28" fill="#f646cc"/>
<line x1="266.7" y1="369.1" x2="422.0" y2="369.1" stroke="#000" stroke-width="1.35"/>
<line x1="266.7" y1="494.6" x2="422.0" y2="494.6" stroke="#000" stroke-width="1.35"/>
<line x1="266.7" y1="368.40000000000003" x2="266.7" y2="495.3" stroke="#f08a2c" stroke-width="1.35"/>
<line x1="422.0" y1="368.40000000000003" x2="422.0" y2="495.3" stroke="#ff4fd2" stroke-width="1.35"/>
<line x1="266.7" y1="489.86" x2="268.0" y2="489.86" stroke="#f08a2c" stroke-width="0.7"/>
<line x1="266.7" y1="481.23" x2="269.0" y2="481.23" stroke="#f08a2c" stroke-width="0.9"/>
<text x="264.30" y="484.43" font-size="9.2" text-anchor="end" fill="#000" font-family="Liberation Serif" font-weight="bold" >40</text>
<line x1="266.7" y1="472.61" x2="268.0" y2="472.61" stroke="#f08a2c" stroke-width="0.7"/>
<line x1="266.7" y1="463.98" x2="269.0" y2="463.98" stroke="#f08a2c" stroke-width="0.9"/>
<text x="264.30" y="467.18" font-size="9.2" text-anchor="end" fill="#000" font-family="Liberation Serif" font-weight="bold" >60</text>
<line x1="266.7" y1="455.35" x2="268.0" y2="455.35" stroke="#f08a2c" stroke-width="0.7"/>
<line x1="266.7" y1="446.73" x2="269.0" y2="446.73" stroke="#f08a2c" stroke-width="0.9"/>
<text x="264.30" y="449.93" font-size="9.2" text-anchor="end" fill="#000" font-family="Liberation Serif" font-weight="bold" >80</text>
<line x1="266.7" y1="438.10" x2="268.0" y2="438.10" stroke="#f08a2c" stroke-width="0.7"/>
<line x1="266.7" y1="429.48" x2="269.0" y2="429.48" stroke="#f08a2c" stroke-width="0.9"/>
<text x="264.30" y="432.68" font-size="9.2" text-anchor="end" fill="#000" font-family="Liberation Serif" font-weight="bold" >100</text>
<line x1="266.7" y1="420.85" x2="268.0" y2="420.85" stroke="#f08a2c" stroke-width="0.7"/>
<line x1="266.7" y1="412.23" x2="269.0" y2="412.23" stroke="#f08a2c" stroke-width="0.9"/>
<text x="264.30" y="415.43" font-size="9.2" text-anchor="end" fill="#000" font-family="Liberation Serif" font-weight="bold" >120</text>
<line x1="266.7" y1="403.60" x2="268.0" y2="403.60" stroke="#f08a2c" stroke-width="0.7"/>
<line x1="266.7" y1="394.98" x2="269.0" y2="394.98" stroke="#f08a2c" stroke-width="0.9"/>
<text x="264.30" y="398.18" font-size="9.2" text-anchor="end" fill="#000" font-family="Liberation Serif" font-weight="bold" >140</text>
<line x1="266.7" y1="386.35" x2="268.0" y2="386.35" stroke="#f08a2c" stroke-width="0.7"/>
<line x1="266.7" y1="377.73" x2="269.0" y2="377.73" stroke="#f08a2c" stroke-width="0.9"/>
<text x="264.30" y="380.93" font-size="9.2" text-anchor="end" fill="#000" font-family="Liberation Serif" font-weight="bold" >160</text>
<line x1="266.7" y1="369.10" x2="268.0" y2="369.10" stroke="#f08a2c" stroke-width="0.7"/>
<line x1="422.0" y1="494.60" x2="419.7" y2="494.60" stroke="#ff4fd2" stroke-width="0.9"/>
<text x="424.80" y="497.80" font-size="9.2" text-anchor="start" fill="#000" font-family="Liberation Serif" font-weight="bold" >0</text>
<line x1="422.0" y1="485.37" x2="420.7" y2="485.37" stroke="#ff4fd2" stroke-width="0.7"/>
<line x1="422.0" y1="476.14" x2="419.7" y2="476.14" stroke="#ff4fd2" stroke-width="0.9"/>
<text x="424.80" y="479.34" font-size="9.2" text-anchor="start" fill="#000" font-family="Liberation Serif" font-weight="bold" >25</text>
<line x1="422.0" y1="466.92" x2="420.7" y2="466.92" stroke="#ff4fd2" stroke-width="0.7"/>
<line x1="422.0" y1="457.69" x2="419.7" y2="457.69" stroke="#ff4fd2" stroke-width="0.9"/>
<text x="424.80" y="460.89" font-size="9.2" text-anchor="start" fill="#000" font-family="Liberation Serif" font-weight="bold" >50</text>
<line x1="422.0" y1="448.46" x2="420.7" y2="448.46" stroke="#ff4fd2" stroke-width="0.7"/>
<line x1="422.0" y1="439.23" x2="419.7" y2="439.23" stroke="#ff4fd2" stroke-width="0.9"/>
<text x="424.80" y="442.43" font-size="9.2" text-anchor="start" fill="#000" font-family="Liberation Serif" font-weight="bold" >75</text>
<line x1="422.0" y1="430.00" x2="420.7" y2="430.00" stroke="#ff4fd2" stroke-width="0.7"/>
<line x1="422.0" y1="420.78" x2="419.7" y2="420.78" stroke="#ff4fd2" stroke-width="0.9"/>
<text x="424.80" y="423.98" font-size="9.2" text-anchor="start" fill="#000" font-family="Liberation Serif" font-weight="bold" >100</text>
<line x1="422.0" y1="411.55" x2="420.7" y2="411.55" stroke="#ff4fd2" stroke-width="0.7"/>
<line x1="422.0" y1="402.32" x2="419.7" y2="402.32" stroke="#ff4fd2" stroke-width="0.9"/>
<text x="424.80" y="405.52" font-size="9.2" text-anchor="start" fill="#000" font-family="Liberation Serif" font-weight="bold" >125</text>
<line x1="422.0" y1="393.09" x2="420.7" y2="393.09" stroke="#ff4fd2" stroke-width="0.7"/>
<line x1="422.0" y1="383.86" x2="419.7" y2="383.86" stroke="#ff4fd2" stroke-width="0.9"/>
<text x="424.80" y="387.06" font-size="9.2" text-anchor="start" fill="#000" font-family="Liberation Serif" font-weight="bold" >150</text>
<line x1="422.0" y1="374.64" x2="420.7" y2="374.64" stroke="#ff4fd2" stroke-width="0.7"/>
<line x1="280.90" y1="494.6" x2="280.90" y2="492.3" stroke="#000" stroke-width="0.9"/>
<text x="280.90" y="504.60" font-size="9.2" text-anchor="middle" fill="#000" font-family="Liberation Serif" font-weight="bold" >-1.1</text>
<line x1="309.12" y1="494.6" x2="309.12" y2="492.3" stroke="#000" stroke-width="0.9"/>
<text x="309.12" y="504.60" font-size="9.2" text-anchor="middle" fill="#000" font-family="Liberation Serif" font-weight="bold" >-1.2</text>
<line x1="337.34" y1="494.6" x2="337.34" y2="492.3" stroke="#000" stroke-width="0.9"/>
<text x="337.34" y="504.60" font-size="9.2" text-anchor="middle" fill="#000" font-family="Liberation Serif" font-weight="bold" >-1.3</text>
<line x1="365.56" y1="494.6" x2="365.56" y2="492.3" stroke="#000" stroke-width="0.9"/>
<text x="365.56" y="504.60" font-size="9.2" text-anchor="middle" fill="#000" font-family="Liberation Serif" font-weight="bold" >-1.4</text>
<line x1="393.78" y1="494.6" x2="393.78" y2="492.3" stroke="#000" stroke-width="0.9"/>
<text x="393.78" y="504.60" font-size="9.2" text-anchor="middle" fill="#000" font-family="Liberation Serif" font-weight="bold" >-1.5</text>
<line x1="422.00" y1="494.6" x2="422.00" y2="492.3" stroke="#000" stroke-width="0.9"/>
<text x="422.00" y="504.60" font-size="9.2" text-anchor="middle" fill="#000" font-family="Liberation Serif" font-weight="bold" >-1.6</text>
<line x1="295.01" y1="494.6" x2="295.01" y2="493.3" stroke="#000" stroke-width="0.7"/>
<line x1="323.23" y1="494.6" x2="323.23" y2="493.3" stroke="#000" stroke-width="0.7"/>
<line x1="351.45" y1="494.6" x2="351.45" y2="493.3" stroke="#000" stroke-width="0.7"/>
<line x1="379.67" y1="494.6" x2="379.67" y2="493.3" stroke="#000" stroke-width="0.7"/>
<line x1="407.89" y1="494.6" x2="407.89" y2="493.3" stroke="#000" stroke-width="0.7"/>
<text x="344.35" y="519.20" font-size="10" text-anchor="middle" fill="#000" font-family="Liberation Serif" font-weight="bold" >Electric field (MV/em)</text>
<text transform="translate(247.50,431.85) rotate(-90)" font-size="10" text-anchor="middle" font-family="Liberation Serif" font-weight="bold">Radius (nm)</text>
<text transform="translate(447.80,430.35) rotate(-90)" font-size="10" text-anchor="middle" font-family="Liberation Serif" font-weight="bold" xml:space="preserve">Degree of  switching (°)</text>
<line x1="511.00" y1="484.25" x2="643.30" y2="414.38" stroke="#f3821e" stroke-width="1.6"/>
<circle cx="511.00" cy="481.23" r="2.25" fill="#f4a476" stroke="#e0784a" stroke-width="0.8"/>
<ellipse cx="510.70" cy="481.13" rx="1.1" ry="0.6" fill="#fff" opacity="0.85"/>
<circle cx="529.90" cy="481.23" r="2.25" fill="#f4a476" stroke="#e0784a" stroke-width="0.8"/>
<ellipse cx="529.60" cy="481.13" rx="1.1" ry="0.6" fill="#fff" opacity="0.85"/>
<circle cx="548.80" cy="459.67" r="2.25" fill="#f4a476" stroke="#e0784a" stroke-width="0.8"/>
<ellipse cx="548.50" cy="459.57" rx="1.1" ry="0.6" fill="#fff" opacity="0.85"/>
<circle cx="567.70" cy="459.67" r="2.25" fill="#f4a476" stroke="#e0784a" stroke-width="0.8"/>
<ellipse cx="567.40" cy="459.57" rx="1.1" ry="0.6" fill="#fff" opacity="0.85"/>
<circle cx="586.60" cy="433.79" r="2.25" fill="#f4a476" stroke="#e0784a" stroke-width="0.8"/>
<ellipse cx="586.30" cy="433.69" rx="1.1" ry="0.6" fill="#fff" opacity="0.85"/>
<circle cx="605.50" cy="433.79" r="2.25" fill="#f4a476" stroke="#e0784a" stroke-width="0.8"/>
<ellipse cx="605.20" cy="433.69" rx="1.1" ry="0.6" fill="#fff" opacity="0.85"/>
<circle cx="624.40" cy="420.85" r="2.25" fill="#f4a476" stroke="#e0784a" stroke-width="0.8"/>
<ellipse cx="624.10" cy="420.75" rx="1.1" ry="0.6" fill="#fff" opacity="0.85"/>
<circle cx="643.30" cy="420.85" r="2.25" fill="#f4a476" stroke="#e0784a" stroke-width="0.8"/>
<ellipse cx="643.00" cy="420.75" rx="1.1" ry="0.6" fill="#fff" opacity="0.85"/>
<polygon points="511.00,380.56 511.87,382.66 514.14,382.84 512.41,384.32 512.94,386.53 511.00,385.35 509.06,386.53 509.59,384.32 507.86,382.84 510.13,382.66" fill="#f646cc"/>
<polygon points="529.90,417.48 530.77,419.58 533.04,419.76 531.31,421.24 531.84,423.45 529.90,422.26 527.96,423.45 528.49,421.24 526.76,419.76 529.03,419.58" fill="#f646cc"/>
<polygon points="548.80,417.48 549.67,419.58 551.94,419.76 550.21,421.24 550.74,423.45 548.80,422.26 546.86,423.45 547.39,421.24 545.66,419.76 547.93,419.58" fill="#f646cc"/>
<polygon points="567.70,373.18 568.57,375.28 570.84,375.46 569.11,376.94 569.64,379.15 567.70,377.97 565.76,379.15 566.29,376.94 564.56,375.46 566.83,375.28" fill="#f646cc"/>
<polygon points="586.60,373.18 587.47,375.28 589.74,375.46 588.01,376.94 588.54,379.15 586.60,377.97 584.66,379.15 585.19,376.94 583.46,375.46 585.73,375.28" fill="#f646cc"/>
<polygon points="605.50,373.18 606.37,375.28 608.64,375.46 606.91,376.94 607.44,379.15 605.50,377.97 603.56,379.15 604.09,376.94 602.36,375.46 604.63,375.28" fill="#f646cc"/>
<polygon points="624.40,373.18 625.27,375.28 627.54,375.46 625.81,376.94 626.34,379.15 624.40,377.97 622.46,379.15 622.99,376.94 621.26,375.46 623.53,375.28" fill="#f646cc"/>
<polygon points="643.30,373.18 644.17,375.28 646.44,375.46 644.71,376.94 645.24,379.15 643.30,377.97 641.36,379.15 641.89,376.94 640.16,375.46 642.43,375.28" fill="#f646cc"/>
<line x1="500.3" y1="369.1" x2="655.6" y2="369.1" stroke="#000" stroke-width="1.35"/>
<line x1="500.3" y1="494.6" x2="655.6" y2="494.6" stroke="#000" stroke-width="1.35"/>
<line x1="500.3" y1="368.40000000000003" x2="500.3" y2="495.3" stroke="#f07c52" stroke-width="1.35"/>
<line x1="655.6" y1="368.40000000000003" x2="655.6" y2="495.3" stroke="#ff4fd2" stroke-width="1.35"/>
<line x1="500.3" y1="489.86" x2="501.6" y2="489.86" stroke="#f07c52" stroke-width="0.7"/>
<line x1="500.3" y1="481.23" x2="502.6" y2="481.23" stroke="#f07c52" stroke-width="0.9"/>
<text x="497.90" y="484.43" font-size="9.2" text-anchor="end" fill="#000" font-family="Liberation Serif" font-weight="bold" >40</text>
<line x1="500.3" y1="472.61" x2="501.6" y2="472.61" stroke="#f07c52" stroke-width="0.7"/>
<line x1="500.3" y1="463.98" x2="502.6" y2="463.98" stroke="#f07c52" stroke-width="0.9"/>
<text x="497.90" y="467.18" font-size="9.2" text-anchor="end" fill="#000" font-family="Liberation Serif" font-weight="bold" >60</text>
<line x1="500.3" y1="455.35" x2="501.6" y2="455.35" stroke="#f07c52" stroke-width="0.7"/>
<line x1="500.3" y1="446.73" x2="502.6" y2="446.73" stroke="#f07c52" stroke-width="0.9"/>
<text x="497.90" y="449.93" font-size="9.2" text-anchor="end" fill="#000" font-family="Liberation Serif" font-weight="bold" >80</text>
<line x1="500.3" y1="438.10" x2="501.6" y2="438.10" stroke="#f07c52" stroke-width="0.7"/>
<line x1="500.3" y1="429.48" x2="502.6" y2="429.48" stroke="#f07c52" stroke-width="0.9"/>
<text x="497.90" y="432.68" font-size="9.2" text-anchor="end" fill="#000" font-family="Liberation Serif" font-weight="bold" >100</text>
<line x1="500.3" y1="420.85" x2="501.6" y2="420.85" stroke="#f07c52" stroke-width="0.7"/>
<line x1="500.3" y1="412.23" x2="502.6" y2="412.23" stroke="#f07c52" stroke-width="0.9"/>
<text x="497.90" y="415.43" font-size="9.2" text-anchor="end" fill="#000" font-family="Liberation Serif" font-weight="bold" >120</text>
<line x1="500.3" y1="403.60" x2="501.6" y2="403.60" stroke="#f07c52" stroke-width="0.7"/>
<line x1="500.3" y1="394.98" x2="502.6" y2="394.98" stroke="#f07c52" stroke-width="0.9"/>
<text x="497.90" y="398.18" font-size="9.2" text-anchor="end" fill="#000" font-family="Liberation Serif" font-weight="bold" >140</text>
<line x1="500.3" y1="386.35" x2="501.6" y2="386.35" stroke="#f07c52" stroke-width="0.7"/>
<line x1="500.3" y1="377.73" x2="502.6" y2="377.73" stroke="#f07c52" stroke-width="0.9"/>
<text x="497.90" y="380.93" font-size="9.2" text-anchor="end" fill="#000" font-family="Liberation Serif" font-weight="bold" >160</text>
<line x1="500.3" y1="369.10" x2="501.6" y2="369.10" stroke="#f07c52" stroke-width="0.7"/>
<line x1="655.6" y1="494.60" x2="653.3000000000001" y2="494.60" stroke="#ff4fd2" stroke-width="0.9"/>
<text x="658.40" y="497.80" font-size="9.2" text-anchor="start" fill="#000" font-family="Liberation Serif" font-weight="bold" >0</text>
<line x1="655.6" y1="485.37" x2="654.3000000000001" y2="485.37" stroke="#ff4fd2" stroke-width="0.7"/>
<line x1="655.6" y1="476.14" x2="653.3000000000001" y2="476.14" stroke="#ff4fd2" stroke-width="0.9"/>
<text x="658.40" y="479.34" font-size="9.2" text-anchor="start" fill="#000" font-family="Liberation Serif" font-weight="bold" >25</text>
<line x1="655.6" y1="466.92" x2="654.3000000000001" y2="466.92" stroke="#ff4fd2" stroke-width="0.7"/>
<line x1="655.6" y1="457.69" x2="653.3000000000001" y2="457.69" stroke="#ff4fd2" stroke-width="0.9"/>
<text x="658.40" y="460.89" font-size="9.2" text-anchor="start" fill="#000" font-family="Liberation Serif" font-weight="bold" >50</text>
<line x1="655.6" y1="448.46" x2="654.3000000000001" y2="448.46" stroke="#ff4fd2" stroke-width="0.7"/>
<line x1="655.6" y1="439.23" x2="653.3000000000001" y2="439.23" stroke="#ff4fd2" stroke-width="0.9"/>
<text x="658.40" y="442.43" font-size="9.2" text-anchor="start" fill="#000" font-family="Liberation Serif" font-weight="bold" >75</text>
<line x1="655.6" y1="430.00" x2="654.3000000000001" y2="430.00" stroke="#ff4fd2" stroke-width="0.7"/>
<line x1="655.6" y1="420.78" x2="653.3000000000001" y2="420.78" stroke="#ff4fd2" stroke-width="0.9"/>
<text x="658.40" y="423.98" font-size="9.2" text-anchor="start" fill="#000" font-family="Liberation Serif" font-weight="bold" >100</text>
<line x1="655.6" y1="411.55" x2="654.3000000000001" y2="411.55" stroke="#ff4fd2" stroke-width="0.7"/>
<line x1="655.6" y1="402.32" x2="653.3000000000001" y2="402.32" stroke="#ff4fd2" stroke-width="0.9"/>
<text x="658.40" y="405.52" font-size="9.2" text-anchor="start" fill="#000" font-family="Liberation Serif" font-weight="bold" >125</text>
<line x1="655.6" y1="393.09" x2="654.3000000000001" y2="393.09" stroke="#ff4fd2" stroke-width="0.7"/>
<line x1="655.6" y1="383.86" x2="653.3000000000001" y2="383.86" stroke="#ff4fd2" stroke-width="0.9"/>
<text x="658.40" y="387.06" font-size="9.2" text-anchor="start" fill="#000" font-family="Liberation Serif" font-weight="bold" >150</text>
<line x1="655.6" y1="374.64" x2="654.3000000000001" y2="374.64" stroke="#ff4fd2" stroke-width="0.7"/>
<line x1="514.50" y1="494.6" x2="514.50" y2="492.3" stroke="#000" stroke-width="0.9"/>
<text x="514.50" y="504.60" font-size="9.2" text-anchor="middle" fill="#000" font-family="Liberation Serif" font-weight="bold" >-1.1</text>
<line x1="542.72" y1="494.6" x2="542.72" y2="492.3" stroke="#000" stroke-width="0.9"/>
<text x="542.72" y="504.60" font-size="9.2" text-anchor="middle" fill="#000" font-family="Liberation Serif" font-weight="bold" >-1.2</text>
<line x1="570.94" y1="494.6" x2="570.94" y2="492.3" stroke="#000" stroke-width="0.9"/>
<text x="570.94" y="504.60" font-size="9.2" text-anchor="middle" fill="#000" font-family="Liberation Serif" font-weight="bold" >-1.3</text>
<line x1="599.16" y1="494.6" x2="599.16" y2="492.3" stroke="#000" stroke-width="0.9"/>
<text x="599.16" y="504.60" font-size="9.2" text-anchor="middle" fill="#000" font-family="Liberation Serif" font-weight="bold" >-1.4</text>
<line x1="627.38" y1="494.6" x2="627.38" y2="492.3" stroke="#000" stroke-width="0.9"/>
<text x="627.38" y="504.60" font-size="9.2" text-anchor="middle" fill="#000" font-family="Liberation Serif" font-weight="bold" >-1.5</text>
<line x1="655.60" y1="494.6" x2="655.60" y2="492.3" stroke="#000" stroke-width="0.9"/>
<text x="655.60" y="504.60" font-size="9.2" text-anchor="middle" fill="#000" font-family="Liberation Serif" font-weight="bold" >-1.6</text>
<line x1="528.61" y1="494.6" x2="528.61" y2="493.3" stroke="#000" stroke-width="0.7"/>
<line x1="556.83" y1="494.6" x2="556.83" y2="493.3" stroke="#000" stroke-width="0.7"/>
<line x1="585.05" y1="494.6" x2="585.05" y2="493.3" stroke="#000" stroke-width="0.7"/>
<line x1="613.27" y1="494.6" x2="613.27" y2="493.3" stroke="#000" stroke-width="0.7"/>
<line x1="641.49" y1="494.6" x2="641.49" y2="493.3" stroke="#000" stroke-width="0.7"/>
<text x="577.95" y="519.20" font-size="10" text-anchor="middle" fill="#000" font-family="Liberation Serif" font-weight="bold" >Electric field (MV/cm)</text>
<text transform="translate(481.10,431.85) rotate(-90)" font-size="10" text-anchor="middle" font-family="Liberation Serif" font-weight="bold">Radius (nm)</text>
<text transform="translate(681.40,430.35) rotate(-90)" font-size="10" text-anchor="middle" font-family="Liberation Serif" font-weight="bold" xml:space="preserve">Degree of  switching (°)</text>
<rect x="31.00" y="526.20" width="152.60" height="152.10" fill="#d3d844" />
<g opacity="0.4">
<rect x="31.00" y="526.20" width="152.60" height="152.10" fill="#000" filter="url(#aL)" />
<rect x="31.00" y="526.20" width="152.60" height="152.10" fill="#000" filter="url(#aD)" />
</g>
<rect x="31.00" y="526.20" width="152.60" height="152.10" fill="#000" filter="url(#aG)" />
<circle cx="56.0" cy="543.3" r="3.4" fill="#c8902e" opacity="0.55" filter="url(#soft)"/>
<circle cx="90.4" cy="543.3" r="3.4" fill="#c8902e" opacity="0.55" filter="url(#soft)"/>
<circle cx="127.9" cy="543.3" r="3.4" fill="#c8902e" opacity="0.55" filter="url(#soft)"/>
<circle cx="163.0" cy="543.3" r="3.8" fill="#c8902e" opacity="0.55" filter="url(#soft)"/>
<circle cx="56.0" cy="580.0" r="2.8" fill="#c8902e" opacity="0.55" filter="url(#soft)"/>
<circle cx="90.4" cy="580.0" r="3.0" fill="#c8902e" opacity="0.55" filter="url(#soft)"/>
<circle cx="127.9" cy="580.0" r="2.8" fill="#c8902e" opacity="0.55" filter="url(#soft)"/>
<circle cx="163.0" cy="580.0" r="3.0" fill="#c8902e" opacity="0.55" filter="url(#soft)"/>
<circle cx="164.5" cy="614.0" r="2.0" fill="#c8902e" opacity="0.55" filter="url(#soft)"/>
<rect x="31.30" y="526.50" width="152.00" height="151.50" fill="none" stroke="#55583a" stroke-width="0.7"/>
<circle cx="164.7" cy="614.4" r="15" fill="none" stroke="#f21c1c" stroke-width="1.35" stroke-dasharray="3.4 2.1"/>
<rect x="135.60" y="661.50" width="43.80" height="3.2" fill="#fff" stroke="#333" stroke-width="1.0"/>
<text x="157.50" y="671.60" font-size="8.6" text-anchor="middle" fill="#f4f4f4" font-family="Liberation Sans" font-weight="bold" stroke="#2a2a2a" stroke-width="2.3" paint-order="stroke" stroke-linejoin="round">1μm</text>
<text x="115.40" y="629.80" font-size="12.2" text-anchor="start" fill="#000" font-family="Liberation Serif" font-weight="bold" textLength="29" lengthAdjust="spacingAndGlyphs">0.52 s</text>
<text x="33.30" y="674.80" font-size="12.2" text-anchor="start" fill="#000" font-family="Liberation Serif" font-weight="bold" textLength="103.3" lengthAdjust="spacingAndGlyphs">0.1~1 s,-1.56 MVcm</text>
<rect x="188.5" y="546.1" width="17.4" height="127.89999999999998" fill="url(#acb188_546)" stroke="#666" stroke-width="0.6"/>
<text x="197.50" y="553.30" font-size="8.6" text-anchor="middle" fill="#222" font-family="Liberation Sans" >180</text>
<text x="197.50" y="613.15" font-size="8.6" text-anchor="middle" fill="#fff" font-family="Liberation Sans" >90.0</text>
<text x="197.50" y="672.70" font-size="8.6" text-anchor="middle" fill="#fff" font-family="Liberation Sans" >0.00</text>
<circle cx="196.7" cy="535.9" r="1.0" fill="none" stroke="#777" stroke-width="0.55"/>
<rect x="265.30" y="526.20" width="152.30" height="152.10" fill="#e4ea6c" />
<g opacity="0.65">
<rect x="265.30" y="526.20" width="152.30" height="152.10" fill="#000" filter="url(#aL)" />
<rect x="265.30" y="526.20" width="152.30" height="152.10" fill="#000" filter="url(#aD)" />
</g>
<rect x="265.30" y="526.20" width="152.30" height="152.10" fill="#000" filter="url(#aG)" />
<rect x="319.2" y="551.8" width="1" height="1.5" fill="#b86a2c" opacity="0.85"/>
<rect x="316.6" y="549.7" width="1" height="1.5" fill="#c89040" opacity="0.85"/>
<rect x="316.2" y="550.9" width="1.5" height="1" fill="#b86a2c" opacity="0.85"/>
<rect x="318.3" y="549.5" width="2" height="1" fill="#c89040" opacity="0.85"/>
<rect x="316.8" y="551.0" width="2" height="1" fill="#a85a28" opacity="0.85"/>
<rect x="312.9" y="551.9" width="2" height="1.5" fill="#c07a34" opacity="0.85"/>
<rect x="356.4" y="624.8" width="2" height="1" fill="#c07a34" opacity="0.85"/>
<rect x="350.8" y="622.9" width="1.5" height="1.5" fill="#c89040" opacity="0.85"/>
<rect x="352.5" y="624.1" width="1" height="2" fill="#c07a34" opacity="0.85"/>
<rect x="352.3" y="604.2" width="1" height="1" fill="#c89040" opacity="0.85"/>
<rect x="353.5" y="607.7" width="1.5" height="1.5" fill="#b86a2c" opacity="0.85"/>
<rect x="353.3" y="605.8" width="2" height="2" fill="#a85a28" opacity="0.85"/>
<rect x="351.4" y="602.8" width="1" height="1" fill="#f8f8e0"/>
<rect x="352.8" y="605.1" width="1" height="1" fill="#201818"/>
<rect x="410.7" y="599.8" width="1.5" height="2" fill="#c89040" opacity="0.85"/>
<rect x="406.9" y="600.5" width="2" height="1.5" fill="#b86a2c" opacity="0.85"/>
<rect x="409.3" y="597.7" width="2" height="1" fill="#c89040" opacity="0.85"/>
<rect x="410.9" y="599.8" width="1" height="2" fill="#c07a34" opacity="0.85"/>
<rect x="403.5" y="601.3" width="1.5" height="1" fill="#c07a34" opacity="0.85"/>
<rect x="404.8" y="599.3" width="1" height="1.5" fill="#a85a28" opacity="0.85"/>
<rect x="411.2" y="598.1" width="1" height="1" fill="#302030"/>
<rect x="408.8" y="598.0" width="1" height="1" fill="#201818"/>
<rect x="409.5" y="601.4" width="1" height="1" fill="#201818"/>
<rect x="339.0" y="616.7" width="2" height="1.5" fill="#a85a28" opacity="0.85"/>
<rect x="342.4" y="614.5" width="2" height="2" fill="#b86a2c" opacity="0.85"/>
<rect x="334.9" y="616.6" width="2" height="2" fill="#c89040" opacity="0.85"/>
<rect x="338.3" y="616.1" width="1" height="1" fill="#f8f8e0"/>
<rect x="337.9" y="616.4" width="1" height="1" fill="#201818"/>
<rect x="338.1" y="615.9" width="1" height="1" fill="#f8f8e0"/>
<rect x="269.9" y="527.0" width="2" height="1" fill="#b86a2c" opacity="0.85"/>
<rect x="277.2" y="526.7" width="1" height="2" fill="#a85a28" opacity="0.85"/>
<rect x="272.8" y="526.7" width="1" height="1" fill="#201818"/>
<rect x="279.7" y="526.7" width="1" height="1" fill="#302030"/>
<rect x="340.2" y="575.6" width="1.5" height="1.5" fill="#c07a34" opacity="0.85"/>
<rect x="337.1" y="574.2" width="2" height="1.5" fill="#c07a34" opacity="0.85"/>
<rect x="382.0" y="569.8" width="1.5" height="2" fill="#a85a28" opacity="0.85"/>
<rect x="381.5" y="571.2" width="1" height="2" fill="#a85a28" opacity="0.85"/>
<rect x="377.7" y="570.1" width="1" height="1" fill="#c89040" opacity="0.85"/>
<rect x="379.6" y="570.8" width="2" height="1.5" fill="#a85a28" opacity="0.85"/>
<rect x="378.9" y="565.7" width="1.5" height="1.5" fill="#a85a28" opacity="0.85"/>
<rect x="380.8" y="575.2" width="1.5" height="1.5" fill="#a85a28" opacity="0.85"/>
<rect x="380.7" y="572.9" width="1" height="1" fill="#302030"/>
<rect x="380.3" y="573.9" width="1" height="1" fill="#f8f8e0"/>
<rect x="410.2" y="619.0" width="2" height="1" fill="#b86a2c" opacity="0.85"/>
<rect x="414.3" y="614.5" width="1" height="1" fill="#302030"/>
<rect x="415.5" y="616.9" width="1" height="1" fill="#f8f8e0"/>
<rect x="411.2" y="622.5" width="1" height="1" fill="#f8f8e0"/>
<rect x="325.8" y="586.3" width="1" height="1" fill="#c07a34" opacity="0.85"/>
<rect x="326.5" y="586.3" width="1" height="1" fill="#f8f8e0"/>
<rect x="329.6" y="587.2" width="1" height="1" fill="#302030"/>
<rect x="327.8" y="590.3" width="1" height="1" fill="#201818"/>
<rect x="272.3" y="674.2" width="1" height="1.5" fill="#c07a34" opacity="0.85"/>
<rect x="270.1" y="670.6" width="1.5" height="1" fill="#a85a28" opacity="0.85"/>
<rect x="265.8" y="672.0" width="1.5" height="1.5" fill="#c89040" opacity="0.85"/>
<rect x="269.8" y="671.3" width="2" height="1.5" fill="#c89040" opacity="0.85"/>
<rect x="267.3" y="668.5" width="2" height="1.5" fill="#c07a34" opacity="0.85"/>
<rect x="266.8" y="671.5" width="1" height="1.5" fill="#c07a34" opacity="0.85"/>
<rect x="378.9" y="551.0" width="2" height="1" fill="#a85a28" opacity="0.85"/>
<rect x="381.3" y="547.9" width="1.5" height="1" fill="#b86a2c" opacity="0.85"/>
<rect x="382.7" y="551.1" width="1" height="1" fill="#201818"/>
<rect x="339.8" y="612.4" width="2" height="2" fill="#c07a34" opacity="0.85"/>
<rect x="339.6" y="612.3" width="1" height="1" fill="#302030"/>
<rect x="340.7" y="611.3" width="1" height="1" fill="#f8f8e0"/>
<rect x="401.4" y="665.6" width="1" height="1.5" fill="#c07a34" opacity="0.85"/>
<rect x="395.4" y="668.8" width="1.5" height="1" fill="#c07a34" opacity="0.85"/>
<rect x="395.9" y="668.4" width="1.5" height="1" fill="#c07a34" opacity="0.85"/>
<rect x="400.5" y="671.8" width="1" height="1" fill="#302030"/>
<rect x="398.5" y="673.8" width="1" height="1" fill="#302030"/>
<rect x="399.2" y="551.2" width="1.5" height="2" fill="#c89040" opacity="0.85"/>
<rect x="397.8" y="553.5" width="1.5" height="1" fill="#a85a28" opacity="0.85"/>
<rect x="401.3" y="552.7" width="1.5" height="2" fill="#b86a2c" opacity="0.85"/>
<rect x="396.6" y="554.1" width="1.5" height="2" fill="#b86a2c" opacity="0.85"/>
<rect x="402.3" y="555.5" width="1" height="1" fill="#b86a2c" opacity="0.85"/>
<rect x="398.5" y="552.9" width="1" height="1.5" fill="#c07a34" opacity="0.85"/>
<rect x="400.7" y="549.3" width="1" height="1" fill="#302030"/>
<rect x="396.0" y="554.0" width="1" height="1" fill="#f8f8e0"/>
<rect x="395.0" y="550.6" width="1" height="1" fill="#201818"/>
<rect x="307.9" y="647.0" width="1" height="2" fill="#b86a2c" opacity="0.85"/>
<rect x="309.0" y="645.7" width="1" height="1" fill="#a85a28" opacity="0.85"/>
<rect x="330.3" y="580.8" width="2" height="1" fill="#b86a2c" opacity="0.85"/>
<rect x="333.0" y="578.2" width="1" height="1" fill="#a85a28" opacity="0.85"/>
<rect x="336.0" y="578.9" width="1.5" height="2" fill="#a85a28" opacity="0.85"/>
<rect x="333.1" y="578.1" width="1.5" height="2" fill="#c07a34" opacity="0.85"/>
<rect x="334.1" y="582.4" width="1.5" height="1" fill="#b86a2c" opacity="0.85"/>
<rect x="374.4" y="609.7" width="1.5" height="1" fill="#c89040" opacity="0.85"/>
<rect x="374.5" y="607.5" width="1.5" height="2" fill="#a85a28" opacity="0.85"/>
<rect x="378.3" y="609.6" width="1" height="1" fill="#f8f8e0"/>
<rect x="379.6" y="548.4" width="1" height="1" fill="#a85a28" opacity="0.85"/>
<rect x="374.7" y="549.2" width="2" height="1.5" fill="#a85a28" opacity="0.85"/>
<rect x="372.6" y="546.9" width="1" height="1.5" fill="#c07a34" opacity="0.85"/>
<rect x="375.4" y="549.1" width="1" height="1" fill="#302030"/>
<rect x="409.7" y="672.8" width="1.5" height="1" fill="#a85a28" opacity="0.85"/>
<rect x="410.7" y="674.1" width="1" height="1.5" fill="#a85a28" opacity="0.85"/>
<rect x="408.5" y="672.2" width="2" height="1" fill="#b86a2c" opacity="0.85"/>
<rect x="409.8" y="673.2" width="1.5" height="2" fill="#b86a2c" opacity="0.85"/>
<rect x="408.5" y="673.4" width="2" height="1" fill="#b86a2c" opacity="0.85"/>
<rect x="407.8" y="668.9" width="1" height="1" fill="#f8f8e0"/>
<rect x="327.2" y="579.4" width="2" height="1" fill="#b86a2c" opacity="0.85"/>
<rect x="326.6" y="573.4" width="2" height="2" fill="#c89040" opacity="0.85"/>
<rect x="324.7" y="572.5" width="1" height="2" fill="#b86a2c" opacity="0.85"/>
<rect x="326.4" y="573.9" width="2" height="2" fill="#c07a34" opacity="0.85"/>
<rect x="274.0" y="547.4" width="1.5" height="2" fill="#b86a2c" opacity="0.85"/>
<rect x="269.8" y="545.7" width="2" height="1" fill="#c89040" opacity="0.85"/>
<rect x="271.7" y="550.3" width="1" height="2" fill="#b86a2c" opacity="0.85"/>
<rect x="378.8" y="597.1" width="1" height="1" fill="#c89040" opacity="0.85"/>
<rect x="378.5" y="597.6" width="1" height="1" fill="#f8f8e0"/>
<rect x="377.7" y="599.1" width="1" height="1" fill="#f8f8e0"/>
<rect x="377.3" y="597.6" width="1" height="1" fill="#201818"/>
<rect x="315.5" y="627.4" width="1" height="1.5" fill="#b86a2c" opacity="0.85"/>
<rect x="310.6" y="625.2" width="1" height="2" fill="#c07a34" opacity="0.85"/>
<rect x="315.7" y="623.1" width="2" height="1.5" fill="#c89040" opacity="0.85"/>
<rect x="312.8" y="625.5" width="2" height="1" fill="#a85a28" opacity="0.85"/>
<rect x="321.6" y="624.0" width="1" height="1.5" fill="#c89040" opacity="0.85"/>
<rect x="318.8" y="625.9" width="1.5" height="1.5" fill="#c89040" opacity="0.85"/>
<rect x="321.5" y="621.8" width="1" height="1" fill="#201818"/>
<rect x="353.4" y="551.3" width="2" height="2" fill="#a85a28" opacity="0.85"/>
<rect x="356.1" y="547.0" width="1" height="1.5" fill="#c89040" opacity="0.85"/>
<rect x="352.5" y="550.0" width="1.5" height="2" fill="#c89040" opacity="0.85"/>
<rect x="350.6" y="551.2" width="1.5" height="1.5" fill="#c89040" opacity="0.85"/>
<rect x="351.8" y="553.0" width="1" height="1.5" fill="#a85a28" opacity="0.85"/>
<rect x="357.7" y="553.1" width="1" height="1" fill="#f8f8e0"/>
<rect x="357.6" y="549.5" width="1" height="1" fill="#302030"/>
<rect x="351.8" y="551.0" width="1" height="1" fill="#f8f8e0"/>
<rect x="279.7" y="663.8" width="1" height="2" fill="#a85a28" opacity="0.85"/>
<rect x="277.8" y="664.3" width="1.5" height="1.5" fill="#a85a28" opacity="0.85"/>
<rect x="279.4" y="667.2" width="1.5" height="1" fill="#c89040" opacity="0.85"/>
<rect x="278.5" y="664.5" width="1" height="1" fill="#f8f8e0"/>
<rect x="327.1" y="617.8" width="1" height="2" fill="#c07a34" opacity="0.85"/>
<rect x="329.3" y="621.3" width="1.5" height="1.5" fill="#a85a28" opacity="0.85"/>
<rect x="326.7" y="620.3" width="1" height="1" fill="#302030"/>
<rect x="325.9" y="618.4" width="1" height="1" fill="#201818"/>
<rect x="364.8" y="537.9" width="1" height="1.5" fill="#a85a28" opacity="0.85"/>
<rect x="365.1" y="539.3" width="1" height="2" fill="#c07a34" opacity="0.85"/>
<rect x="362.7" y="540.7" width="2" height="1" fill="#a85a28" opacity="0.85"/>
<rect x="362.8" y="541.0" width="2" height="1" fill="#b86a2c" opacity="0.85"/>
<rect x="362.7" y="537.1" width="1.5" height="2" fill="#c07a34" opacity="0.85"/>
<rect x="362.2" y="543.5" width="1" height="1" fill="#302030"/>
<rect x="361.6" y="545.8" width="1" height="1" fill="#201818"/>
<rect x="361.5" y="536.5" width="1" height="1" fill="#201818"/>
<rect x="279.1" y="662.4" width="1.5" height="1" fill="#c07a34" opacity="0.85"/>
<rect x="284.4" y="661.7" width="1.5" height="2" fill="#c89040" opacity="0.85"/>
<rect x="283.2" y="661.0" width="2" height="1.5" fill="#c89040" opacity="0.85"/>
<rect x="281.0" y="662.1" width="1" height="1" fill="#b86a2c" opacity="0.85"/>
<rect x="284.8" y="663.2" width="1" height="1" fill="#201818"/>
<rect x="281.4" y="659.2" width="1" height="1" fill="#201818"/>
<rect x="279.7" y="659.3" width="1" height="1" fill="#201818"/>
<rect x="359.9" y="605.4" width="1" height="1.5" fill="#c07a34" opacity="0.85"/>
<rect x="359.0" y="607.4" width="2" height="1" fill="#b86a2c" opacity="0.85"/>
<rect x="353.0" y="604.7" width="1.5" height="1.5" fill="#c07a34" opacity="0.85"/>
<rect x="358.6" y="606.7" width="1" height="1" fill="#c89040" opacity="0.85"/>
<rect x="361.8" y="607.0" width="1" height="1" fill="#f8f8e0"/>
<rect x="359.6" y="605.6" width="1" height="1" fill="#201818"/>
<rect x="362.9" y="665.4" width="2" height="1.5" fill="#a85a28" opacity="0.85"/>
<rect x="365.7" y="663.9" width="1.5" height="2" fill="#b86a2c" opacity="0.85"/>
<rect x="364.6" y="665.3" width="1" height="1" fill="#201818"/>
<rect x="303.9" y="562.9" width="2" height="1" fill="#c07a34" opacity="0.85"/>
<rect x="296.7" y="561.4" width="1" height="2" fill="#c07a34" opacity="0.85"/>
<rect x="302.2" y="560.6" width="1" height="2" fill="#c07a34" opacity="0.85"/>
<rect x="302.4" y="561.3" width="1" height="1" fill="#302030"/>
<rect x="297.8" y="562.2" width="1" height="1" fill="#302030"/>
<rect x="300.6" y="552.4" width="1" height="1" fill="#201818"/>
<rect x="316.1" y="555.1" width="2" height="2" fill="#c89040" opacity="0.85"/>
<rect x="319.5" y="550.3" width="1.5" height="1" fill="#b86a2c" opacity="0.85"/>
<rect x="317.9" y="555.7" width="1.5" height="1.5" fill="#b86a2c" opacity="0.85"/>
<rect x="312.7" y="554.3" width="1.5" height="1.5" fill="#a85a28" opacity="0.85"/>
<rect x="317.2" y="553.6" width="1" height="2" fill="#c89040" opacity="0.85"/>
<rect x="312.2" y="559.7" width="1" height="1" fill="#201818"/>
<rect x="317.5" y="637.8" width="2" height="1.5" fill="#b86a2c" opacity="0.85"/>
<rect x="313.5" y="639.1" width="1" height="1.5" fill="#c07a34" opacity="0.85"/>
<rect x="315.2" y="632.7" width="1.5" height="1.5" fill="#a85a28" opacity="0.85"/>
<rect x="312.5" y="642.1" width="1" height="1.5" fill="#a85a28" opacity="0.85"/>
<rect x="314.1" y="641.2" width="1" height="1" fill="#f8f8e0"/>
<rect x="318.3" y="635.6" width="1" height="1" fill="#201818"/>
<rect x="270.4" y="560.4" width="1.5" height="1.5" fill="#c89040" opacity="0.85"/>
<rect x="271.4" y="561.8" width="1.5" height="1" fill="#b86a2c" opacity="0.85"/>
<rect x="272.1" y="559.4" width="2" height="1" fill="#c07a34" opacity="0.85"/>
<rect x="270.0" y="564.5" width="1.5" height="2" fill="#b86a2c" opacity="0.85"/>
<rect x="269.8" y="563.8" width="1" height="1" fill="#302030"/>
<rect x="275.6" y="532.9" width="1.5" height="1" fill="#b86a2c" opacity="0.85"/>
<rect x="276.8" y="534.1" width="1" height="1.5" fill="#c89040" opacity="0.85"/>
<rect x="282.8" y="532.8" width="1" height="1" fill="#c07a34" opacity="0.85"/>
<rect x="274.2" y="534.7" width="2" height="1" fill="#b86a2c" opacity="0.85"/>
<rect x="277.2" y="531.4" width="1.5" height="2" fill="#a85a28" opacity="0.85"/>
<rect x="276.9" y="535.2" width="1" height="1" fill="#302030"/>
<rect x="276.9" y="535.1" width="1" height="1" fill="#201818"/>
<rect x="308.0" y="664.6" width="1" height="2" fill="#c07a34" opacity="0.85"/>
<rect x="308.4" y="661.8" width="1.5" height="1" fill="#b86a2c" opacity="0.85"/>
<rect x="338.2" y="649.2" width="1.5" height="1" fill="#b86a2c" opacity="0.85"/>
<rect x="340.5" y="650.4" width="2" height="1" fill="#b86a2c" opacity="0.85"/>
<rect x="334.6" y="652.7" width="1.5" height="2" fill="#a85a28" opacity="0.85"/>
<rect x="338.2" y="646.3" width="1" height="1" fill="#a85a28" opacity="0.85"/>
<rect x="339.9" y="650.0" width="1" height="1" fill="#201818"/>
<rect x="297.0" y="561.1" width="1" height="1.5" fill="#c89040" opacity="0.85"/>
<rect x="296.9" y="564.7" width="1.5" height="1" fill="#c07a34" opacity="0.85"/>
<rect x="300.1" y="566.5" width="1.5" height="1" fill="#c89040" opacity="0.85"/>
<rect x="299.3" y="567.3" width="2" height="1" fill="#b86a2c" opacity="0.85"/>
<rect x="296.3" y="564.1" width="1.5" height="1.5" fill="#a85a28" opacity="0.85"/>
<rect x="296.8" y="566.4" width="1" height="1" fill="#f8f8e0"/>
<rect x="295.4" y="565.0" width="1" height="1" fill="#302030"/>
<rect x="268.7" y="640.0" width="1.5" height="1" fill="#b86a2c" opacity="0.85"/>
<rect x="268.8" y="642.3" width="1" height="1" fill="#c89040" opacity="0.85"/>
<rect x="268.2" y="640.8" width="1" height="1" fill="#b86a2c" opacity="0.85"/>
<rect x="351.7" y="624.7" width="1.5" height="2" fill="#c07a34" opacity="0.85"/>
<rect x="350.2" y="624.5" width="2" height="1" fill="#b86a2c" opacity="0.85"/>
<rect x="351.1" y="624.7" width="1" height="1.5" fill="#c07a34" opacity="0.85"/>
<rect x="349.4" y="622.5" width="1.5" height="1.5" fill="#b86a2c" opacity="0.85"/>
<rect x="352.5" y="625.1" width="1" height="1" fill="#f8f8e0"/>
<rect x="349.8" y="621.8" width="1" height="1" fill="#201818"/>
<rect x="346.6" y="620.7" width="1" height="1" fill="#201818"/>
<rect x="395.3" y="556.6" width="1" height="1.5" fill="#a85a28" opacity="0.85"/>
<rect x="391.5" y="556.5" width="2" height="1" fill="#b86a2c" opacity="0.85"/>
<rect x="364.1" y="574.6" width="2" height="1.5" fill="#c89040" opacity="0.85"/>
<rect x="365.8" y="577.8" width="1.5" height="2" fill="#a85a28" opacity="0.85"/>
<rect x="364.1" y="577.0" width="1" height="1" fill="#c89040" opacity="0.85"/>
<rect x="364.0" y="576.7" width="2" height="1.5" fill="#c07a34" opacity="0.85"/>
<rect x="365.6" y="576.8" width="1" height="1" fill="#302030"/>
<rect x="365.4" y="576.7" width="1" height="1" fill="#302030"/>
<rect x="362.7" y="576.1" width="1" height="1" fill="#201818"/>
<rect x="360.3" y="543.6" width="1" height="1" fill="#c89040" opacity="0.85"/>
<rect x="359.5" y="537.2" width="1" height="1" fill="#b86a2c" opacity="0.85"/>
<rect x="363.8" y="546.2" width="1.5" height="1.5" fill="#c07a34" opacity="0.85"/>
<rect x="360.3" y="537.1" width="1" height="1" fill="#a85a28" opacity="0.85"/>
<rect x="360.4" y="539.3" width="1.5" height="2" fill="#a85a28" opacity="0.85"/>
<rect x="363.7" y="539.0" width="1.5" height="2" fill="#c89040" opacity="0.85"/>
<rect x="358.8" y="538.5" width="1" height="1" fill="#201818"/>
<rect x="312.0" y="535.4" width="1.5" height="2" fill="#a85a28" opacity="0.85"/>
<rect x="315.7" y="532.8" width="1.5" height="1" fill="#b86a2c" opacity="0.85"/>
<rect x="317.3" y="533.1" width="1" height="1" fill="#f8f8e0"/>
<rect x="310.1" y="531.2" width="1" height="1" fill="#201818"/>
<rect x="304.5" y="605.4" width="1.5" height="1.5" fill="#c07a34" opacity="0.85"/>
<rect x="302.3" y="610.4" width="1.5" height="1" fill="#c07a34" opacity="0.85"/>
<rect x="300.5" y="603.9" width="1.5" height="2" fill="#a85a28" opacity="0.85"/>
<rect x="302.6" y="612.9" width="2" height="2" fill="#a85a28" opacity="0.85"/>
<rect x="376.4" y="559.5" width="2" height="1.5" fill="#b86a2c" opacity="0.85"/>
<rect x="379.2" y="562.2" width="2" height="1" fill="#b86a2c" opacity="0.85"/>
<rect x="380.8" y="562.0" width="1.5" height="1" fill="#a85a28" opacity="0.85"/>
<rect x="376.3" y="562.1" width="1" height="1" fill="#201818"/>
<rect x="297.8" y="620.9" width="1" height="2" fill="#c07a34" opacity="0.85"/>
<rect x="296.8" y="620.8" width="1" height="2" fill="#a85a28" opacity="0.85"/>
<rect x="296.2" y="621.6" width="1" height="1" fill="#a85a28" opacity="0.85"/>
<rect x="295.2" y="619.0" width="2" height="2" fill="#c89040" opacity="0.85"/>
<rect x="297.6" y="620.7" width="1" height="1" fill="#201818"/>
<rect x="348.7" y="592.4" width="1" height="1" fill="#c07a34" opacity="0.85"/>
<rect x="347.0" y="589.5" width="2" height="2" fill="#c89040" opacity="0.85"/>
<rect x="345.2" y="588.3" width="1" height="1" fill="#f8f8e0"/>
<rect x="274.4" y="659.7" width="1.5" height="2" fill="#c89040" opacity="0.85"/>
<rect x="277.3" y="661.5" width="1" height="1" fill="#b86a2c" opacity="0.85"/>
<rect x="274.3" y="663.1" width="1" height="1.5" fill="#a85a28" opacity="0.85"/>
<rect x="274.1" y="658.2" width="2" height="2" fill="#c89040" opacity="0.85"/>
<rect x="272.9" y="665.4" width="1" height="1" fill="#201818"/>
<rect x="277.0" y="661.4" width="1" height="1" fill="#201818"/>
<rect x="306.3" y="564.4" width="1.5" height="1" fill="#c89040" opacity="0.85"/>
<rect x="305.1" y="564.6" width="2" height="2" fill="#c89040" opacity="0.85"/>
<rect x="303.2" y="563.6" width="1" height="1" fill="#c89040" opacity="0.85"/>
<rect x="307.5" y="562.7" width="1.5" height="1" fill="#c89040" opacity="0.85"/>
<rect x="305.3" y="562.6" width="1" height="1" fill="#b86a2c" opacity="0.85"/>
<rect x="306.9" y="563.3" width="1" height="1.5" fill="#c07a34" opacity="0.85"/>
<rect x="269.6" y="546.2" width="2" height="1" fill="#b86a2c" opacity="0.85"/>
<rect x="274.2" y="545.8" width="1" height="2" fill="#b86a2c" opacity="0.85"/>
<rect x="274.6" y="546.2" width="2" height="1.5" fill="#b86a2c" opacity="0.85"/>
<rect x="271.9" y="550.2" width="1" height="1" fill="#b86a2c" opacity="0.85"/>
<rect x="273.3" y="545.9" width="1.5" height="1.5" fill="#b86a2c" opacity="0.85"/>
<rect x="274.5" y="551.6" width="2" height="1" fill="#a85a28" opacity="0.85"/>
<rect x="270.9" y="550.4" width="1" height="1" fill="#302030"/>
<rect x="271.8" y="550.7" width="1" height="1" fill="#f8f8e0"/>
<rect x="375.7" y="662.9" width="2" height="2" fill="#b86a2c" opacity="0.85"/>
<rect x="380.1" y="662.5" width="2" height="1" fill="#a85a28" opacity="0.85"/>
<rect x="379.3" y="663.2" width="2" height="1" fill="#b86a2c" opacity="0.85"/>
<rect x="378.4" y="662.2" width="1.5" height="1" fill="#c07a34" opacity="0.85"/>
<rect x="379.1" y="666.6" width="1" height="1" fill="#a85a28" opacity="0.85"/>
<rect x="383.2" y="665.2" width="1" height="1" fill="#201818"/>
<rect x="383.3" y="662.3" width="1" height="1" fill="#f8f8e0"/>
<rect x="379.6" y="669.0" width="1" height="1" fill="#302030"/>
<rect x="387.1" y="667.2" width="2" height="1" fill="#c89040" opacity="0.85"/>
<rect x="389.0" y="663.9" width="1" height="2" fill="#a85a28" opacity="0.85"/>
<rect x="392.9" y="670.4" width="1" height="1" fill="#f8f8e0"/>
<rect x="392.7" y="669.9" width="1" height="1" fill="#201818"/>
<rect x="324.6" y="571.6" width="1.5" height="2" fill="#c07a34" opacity="0.85"/>
<rect x="323.5" y="572.7" width="2" height="2" fill="#b86a2c" opacity="0.85"/>
<rect x="321.3" y="574.7" width="1" height="1.5" fill="#a85a28" opacity="0.85"/>
<rect x="323.6" y="575.2" width="1.5" height="2" fill="#c07a34" opacity="0.85"/>
<rect x="320.7" y="576.2" width="1" height="1" fill="#f8f8e0"/>
<rect x="302.7" y="552.5" width="2" height="1" fill="#c07a34" opacity="0.85"/>
<rect x="306.1" y="556.0" width="2" height="2" fill="#a85a28" opacity="0.85"/>
<rect x="303.6" y="558.2" width="1" height="1.5" fill="#b86a2c" opacity="0.85"/>
<rect x="303.7" y="556.3" width="1" height="1" fill="#302030"/>
<rect x="289.4" y="547.8" width="1" height="1" fill="#b86a2c" opacity="0.85"/>
<rect x="288.8" y="554.7" width="1.5" height="1" fill="#b86a2c" opacity="0.85"/>
<rect x="286.6" y="552.5" width="2" height="1" fill="#a85a28" opacity="0.85"/>
<rect x="291.6" y="550.4" width="1" height="1" fill="#f8f8e0"/>
<rect x="286.3" y="552.5" width="1" height="1" fill="#302030"/>
<rect x="288.7" y="547.0" width="1" height="1" fill="#f8f8e0"/>
<rect x="327.2" y="558.4" width="2" height="2" fill="#c07a34" opacity="0.85"/>
<rect x="328.4" y="559.2" width="1.5" height="1.5" fill="#a85a28" opacity="0.85"/>
<rect x="329.5" y="565.5" width="1.5" height="1" fill="#c89040" opacity="0.85"/>
<rect x="329.0" y="559.0" width="1.5" height="1.5" fill="#c89040" opacity="0.85"/>
<rect x="326.8" y="562.9" width="1.5" height="2" fill="#c07a34" opacity="0.85"/>
<rect x="331.3" y="560.8" width="1" height="1.5" fill="#c89040" opacity="0.85"/>
<rect x="271.8" y="603.4" width="1" height="2" fill="#a85a28" opacity="0.85"/>
<rect x="275.3" y="610.4" width="2" height="1" fill="#c89040" opacity="0.85"/>
<rect x="360.1" y="654.0" width="1.5" height="1" fill="#c07a34" opacity="0.85"/>
<rect x="359.2" y="653.3" width="1" height="2" fill="#a85a28" opacity="0.85"/>
<rect x="361.0" y="649.7" width="1.5" height="1.5" fill="#b86a2c" opacity="0.85"/>
<rect x="364.4" y="651.2" width="1.5" height="2" fill="#a85a28" opacity="0.85"/>
<rect x="361.2" y="650.5" width="1.5" height="2" fill="#c89040" opacity="0.85"/>
<rect x="368.5" y="650.7" width="1" height="1" fill="#302030"/>
<rect x="299.9" y="544.4" width="1.5" height="2" fill="#c07a34" opacity="0.85"/>
<rect x="296.6" y="550.2" width="1" height="1" fill="#302030"/>
<rect x="334.5" y="568.7" width="1.5" height="1.5" fill="#c07a34" opacity="0.85"/>
<rect x="336.5" y="573.9" width="1.5" height="1.5" fill="#c07a34" opacity="0.85"/>
<rect x="332.8" y="572.3" width="1.5" height="1.5" fill="#c07a34" opacity="0.85"/>
<rect x="335.6" y="570.2" width="1.5" height="1.5" fill="#b86a2c" opacity="0.85"/>
<rect x="335.6" y="570.0" width="1.5" height="1.5" fill="#b86a2c" opacity="0.85"/>
<rect x="388.1" y="662.0" width="2" height="1" fill="#b86a2c" opacity="0.85"/>
<rect x="390.3" y="663.2" width="1.5" height="1.5" fill="#b86a2c" opacity="0.85"/>
<rect x="391.1" y="661.1" width="1" height="1" fill="#302030"/>
<rect x="319.0" y="549.5" width="2" height="2" fill="#b86a2c" opacity="0.85"/>
<rect x="316.4" y="546.7" width="2" height="1.5" fill="#c07a34" opacity="0.85"/>
<rect x="317.2" y="550.9" width="1" height="2" fill="#c89040" opacity="0.85"/>
<rect x="318.2" y="549.8" width="1" height="1.5" fill="#c89040" opacity="0.85"/>
<rect x="320.0" y="548.3" width="1" height="1" fill="#f8f8e0"/>
<rect x="275.5" y="595.8" width="1" height="2" fill="#b86a2c" opacity="0.85"/>
<rect x="277.0" y="599.0" width="2" height="2" fill="#c89040" opacity="0.85"/>
<rect x="277.3" y="595.3" width="1" height="1" fill="#302030"/>
<rect x="279.7" y="597.4" width="1" height="1" fill="#201818"/>
<g filter="url(#blob2)"><g transform="translate(288.1,546.8) scale(0.953,1.049) translate(-288.1,-546.8)">
<path d="M293.7,544.8 Q294.4,546.3 294.8,548.5 Q295.2,550.7 293.9,552.6 Q292.5,554.6 290.1,555.1 Q287.7,555.5 285.4,554.9 Q283.1,554.3 281.8,552.4 Q280.5,550.5 280.8,548.4 Q281.0,546.3 282.0,544.9 Q282.9,543.5 283.7,542.2 Q284.6,540.9 286.2,539.8 Q287.7,538.8 289.5,539.5 Q291.2,540.3 292.1,541.8 Q293.0,543.3 293.7,544.8Z" fill="#b8682a"/>
<path d="M293.6,545.3 Q293.9,546.8 293.4,548.2 Q292.9,549.6 291.9,550.7 Q290.9,551.7 289.5,552.5 Q288.1,553.2 286.4,553.0 Q284.6,552.8 283.5,551.5 Q282.3,550.1 281.8,548.5 Q281.2,546.8 281.3,544.9 Q281.4,543.0 282.8,541.5 Q284.2,540.1 286.2,539.6 Q288.1,539.0 289.9,539.9 Q291.6,540.7 292.4,542.3 Q293.3,543.8 293.6,545.3Z" fill="#6a2270"/>
<path d="M293.2,545.5 Q293.8,546.8 293.7,548.4 Q293.6,550.0 292.5,551.2 Q291.4,552.5 289.7,552.9 Q288.1,553.2 286.5,552.8 Q284.8,552.5 283.7,551.2 Q282.6,549.9 282.3,548.4 Q281.9,546.8 282.3,545.2 Q282.6,543.6 283.8,542.5 Q285.0,541.4 286.6,541.0 Q288.1,540.6 289.5,541.2 Q290.9,541.9 291.8,543.1 Q292.6,544.2 293.2,545.5Z" fill="#2c0a68"/>
<path d="M291.6,545.6 Q292.0,546.8 291.9,548.3 Q291.9,549.7 290.6,550.7 Q289.4,551.6 287.9,551.2 Q286.5,550.8 285.5,550.0 Q284.4,549.3 283.7,548.0 Q283.1,546.8 283.5,545.4 Q284.0,544.0 285.2,543.4 Q286.5,542.7 287.8,542.8 Q289.1,542.8 290.1,543.6 Q291.1,544.4 291.6,545.6Z" fill="#180446"/>
</g></g>
<rect x="292.2" y="539.5" width="1" height="1" fill="#a85a28"/>
<rect x="295.7" y="543.7" width="1" height="1" fill="#2a1a20"/>
<rect x="276.9" y="547.5" width="1.5" height="1" fill="#b86a2a"/>
<rect x="282.6" y="553.8" width="1" height="1.5" fill="#2a1a20"/>
<rect x="279.4" y="551.4" width="1" height="1" fill="#b86a2a"/>
<rect x="287.2" y="557.7" width="1.5" height="1" fill="#3a1a40"/>
<rect x="297.9" y="545.7" width="1" height="1" fill="#2a1a20"/>
<rect x="283.1" y="553.8" width="1" height="1" fill="#b86a2a"/>
<rect x="292.5" y="554.7" width="1" height="1.5" fill="#a85a28"/>
<g filter="url(#blob2)"><g transform="translate(323.8,546.8) scale(0.953,1.049) translate(-323.8,-546.8)">
<path d="M330.6,544.9 Q331.4,546.8 330.5,548.5 Q329.5,550.3 328.0,551.2 Q326.4,552.1 324.9,552.9 Q323.4,553.8 321.2,554.0 Q319.0,554.3 317.4,552.7 Q315.9,551.1 316.2,548.9 Q316.6,546.8 317.5,545.3 Q318.3,543.9 319.3,542.6 Q320.2,541.4 321.8,540.6 Q323.4,539.9 325.1,540.2 Q326.9,540.6 328.3,541.8 Q329.7,543.1 330.6,544.9Z" fill="#b8682a"/>
<path d="M329.8,545.1 Q330.0,546.8 329.7,548.4 Q329.5,550.1 328.6,551.8 Q327.7,553.6 325.7,553.9 Q323.8,554.3 322.1,553.5 Q320.4,552.7 319.1,551.5 Q317.7,550.3 317.5,548.6 Q317.4,546.8 317.7,545.1 Q318.0,543.4 318.9,541.6 Q319.8,539.8 321.8,539.2 Q323.8,538.5 325.7,539.4 Q327.6,540.2 328.7,541.8 Q329.7,543.4 329.8,545.1Z" fill="#6a2270"/>
<path d="M329.4,545.3 Q329.7,546.8 329.3,548.3 Q329.0,549.8 327.8,550.7 Q326.6,551.6 325.2,551.9 Q323.8,552.2 322.4,551.9 Q321.0,551.6 320.1,550.5 Q319.1,549.5 318.5,548.1 Q317.8,546.8 317.8,545.1 Q317.9,543.4 319.1,542.1 Q320.4,540.9 322.1,540.6 Q323.8,540.2 325.4,540.7 Q327.0,541.2 328.1,542.5 Q329.1,543.7 329.4,545.3Z" fill="#2c0a68"/>
<path d="M327.0,545.7 Q327.4,546.8 327.2,548.1 Q327.0,549.4 326.0,550.3 Q324.9,551.2 323.4,551.4 Q321.9,551.6 320.6,550.7 Q319.3,549.9 319.0,548.3 Q318.7,546.8 319.2,545.4 Q319.7,544.0 320.8,543.1 Q322.0,542.2 323.4,542.4 Q324.9,542.6 325.7,543.6 Q326.6,544.5 327.0,545.7Z" fill="#180446"/>
</g></g>
<rect x="321.9" y="536.1" width="1.5" height="1.5" fill="#a85a28"/>
<rect x="319.6" y="537.9" width="1" height="1" fill="#b86a2a"/>
<rect x="323.2" y="556.9" width="1" height="1" fill="#3a1a40"/>
<rect x="321.5" y="537.2" width="1" height="1" fill="#3a1a40"/>
<rect x="314.4" y="549.5" width="1" height="1.5" fill="#a85a28"/>
<rect x="330.6" y="541.5" width="1" height="1" fill="#3a1a40"/>
<rect x="330.3" y="542.6" width="1" height="1.5" fill="#a85a28"/>
<rect x="329.3" y="555.6" width="1" height="1.5" fill="#b86a2a"/>
<rect x="331.5" y="552.5" width="1.5" height="1" fill="#3a1a40"/>
<g filter="url(#blob2)"><g transform="translate(359.9,546.8) scale(0.953,1.049) translate(-359.9,-546.8)">
<path d="M366.3,545.4 Q367.4,547.0 366.9,548.8 Q366.4,550.7 365.0,552.1 Q363.7,553.5 361.8,554.1 Q359.9,554.8 358.1,554.0 Q356.3,553.2 355.1,551.8 Q353.8,550.5 353.1,548.7 Q352.5,547.0 353.1,545.2 Q353.7,543.4 355.0,542.1 Q356.4,540.8 358.1,540.0 Q359.9,539.2 361.6,540.2 Q363.3,541.1 364.2,542.5 Q365.2,543.9 366.3,545.4Z" fill="#b8682a"/>
<path d="M365.5,545.2 Q365.6,546.8 365.1,548.1 Q364.5,549.5 363.5,550.4 Q362.5,551.2 361.2,551.8 Q359.9,552.3 358.4,552.2 Q356.8,552.1 355.6,551.1 Q354.4,550.0 354.2,548.4 Q354.0,546.8 354.6,545.5 Q355.2,544.1 356.2,543.0 Q357.1,541.9 358.5,540.9 Q359.9,540.0 361.7,540.3 Q363.5,540.5 364.5,542.0 Q365.5,543.6 365.5,545.2Z" fill="#6a2270"/>
<path d="M365.3,545.3 Q365.6,546.8 365.3,548.2 Q364.9,549.7 363.8,550.6 Q362.6,551.5 361.3,551.6 Q359.9,551.7 358.6,551.4 Q357.4,551.2 356.1,550.5 Q354.8,549.8 354.2,548.3 Q353.6,546.8 354.1,545.3 Q354.7,543.8 355.9,542.8 Q357.1,541.9 358.5,541.6 Q359.9,541.3 361.3,541.6 Q362.7,542.0 363.8,542.9 Q365.0,543.9 365.3,545.3Z" fill="#2c0a68"/>
<path d="M363.1,545.6 Q363.5,546.8 363.3,548.1 Q363.1,549.3 362.1,550.3 Q361.1,551.3 359.6,551.2 Q358.2,551.2 357.2,550.2 Q356.3,549.2 356.1,548.0 Q355.8,546.8 356.2,545.7 Q356.6,544.6 357.5,543.9 Q358.4,543.2 359.6,543.0 Q360.9,542.9 361.8,543.7 Q362.8,544.5 363.1,545.6Z" fill="#180446"/>
</g></g>
<rect x="364.4" y="540.6" width="1" height="1.5" fill="#b86a2a"/>
<rect x="369.2" y="545.8" width="1" height="1" fill="#b86a2a"/>
<rect x="354.1" y="554.0" width="1" height="1" fill="#3a1a40"/>
<rect x="351.7" y="550.8" width="1.5" height="1" fill="#a85a28"/>
<rect x="368.9" y="542.5" width="1" height="1" fill="#b86a2a"/>
<rect x="361.4" y="539.8" width="1" height="1.5" fill="#2a1a20"/>
<rect x="355.8" y="540.6" width="1" height="1.5" fill="#b86a2a"/>
<rect x="359.9" y="553.8" width="1" height="1" fill="#a85a28"/>
<g filter="url(#blob2)"><g transform="translate(396.0,546.8) scale(0.953,1.049) translate(-396.0,-546.8)">
<path d="M402.3,545.0 Q402.8,546.6 403.2,548.7 Q403.6,550.8 402.0,552.3 Q400.5,553.8 398.4,553.9 Q396.3,553.9 394.3,553.8 Q392.3,553.6 390.6,552.3 Q388.9,550.9 388.3,548.8 Q387.8,546.6 388.3,544.4 Q388.7,542.2 390.3,540.5 Q391.8,538.7 394.1,538.1 Q396.3,537.4 398.4,538.4 Q400.5,539.5 401.2,541.4 Q401.9,543.4 402.3,545.0Z" fill="#b8682a"/>
<path d="M402.0,545.3 Q402.8,546.8 402.4,548.5 Q402.0,550.2 400.7,551.5 Q399.4,552.7 397.7,553.2 Q396.0,553.7 394.2,553.3 Q392.4,553.0 391.3,551.5 Q390.2,550.1 390.2,548.5 Q390.3,546.8 390.8,545.5 Q391.4,544.1 392.3,543.1 Q393.3,542.1 394.6,541.6 Q396.0,541.2 397.4,541.6 Q398.8,542.0 400.0,542.9 Q401.3,543.8 402.0,545.3Z" fill="#6a2270"/>
<path d="M401.0,545.4 Q401.2,546.8 401.0,548.2 Q400.8,549.6 399.8,550.7 Q398.9,551.8 397.5,552.4 Q396.0,552.9 394.5,552.5 Q393.0,552.0 392.1,550.8 Q391.2,549.6 390.6,548.2 Q390.1,546.8 390.4,545.3 Q390.8,543.8 391.9,542.7 Q393.0,541.6 394.5,541.0 Q396.0,540.5 397.6,540.9 Q399.2,541.3 400.0,542.7 Q400.9,544.0 401.0,545.4Z" fill="#2c0a68"/>
<path d="M399.5,545.6 Q400.0,546.8 399.6,548.1 Q399.3,549.4 398.1,550.0 Q396.9,550.6 395.7,550.7 Q394.4,550.8 393.4,550.0 Q392.4,549.2 392.2,548.0 Q392.0,546.8 392.2,545.6 Q392.4,544.4 393.3,543.3 Q394.2,542.3 395.7,542.3 Q397.2,542.3 398.1,543.3 Q399.1,544.3 399.5,545.6Z" fill="#180446"/>
</g></g>
<rect x="404.8" y="545.8" width="1" height="1" fill="#2a1a20"/>
<rect x="397.9" y="555.0" width="1" height="1" fill="#2a1a20"/>
<rect x="401.3" y="540.5" width="1" height="1.5" fill="#a85a28"/>
<rect x="394.3" y="554.8" width="1" height="1.5" fill="#2a1a20"/>
<rect x="399.7" y="539.7" width="1" height="1" fill="#b86a2a"/>
<rect x="388.1" y="546.6" width="1.5" height="1" fill="#a85a28"/>
<rect x="390.4" y="538.6" width="1" height="1" fill="#b86a2a"/>
<rect x="394.3" y="539.7" width="1.5" height="1" fill="#2a1a20"/>
<g filter="url(#blob2)"><g transform="translate(288.1,583.6) scale(0.953,1.049) translate(-288.1,-583.6)">
<path d="M294.4,581.9 Q294.9,583.7 294.6,585.5 Q294.2,587.3 292.7,588.3 Q291.2,589.3 289.6,589.2 Q288.0,589.0 286.5,588.9 Q285.0,588.8 283.2,588.1 Q281.4,587.4 280.7,585.6 Q279.9,583.7 280.7,581.8 Q281.6,580.0 283.2,579.0 Q284.8,578.1 286.4,577.5 Q288.0,576.9 289.8,577.2 Q291.6,577.4 292.8,578.8 Q293.9,580.2 294.4,581.9Z" fill="#b8682a"/>
<path d="M293.7,582.0 Q293.9,583.6 293.9,585.2 Q293.8,586.9 292.8,588.4 Q291.7,589.9 289.9,590.2 Q288.1,590.5 286.7,589.4 Q285.3,588.4 284.4,587.3 Q283.6,586.2 282.7,584.9 Q281.8,583.6 282.1,582.0 Q282.5,580.4 283.8,579.4 Q285.1,578.4 286.6,577.6 Q288.1,576.8 289.9,577.1 Q291.7,577.4 292.6,578.9 Q293.5,580.5 293.7,582.0Z" fill="#6a2270"/>
<path d="M293.2,582.3 Q293.7,583.6 293.4,585.0 Q293.1,586.5 292.0,587.5 Q290.9,588.5 289.5,588.9 Q288.1,589.3 286.7,588.8 Q285.4,588.3 284.4,587.3 Q283.4,586.3 282.6,585.0 Q281.9,583.6 282.3,582.0 Q282.7,580.5 284.1,579.8 Q285.5,579.0 286.8,579.0 Q288.1,579.1 289.3,579.2 Q290.5,579.4 291.6,580.2 Q292.7,581.0 293.2,582.3Z" fill="#2c0a68"/>
<path d="M291.4,582.5 Q292.1,583.6 291.8,585.0 Q291.6,586.4 290.4,587.1 Q289.2,587.8 287.8,587.8 Q286.4,587.8 285.2,587.1 Q283.9,586.4 283.5,585.0 Q283.1,583.6 283.7,582.3 Q284.3,581.0 285.4,580.3 Q286.5,579.5 287.7,579.7 Q289.0,579.9 289.9,580.7 Q290.7,581.5 291.4,582.5Z" fill="#180446"/>
</g></g>
<rect x="284.2" y="575.3" width="1.5" height="1" fill="#3a1a40"/>
<rect x="289.2" y="574.7" width="1" height="1.5" fill="#3a1a40"/>
<rect x="289.8" y="590.8" width="1" height="1" fill="#2a1a20"/>
<rect x="297.6" y="584.2" width="1" height="1" fill="#2a1a20"/>
<rect x="292.8" y="588.6" width="1.5" height="1.5" fill="#a85a28"/>
<rect x="278.8" y="586.6" width="1" height="1" fill="#a85a28"/>
<rect x="287.2" y="576.5" width="1.5" height="1.5" fill="#3a1a40"/>
<rect x="277.9" y="586.2" width="1" height="1" fill="#2a1a20"/>
<g filter="url(#blob2)"><g transform="translate(323.8,583.6) scale(0.953,1.049) translate(-323.8,-583.6)">
<path d="M331.0,581.0 Q331.9,583.0 331.2,585.1 Q330.5,587.2 328.5,588.0 Q326.6,588.8 324.9,589.4 Q323.2,589.9 321.3,589.8 Q319.4,589.7 318.0,588.3 Q316.6,586.9 315.7,584.9 Q314.8,583.0 315.7,581.1 Q316.6,579.2 318.4,578.4 Q320.1,577.6 321.7,576.9 Q323.2,576.2 325.1,576.3 Q327.1,576.3 328.6,577.7 Q330.1,579.0 331.0,581.0Z" fill="#b8682a"/>
<path d="M330.5,581.7 Q330.8,583.6 330.2,585.3 Q329.6,586.9 328.4,588.3 Q327.3,589.7 325.6,590.2 Q323.8,590.7 322.0,590.3 Q320.2,589.8 318.9,588.5 Q317.5,587.2 317.3,585.4 Q317.1,583.6 317.5,581.9 Q317.8,580.2 318.9,578.5 Q319.9,576.8 321.8,576.0 Q323.8,575.2 325.8,575.9 Q327.8,576.7 329.1,578.2 Q330.3,579.8 330.5,581.7Z" fill="#6a2270"/>
<path d="M329.1,582.1 Q329.4,583.6 329.1,585.1 Q328.8,586.5 328.0,588.0 Q327.2,589.5 325.5,590.2 Q323.8,590.9 322.1,590.2 Q320.4,589.5 319.3,588.2 Q318.3,586.8 317.7,585.2 Q317.1,583.6 317.2,581.8 Q317.4,579.9 318.8,578.6 Q320.2,577.3 322.0,577.2 Q323.8,577.0 325.3,577.7 Q326.8,578.4 327.8,579.5 Q328.9,580.7 329.1,582.1Z" fill="#2c0a68"/>
<path d="M327.8,582.3 Q328.4,583.6 327.9,585.0 Q327.3,586.4 326.2,587.3 Q325.0,588.1 323.5,588.3 Q321.9,588.4 320.6,587.6 Q319.2,586.7 318.8,585.2 Q318.4,583.6 319.3,582.4 Q320.2,581.2 321.3,580.7 Q322.4,580.2 323.5,580.1 Q324.7,580.0 325.9,580.5 Q327.2,580.9 327.8,582.3Z" fill="#180446"/>
</g></g>
<rect x="314.8" y="578.1" width="1" height="1" fill="#a85a28"/>
<rect x="327.9" y="573.6" width="1.5" height="1" fill="#b86a2a"/>
<rect x="334.2" y="582.0" width="1.5" height="1.5" fill="#3a1a40"/>
<rect x="319.4" y="589.9" width="1.5" height="1" fill="#3a1a40"/>
<rect x="327.0" y="593.4" width="1" height="1" fill="#2a1a20"/>
<rect x="319.8" y="575.4" width="1" height="1" fill="#2a1a20"/>
<rect x="326.2" y="574.8" width="1" height="1.5" fill="#b86a2a"/>
<rect x="324.9" y="575.4" width="1.5" height="1.5" fill="#b86a2a"/>
<rect x="330.8" y="577.4" width="1" height="1.5" fill="#a85a28"/>
<g filter="url(#blob2)"><g transform="translate(359.9,583.6) scale(0.953,1.049) translate(-359.9,-583.6)">
<path d="M365.5,581.7 Q366.0,583.2 365.7,584.9 Q365.4,586.6 364.2,587.9 Q363.0,589.2 361.2,589.6 Q359.5,590.0 357.8,589.5 Q356.2,589.1 355.1,587.7 Q354.0,586.4 354.1,584.8 Q354.2,583.2 354.3,581.8 Q354.5,580.3 355.1,578.5 Q355.8,576.8 357.7,576.6 Q359.5,576.5 361.0,577.4 Q362.4,578.2 363.7,579.1 Q365.0,580.1 365.5,581.7Z" fill="#b8682a"/>
<path d="M365.4,582.1 Q365.9,583.6 365.4,585.0 Q364.9,586.5 363.8,587.5 Q362.8,588.6 361.3,589.0 Q359.9,589.4 358.5,588.9 Q357.2,588.3 356.5,587.1 Q355.8,586.0 355.3,584.8 Q354.7,583.6 354.4,581.9 Q354.0,580.2 355.2,578.8 Q356.4,577.5 358.1,577.3 Q359.9,577.2 361.4,577.9 Q362.8,578.5 363.9,579.6 Q365.0,580.7 365.4,582.1Z" fill="#6a2270"/>
<path d="M364.6,582.4 Q365.3,583.6 365.1,585.0 Q364.9,586.5 363.9,587.7 Q363.0,588.9 361.4,589.4 Q359.9,589.9 358.3,589.5 Q356.7,589.1 355.7,587.9 Q354.6,586.6 354.7,585.1 Q354.8,583.6 355.5,582.5 Q356.1,581.4 356.9,580.6 Q357.7,579.7 358.8,579.4 Q359.9,579.1 361.0,579.5 Q362.1,579.9 363.0,580.6 Q364.0,581.2 364.6,582.4Z" fill="#2c0a68"/>
<path d="M363.5,582.4 Q364.0,583.6 363.6,584.9 Q363.1,586.1 362.0,586.9 Q360.9,587.7 359.6,587.9 Q358.2,588.0 357.1,587.1 Q356.1,586.2 356.0,584.9 Q355.9,583.6 356.3,582.5 Q356.6,581.4 357.6,580.8 Q358.5,580.2 359.6,580.1 Q360.7,580.1 361.9,580.6 Q363.0,581.1 363.5,582.4Z" fill="#180446"/>
</g></g>
<rect x="359.5" y="592.2" width="1.5" height="1" fill="#3a1a40"/>
<rect x="363.9" y="592.5" width="1" height="1" fill="#a85a28"/>
<rect x="364.7" y="592.6" width="1" height="1" fill="#2a1a20"/>
<rect x="363.3" y="578.0" width="1.5" height="1.5" fill="#3a1a40"/>
<rect x="366.5" y="586.0" width="1" height="1" fill="#b86a2a"/>
<rect x="353.0" y="579.2" width="1.5" height="1" fill="#3a1a40"/>
<rect x="356.6" y="590.2" width="1" height="1" fill="#3a1a40"/>
<rect x="354.0" y="589.2" width="1" height="1.5" fill="#2a1a20"/>
<g filter="url(#blob2)"><g transform="translate(396.0,583.6) scale(0.953,1.049) translate(-396.0,-583.6)">
<path d="M402.1,582.6 Q402.9,584.1 402.6,585.9 Q402.2,587.7 400.9,589.0 Q399.5,590.3 397.8,590.6 Q396.0,590.8 394.3,590.4 Q392.5,590.0 391.0,588.9 Q389.5,587.8 388.6,586.0 Q387.7,584.1 387.9,581.8 Q388.0,579.5 389.6,577.6 Q391.1,575.7 393.5,575.4 Q396.0,575.1 397.7,576.6 Q399.4,578.1 400.4,579.6 Q401.3,581.0 402.1,582.6Z" fill="#b8682a"/>
<path d="M401.7,582.0 Q402.0,583.6 401.9,585.3 Q401.8,587.0 400.5,588.0 Q399.1,589.0 397.6,589.0 Q396.0,588.9 394.7,588.6 Q393.4,588.2 392.3,587.3 Q391.1,586.4 390.5,585.0 Q389.8,583.6 390.1,582.0 Q390.5,580.4 391.7,579.4 Q393.0,578.4 394.5,577.8 Q396.0,577.2 397.8,577.4 Q399.5,577.5 400.5,579.0 Q401.4,580.5 401.7,582.0Z" fill="#6a2270"/>
<path d="M400.7,582.3 Q401.0,583.6 400.8,584.9 Q400.5,586.2 399.5,587.1 Q398.5,588.0 397.3,588.3 Q396.0,588.6 394.6,588.4 Q393.3,588.3 392.1,587.4 Q391.0,586.5 390.5,585.0 Q390.1,583.6 390.7,582.3 Q391.3,580.9 392.4,580.1 Q393.5,579.2 394.7,578.7 Q396.0,578.2 397.4,578.5 Q398.7,578.8 399.6,580.0 Q400.4,581.1 400.7,582.3Z" fill="#2c0a68"/>
<path d="M399.6,582.3 Q399.9,583.6 399.6,584.9 Q399.4,586.3 398.3,587.3 Q397.2,588.2 395.7,588.3 Q394.2,588.3 393.0,587.3 Q391.9,586.4 391.6,585.0 Q391.3,583.6 391.9,582.4 Q392.4,581.2 393.4,580.2 Q394.3,579.3 395.8,579.1 Q397.2,579.0 398.2,580.0 Q399.3,581.0 399.6,582.3Z" fill="#180446"/>
</g></g>
<rect x="395.4" y="591.3" width="1" height="1" fill="#3a1a40"/>
<rect x="393.5" y="593.7" width="1" height="1.5" fill="#b86a2a"/>
<rect x="401.8" y="591.0" width="1" height="1.5" fill="#b86a2a"/>
<rect x="387.4" y="583.0" width="1.5" height="1" fill="#a85a28"/>
<rect x="391.6" y="589.0" width="1" height="1" fill="#b86a2a"/>
<rect x="389.4" y="580.4" width="1" height="1.5" fill="#a85a28"/>
<rect x="394.2" y="576.2" width="1" height="1" fill="#3a1a40"/>
<rect x="396.5" y="576.1" width="1" height="1.5" fill="#a85a28"/>
<g filter="url(#blob2)"><g transform="translate(288.1,618.6) scale(0.953,1.049) translate(-288.1,-618.6)">
<path d="M294.4,616.6 Q294.8,618.2 294.4,619.9 Q294.1,621.7 293.0,623.1 Q291.8,624.5 290.0,624.8 Q288.2,625.0 286.6,624.4 Q285.0,623.8 283.6,622.7 Q282.2,621.7 281.5,620.0 Q280.9,618.2 281.0,616.2 Q281.2,614.2 282.6,612.6 Q284.0,611.0 286.1,611.3 Q288.2,611.5 289.7,612.2 Q291.3,612.9 292.7,613.9 Q294.1,614.9 294.4,616.6Z" fill="#b8682a"/>
<path d="M293.8,617.1 Q294.3,618.6 294.0,620.2 Q293.7,621.8 292.3,622.6 Q290.9,623.5 289.5,623.8 Q288.1,624.1 286.6,624.0 Q285.0,624.0 284.1,622.7 Q283.1,621.5 283.0,620.0 Q282.9,618.6 283.1,617.2 Q283.3,615.8 284.3,614.8 Q285.3,613.7 286.7,613.6 Q288.1,613.4 289.5,613.6 Q290.9,613.8 292.0,614.7 Q293.2,615.7 293.8,617.1Z" fill="#6a2270"/>
<path d="M293.6,617.0 Q293.6,618.6 293.0,619.9 Q292.5,621.1 291.7,622.3 Q290.9,623.5 289.5,624.2 Q288.1,624.8 286.6,624.3 Q285.1,623.8 284.2,622.6 Q283.3,621.4 283.0,620.0 Q282.6,618.6 283.0,617.2 Q283.3,615.8 284.4,614.9 Q285.4,614.0 286.8,613.7 Q288.1,613.4 289.6,613.4 Q291.1,613.5 292.3,614.5 Q293.5,615.5 293.6,617.0Z" fill="#2c0a68"/>
<path d="M291.0,617.6 Q291.5,618.6 291.3,619.8 Q291.0,620.9 290.0,621.6 Q289.0,622.4 287.8,622.2 Q286.7,622.1 285.8,621.4 Q284.9,620.7 284.3,619.7 Q283.8,618.6 284.3,617.5 Q284.8,616.5 285.8,616.0 Q286.8,615.6 287.8,615.6 Q288.8,615.7 289.6,616.1 Q290.5,616.6 291.0,617.6Z" fill="#180446"/>
</g></g>
<rect x="290.8" y="612.7" width="1" height="1.5" fill="#a85a28"/>
<rect x="287.4" y="628.3" width="1.5" height="1.5" fill="#3a1a40"/>
<rect x="279.0" y="617.3" width="1" height="1" fill="#2a1a20"/>
<rect x="286.7" y="612.2" width="1" height="1" fill="#3a1a40"/>
<rect x="280.0" y="613.7" width="1" height="1" fill="#2a1a20"/>
<rect x="282.3" y="622.5" width="1.5" height="1" fill="#a85a28"/>
<rect x="293.3" y="625.5" width="1.5" height="1" fill="#a85a28"/>
<rect x="294.2" y="616.5" width="1.5" height="1" fill="#3a1a40"/>
<g filter="url(#blob2)"><g transform="translate(323.8,618.6) scale(0.953,1.049) translate(-323.8,-618.6)">
<path d="M329.9,617.2 Q330.6,618.7 330.5,620.6 Q330.4,622.5 328.8,623.5 Q327.2,624.5 325.6,624.7 Q323.9,625.0 322.0,625.1 Q320.2,625.2 318.3,624.1 Q316.4,623.1 315.6,620.9 Q314.7,618.7 315.5,616.5 Q316.2,614.2 317.8,612.6 Q319.4,611.0 321.7,610.5 Q323.9,609.9 325.8,611.1 Q327.7,612.2 328.5,613.9 Q329.3,615.6 329.9,617.2Z" fill="#b8682a"/>
<path d="M329.5,617.1 Q330.1,618.6 329.5,620.1 Q329.0,621.6 327.9,622.6 Q326.8,623.7 325.3,624.4 Q323.8,625.1 322.1,624.8 Q320.4,624.5 318.9,623.4 Q317.4,622.3 317.2,620.4 Q317.0,618.6 318.1,617.2 Q319.1,615.9 320.2,615.1 Q321.3,614.2 322.5,613.7 Q323.8,613.2 325.2,613.4 Q326.6,613.7 327.8,614.7 Q328.9,615.7 329.5,617.1Z" fill="#6a2270"/>
<path d="M329.7,617.0 Q329.9,618.6 329.3,620.0 Q328.7,621.4 327.6,622.4 Q326.6,623.4 325.2,624.1 Q323.8,624.8 322.1,624.6 Q320.5,624.3 319.6,623.0 Q318.6,621.6 318.4,620.1 Q318.2,618.6 318.1,616.9 Q318.0,615.2 319.2,614.0 Q320.4,612.8 322.1,612.7 Q323.8,612.7 325.4,612.9 Q326.9,613.1 328.2,614.2 Q329.5,615.3 329.7,617.0Z" fill="#2c0a68"/>
<path d="M327.4,617.5 Q328.1,618.6 327.8,620.0 Q327.4,621.4 326.2,622.3 Q325.0,623.1 323.5,623.0 Q322.1,622.9 321.3,621.8 Q320.5,620.8 320.4,619.7 Q320.2,618.6 320.6,617.6 Q320.9,616.7 321.7,616.1 Q322.5,615.5 323.5,615.4 Q324.5,615.4 325.6,615.9 Q326.6,616.4 327.4,617.5Z" fill="#180446"/>
</g></g>
<rect x="330.2" y="624.1" width="1" height="1" fill="#2a1a20"/>
<rect x="314.8" y="612.6" width="1.5" height="1" fill="#2a1a20"/>
<rect x="314.9" y="620.5" width="1" height="1" fill="#2a1a20"/>
<rect x="313.3" y="617.8" width="1" height="1.5" fill="#b86a2a"/>
<rect x="322.3" y="628.4" width="1.5" height="1.5" fill="#b86a2a"/>
<rect x="328.8" y="610.6" width="1.5" height="1" fill="#3a1a40"/>
<rect x="326.8" y="628.0" width="1" height="1.5" fill="#b86a2a"/>
<rect x="317.1" y="612.8" width="1" height="1" fill="#a85a28"/>
<rect x="319.9" y="625.3" width="1.5" height="1" fill="#3a1a40"/>
<g filter="url(#blob2)"><g transform="translate(359.9,618.6) scale(0.953,1.049) translate(-359.9,-618.6)">
<path d="M365.6,616.7 Q365.9,618.4 365.2,619.9 Q364.5,621.4 363.4,622.5 Q362.3,623.5 360.8,623.9 Q359.3,624.3 357.8,624.0 Q356.2,623.8 354.8,622.8 Q353.4,621.8 353.1,620.1 Q352.8,618.4 353.4,616.9 Q354.0,615.4 355.4,614.7 Q356.8,614.0 358.0,613.7 Q359.3,613.3 360.9,613.1 Q362.5,612.9 363.9,613.9 Q365.2,615.0 365.6,616.7Z" fill="#b8682a"/>
<path d="M364.4,617.3 Q364.5,618.6 364.2,619.8 Q363.9,620.9 363.2,622.0 Q362.5,623.1 361.2,623.5 Q359.9,623.8 358.8,623.2 Q357.6,622.5 356.7,621.8 Q355.7,621.0 354.9,619.8 Q354.0,618.6 354.5,617.2 Q355.0,615.8 356.3,615.1 Q357.5,614.5 358.7,614.3 Q359.9,614.0 361.1,614.2 Q362.4,614.3 363.3,615.2 Q364.2,616.1 364.4,617.3Z" fill="#6a2270"/>
<path d="M364.2,617.5 Q364.6,618.6 364.5,619.9 Q364.5,621.2 363.5,622.2 Q362.5,623.1 361.2,623.3 Q359.9,623.5 358.6,623.2 Q357.4,623.0 356.4,622.1 Q355.4,621.2 355.2,619.9 Q354.9,618.6 355.3,617.4 Q355.7,616.2 356.5,615.2 Q357.4,614.2 358.6,613.8 Q359.9,613.4 361.1,613.8 Q362.4,614.3 363.1,615.3 Q363.8,616.4 364.2,617.5Z" fill="#2c0a68"/>
<path d="M363.0,617.4 Q363.2,618.6 362.7,619.5 Q362.1,620.4 361.4,621.1 Q360.6,621.8 359.6,621.9 Q358.5,622.0 357.6,621.3 Q356.7,620.7 356.2,619.7 Q355.8,618.6 356.3,617.6 Q356.7,616.5 357.6,615.9 Q358.5,615.4 359.7,615.2 Q360.8,615.0 361.8,615.6 Q362.8,616.2 363.0,617.4Z" fill="#180446"/>
</g></g>
<rect x="354.3" y="614.2" width="1" height="1.5" fill="#3a1a40"/>
<rect x="358.2" y="625.4" width="1" height="1" fill="#3a1a40"/>
<rect x="356.5" y="614.1" width="1.5" height="1" fill="#3a1a40"/>
<rect x="354.0" y="620.8" width="1" height="1" fill="#3a1a40"/>
<rect x="352.8" y="615.0" width="1" height="1" fill="#b86a2a"/>
<rect x="367.8" y="617.0" width="1" height="1" fill="#a85a28"/>
<g filter="url(#blob2)"><g transform="translate(396.0,618.6) scale(0.953,1.049) translate(-396.0,-618.6)">
<path d="M403.4,617.2 Q403.8,619.1 402.6,620.5 Q401.5,621.9 400.5,623.1 Q399.5,624.2 398.1,625.2 Q396.6,626.2 394.9,625.6 Q393.2,624.9 392.2,623.6 Q391.1,622.2 390.6,620.6 Q390.2,619.1 390.5,617.4 Q390.8,615.7 391.9,614.3 Q393.0,612.9 394.8,612.1 Q396.6,611.3 398.5,611.9 Q400.4,612.4 401.7,613.9 Q403.0,615.4 403.4,617.2Z" fill="#b8682a"/>
<path d="M400.9,617.2 Q401.0,618.6 400.7,619.9 Q400.4,621.2 399.6,622.3 Q398.8,623.5 397.4,623.8 Q396.0,624.0 394.9,623.3 Q393.7,622.5 393.0,621.7 Q392.2,620.8 391.7,619.7 Q391.1,618.6 391.2,617.2 Q391.3,615.9 392.2,614.7 Q393.1,613.5 394.5,612.8 Q396.0,612.2 397.6,612.6 Q399.2,613.1 400.0,614.5 Q400.8,615.8 400.9,617.2Z" fill="#6a2270"/>
<path d="M400.1,617.5 Q400.5,618.6 400.3,619.8 Q400.2,621.0 399.4,622.1 Q398.6,623.1 397.3,623.7 Q396.0,624.3 394.5,624.0 Q393.0,623.8 392.0,622.6 Q391.1,621.4 390.7,620.0 Q390.3,618.6 390.8,617.3 Q391.3,615.9 392.5,615.2 Q393.6,614.5 394.8,614.2 Q396.0,613.9 397.2,614.2 Q398.3,614.6 399.1,615.5 Q399.8,616.4 400.1,617.5Z" fill="#2c0a68"/>
<path d="M398.9,617.5 Q399.1,618.6 398.7,619.6 Q398.4,620.6 397.6,621.3 Q396.8,622.0 395.7,622.0 Q394.6,621.9 393.7,621.4 Q392.7,620.8 392.1,619.7 Q391.5,618.6 391.9,617.3 Q392.3,616.1 393.3,615.3 Q394.4,614.5 395.7,614.5 Q397.0,614.6 397.9,615.5 Q398.7,616.4 398.9,617.5Z" fill="#180446"/>
</g></g>
<rect x="398.8" y="612.2" width="1" height="1" fill="#a85a28"/>
<rect x="403.9" y="621.7" width="1" height="1" fill="#2a1a20"/>
<rect x="393.8" y="612.8" width="1" height="1" fill="#2a1a20"/>
<rect x="402.8" y="614.7" width="1" height="1.5" fill="#2a1a20"/>
<rect x="392.6" y="612.5" width="1" height="1.5" fill="#b86a2a"/>
<rect x="402.7" y="611.5" width="1.5" height="1" fill="#a85a28"/>
<rect x="390.3" y="622.1" width="1" height="1.5" fill="#2a1a20"/>
<g filter="url(#blob2)"><g transform="translate(288.1,653.7) scale(0.953,1.049) translate(-288.1,-653.7)">
<path d="M292.4,652.1 Q293.3,653.2 292.9,654.6 Q292.5,656.1 291.3,656.9 Q290.1,657.6 288.8,658.1 Q287.5,658.6 286.0,658.5 Q284.5,658.4 283.4,657.3 Q282.2,656.3 281.9,654.7 Q281.6,653.2 282.3,651.9 Q283.0,650.5 284.2,650.0 Q285.4,649.4 286.4,649.2 Q287.5,649.1 288.5,649.4 Q289.6,649.7 290.5,650.3 Q291.5,650.9 292.4,652.1Z" fill="#b8682a"/>
<path d="M291.9,652.8 Q292.6,653.7 292.6,655.0 Q292.7,656.3 291.6,657.2 Q290.6,658.0 289.3,657.8 Q288.1,657.6 287.2,657.3 Q286.2,657.0 285.4,656.4 Q284.6,655.7 284.5,654.7 Q284.4,653.7 284.7,652.8 Q284.9,651.9 285.5,650.9 Q286.0,650.0 287.0,649.7 Q288.1,649.3 289.0,649.9 Q289.9,650.5 290.6,651.2 Q291.2,651.9 291.9,652.8Z" fill="#6a2270"/>
<path d="M291.8,652.6 Q291.7,653.7 291.3,654.5 Q290.9,655.3 290.4,656.0 Q289.8,656.6 288.9,656.9 Q288.1,657.3 287.3,656.9 Q286.5,656.6 285.8,656.0 Q285.2,655.4 284.7,654.5 Q284.2,653.7 284.5,652.7 Q284.7,651.8 285.5,651.2 Q286.3,650.6 287.2,650.3 Q288.1,650.0 289.2,650.0 Q290.2,650.0 291.0,650.8 Q291.8,651.5 291.8,652.6Z" fill="#2c0a68"/>
<path d="M289.9,653.0 Q290.1,653.7 290.1,654.5 Q290.0,655.3 289.4,655.9 Q288.7,656.5 287.8,656.5 Q286.9,656.4 286.3,655.8 Q285.6,655.3 285.4,654.5 Q285.1,653.7 285.4,652.9 Q285.6,652.1 286.3,651.7 Q287.0,651.2 287.8,651.2 Q288.6,651.2 289.2,651.7 Q289.7,652.3 289.9,653.0Z" fill="#180446"/>
</g></g>
<rect x="291.1" y="659.2" width="1" height="1" fill="#3a1a40"/>
<rect x="283.2" y="651.7" width="1.5" height="1" fill="#b86a2a"/>
<rect x="283.9" y="656.6" width="1" height="1" fill="#b86a2a"/>
<rect x="282.1" y="651.6" width="1" height="1" fill="#b86a2a"/>
<rect x="288.5" y="658.6" width="1.5" height="1" fill="#b86a2a"/>
<g filter="url(#blob2)"><g transform="translate(323.8,653.7) scale(0.953,1.049) translate(-323.8,-653.7)">
<path d="M328.9,652.0 Q328.9,653.4 328.6,654.6 Q328.3,655.7 327.7,657.1 Q327.1,658.5 325.6,659.2 Q324.2,660.0 322.6,659.4 Q321.1,658.8 320.0,657.6 Q318.9,656.5 318.4,654.9 Q318.0,653.4 318.8,652.0 Q319.5,650.7 320.6,649.9 Q321.7,649.2 323.0,648.8 Q324.2,648.5 325.5,648.6 Q326.9,648.7 327.9,649.7 Q329.0,650.6 328.9,652.0Z" fill="#b8682a"/>
<path d="M328.6,652.4 Q328.7,653.7 328.3,654.9 Q327.8,656.0 326.9,656.8 Q326.0,657.6 324.9,658.0 Q323.8,658.4 322.5,658.4 Q321.1,658.3 320.0,657.4 Q318.8,656.6 318.3,655.1 Q317.8,653.7 318.2,652.2 Q318.6,650.7 319.8,649.9 Q321.1,649.1 322.5,648.8 Q323.8,648.5 325.2,648.7 Q326.6,648.8 327.5,649.9 Q328.5,651.0 328.6,652.4Z" fill="#6a2270"/>
<path d="M327.5,652.7 Q327.8,653.7 327.6,654.7 Q327.3,655.7 326.6,656.5 Q325.8,657.2 324.8,657.7 Q323.8,658.2 322.7,657.8 Q321.6,657.5 320.9,656.6 Q320.2,655.8 319.7,654.7 Q319.2,653.7 319.4,652.5 Q319.6,651.3 320.6,650.5 Q321.6,649.8 322.7,649.7 Q323.8,649.6 324.8,649.9 Q325.8,650.2 326.5,650.9 Q327.3,651.7 327.5,652.7Z" fill="#2c0a68"/>
<path d="M326.3,652.7 Q326.4,653.7 326.2,654.6 Q326.1,655.6 325.3,656.3 Q324.6,657.0 323.5,656.9 Q322.5,656.9 321.8,656.1 Q321.2,655.4 320.9,654.5 Q320.6,653.7 320.8,652.8 Q321.0,651.9 321.8,651.3 Q322.6,650.8 323.6,650.6 Q324.6,650.4 325.4,651.1 Q326.2,651.7 326.3,652.7Z" fill="#180446"/>
</g></g>
<rect x="324.1" y="647.6" width="1.5" height="1" fill="#2a1a20"/>
<rect x="324.7" y="659.4" width="1.5" height="1" fill="#b86a2a"/>
<rect x="318.4" y="660.5" width="1" height="1.5" fill="#a85a28"/>
<rect x="329.3" y="651.4" width="1" height="1.5" fill="#b86a2a"/>
<rect x="328.1" y="650.4" width="1.5" height="1.5" fill="#3a1a40"/>
<rect x="323.9" y="662.4" width="1" height="1.5" fill="#2a1a20"/>
<g filter="url(#blob2)"><g transform="translate(359.9,653.7) scale(0.953,1.049) translate(-359.9,-653.7)">
<path d="M365.9,651.6 Q366.7,653.2 366.2,655.0 Q365.6,656.8 364.1,657.6 Q362.5,658.5 361.0,658.1 Q359.5,657.7 358.6,657.1 Q357.6,656.5 356.8,655.9 Q355.9,655.3 355.5,654.3 Q355.0,653.2 355.2,652.0 Q355.3,650.8 356.2,650.0 Q357.1,649.1 358.3,649.0 Q359.5,648.9 360.8,648.9 Q362.0,648.9 363.5,649.5 Q365.0,650.0 365.9,651.6Z" fill="#b8682a"/>
<path d="M364.1,652.6 Q364.4,653.7 364.4,655.0 Q364.4,656.3 363.5,657.3 Q362.6,658.4 361.3,658.6 Q359.9,658.8 358.7,658.3 Q357.6,657.7 356.7,656.9 Q355.8,656.1 355.3,654.9 Q354.9,653.7 355.5,652.6 Q356.0,651.5 356.9,650.7 Q357.7,650.0 358.8,649.2 Q359.9,648.5 361.2,648.7 Q362.6,649.0 363.2,650.2 Q363.8,651.4 364.1,652.6Z" fill="#6a2270"/>
<path d="M363.7,652.7 Q364.0,653.7 363.9,654.8 Q363.8,655.9 362.9,656.7 Q362.1,657.5 361.0,657.5 Q359.9,657.4 359.0,657.1 Q358.1,656.8 357.3,656.2 Q356.5,655.7 356.1,654.7 Q355.7,653.7 355.9,652.6 Q356.1,651.5 356.8,650.6 Q357.5,649.6 358.7,649.4 Q359.9,649.1 360.9,649.6 Q361.9,650.2 362.7,650.9 Q363.4,651.7 363.7,652.7Z" fill="#2c0a68"/>
<path d="M362.6,652.7 Q362.8,653.7 362.6,654.7 Q362.4,655.7 361.5,656.3 Q360.7,656.9 359.7,656.7 Q358.7,656.4 358.0,655.9 Q357.3,655.4 356.8,654.5 Q356.3,653.7 356.6,652.7 Q356.8,651.7 357.7,651.0 Q358.5,650.3 359.6,650.3 Q360.7,650.3 361.5,651.0 Q362.3,651.7 362.6,652.7Z" fill="#180446"/>
</g></g>
<rect x="363.7" y="646.9" width="1" height="1.5" fill="#2a1a20"/>
<rect x="357.2" y="648.2" width="1.5" height="1.5" fill="#a85a28"/>
<rect x="353.9" y="654.1" width="1.5" height="1.5" fill="#b86a2a"/>
<rect x="362.6" y="659.0" width="1.5" height="1" fill="#b86a2a"/>
<rect x="359.9" y="659.2" width="1" height="1" fill="#3a1a40"/>
<rect x="366.5" y="658.0" width="1" height="1" fill="#3a1a40"/>
<g filter="url(#blob2)"><g transform="translate(396.0,653.7) scale(0.953,1.049) translate(-396.0,-653.7)">
<path d="M401.3,651.9 Q401.3,653.4 401.0,654.7 Q400.8,656.0 400.0,657.3 Q399.2,658.6 397.7,659.2 Q396.2,659.7 394.8,659.0 Q393.4,658.2 392.5,657.1 Q391.5,656.1 390.9,654.7 Q390.4,653.4 391.0,652.1 Q391.6,650.7 392.6,649.8 Q393.6,648.9 394.9,648.3 Q396.2,647.7 397.7,647.9 Q399.3,648.0 400.2,649.3 Q401.2,650.5 401.3,651.9Z" fill="#b8682a"/>
<path d="M400.0,652.7 Q400.5,653.7 400.2,654.8 Q399.9,656.0 399.2,656.9 Q398.4,657.8 397.2,658.2 Q396.0,658.6 394.8,658.3 Q393.5,657.9 392.5,657.1 Q391.4,656.3 391.2,655.0 Q390.9,653.7 391.6,652.6 Q392.3,651.6 393.2,650.9 Q394.0,650.2 395.0,649.9 Q396.0,649.6 397.0,649.9 Q397.9,650.3 398.7,651.0 Q399.5,651.7 400.0,652.7Z" fill="#6a2270"/>
<path d="M399.8,652.6 Q400.0,653.7 399.6,654.6 Q399.3,655.6 398.7,656.4 Q398.1,657.3 397.0,657.5 Q396.0,657.7 395.1,657.2 Q394.2,656.8 393.5,656.2 Q392.8,655.6 392.4,654.6 Q392.1,653.7 392.4,652.8 Q392.7,651.8 393.5,651.3 Q394.3,650.7 395.1,650.6 Q396.0,650.5 396.9,650.5 Q397.8,650.6 398.7,651.1 Q399.7,651.6 399.8,652.6Z" fill="#2c0a68"/>
<path d="M398.4,652.8 Q398.7,653.7 398.3,654.5 Q398.0,655.3 397.3,656.0 Q396.7,656.7 395.6,656.9 Q394.6,657.0 393.9,656.3 Q393.2,655.5 393.2,654.6 Q393.1,653.7 393.3,652.9 Q393.5,652.1 394.2,651.6 Q394.8,651.1 395.7,651.1 Q396.5,651.2 397.3,651.6 Q398.1,652.0 398.4,652.8Z" fill="#180446"/>
</g></g>
<rect x="404.8" y="654.2" width="1.5" height="1" fill="#b86a2a"/>
<rect x="392.9" y="649.3" width="1.5" height="1" fill="#2a1a20"/>
<rect x="397.3" y="645.3" width="1" height="1" fill="#a85a28"/>
<rect x="403.0" y="652.0" width="1.5" height="1" fill="#2a1a20"/>
<rect x="397.8" y="645.5" width="1.5" height="1.5" fill="#b86a2a"/>
<rect x="390.4" y="659.0" width="1" height="1" fill="#a85a28"/>
<rect x="265.60" y="526.50" width="151.70" height="151.50" fill="none" stroke="#55583a" stroke-width="0.7"/>
<circle cx="286.3" cy="653.7" r="15" fill="none" stroke="#f21c1c" stroke-width="1.35" stroke-dasharray="3.4 2.1"/>
<rect x="369.60" y="661.50" width="44.20" height="3.2" fill="#fff" stroke="#333" stroke-width="1.0"/>
<text x="391.70" y="671.60" font-size="8.6" text-anchor="middle" fill="#f4f4f4" font-family="Liberation Sans" font-weight="bold" stroke="#2a2a2a" stroke-width="2.3" paint-order="stroke" stroke-linejoin="round">1μm</text>
<text x="302.00" y="643.00" font-size="12.2" text-anchor="start" fill="#000" font-family="Liberation Serif" font-weight="bold" textLength="23.5" lengthAdjust="spacingAndGlyphs">0.1 s</text>
<text x="267.50" y="674.80" font-size="12.2" text-anchor="start" fill="#000" font-family="Liberation Serif" font-weight="bold" textLength="103.3" lengthAdjust="spacingAndGlyphs">0.1~1 s,-1.56 MVcm</text>
<rect x="422.3" y="546.1" width="17.4" height="127.89999999999998" fill="url(#acb422_546)" stroke="#666" stroke-width="0.6"/>
<text x="431.30" y="553.30" font-size="8.6" text-anchor="middle" fill="#222" font-family="Liberation Sans" >180</text>
<text x="431.30" y="613.15" font-size="8.6" text-anchor="middle" fill="#fff" font-family="Liberation Sans" >90.0</text>
<text x="431.30" y="672.70" font-size="8.6" text-anchor="middle" fill="#fff" font-family="Liberation Sans" >0.00</text>
<circle cx="430.5" cy="535.9" r="1.0" fill="none" stroke="#777" stroke-width="0.55"/>
<rect x="499.40" y="526.20" width="152.30" height="152.10" fill="#e6ec70" />
<g opacity="0.6">
<rect x="499.40" y="526.20" width="152.30" height="152.10" fill="#000" filter="url(#aL)" />
<rect x="499.40" y="526.20" width="152.30" height="152.10" fill="#000" filter="url(#aD)" />
</g>
<rect x="499.40" y="526.20" width="152.30" height="152.10" fill="#000" filter="url(#aG)" />
<rect x="571.4" y="586.5" width="1.5" height="2" fill="#c89040" opacity="0.85"/>
<rect x="570.8" y="582.9" width="2" height="2" fill="#b86a2c" opacity="0.85"/>
<rect x="573.0" y="588.8" width="1" height="1" fill="#f8f8e0"/>
<rect x="568.7" y="584.2" width="1" height="1" fill="#201818"/>
<rect x="572.3" y="585.4" width="1" height="1" fill="#f8f8e0"/>
<rect x="514.5" y="626.9" width="1" height="2" fill="#c07a34" opacity="0.85"/>
<rect x="510.4" y="627.9" width="1" height="1.5" fill="#c07a34" opacity="0.85"/>
<rect x="509.2" y="631.4" width="1" height="1" fill="#b86a2c" opacity="0.85"/>
<rect x="511.3" y="629.7" width="1.5" height="1.5" fill="#c07a34" opacity="0.85"/>
<rect x="513.1" y="630.5" width="1" height="2" fill="#b86a2c" opacity="0.85"/>
<rect x="512.9" y="632.2" width="1" height="1.5" fill="#b86a2c" opacity="0.85"/>
<rect x="523.4" y="665.4" width="1" height="1.5" fill="#b86a2c" opacity="0.85"/>
<rect x="518.6" y="666.0" width="1" height="2" fill="#c07a34" opacity="0.85"/>
<rect x="522.6" y="666.8" width="1" height="1" fill="#a85a28" opacity="0.85"/>
<rect x="518.3" y="663.1" width="1" height="2" fill="#a85a28" opacity="0.85"/>
<rect x="520.9" y="661.2" width="1" height="1" fill="#c89040" opacity="0.85"/>
<rect x="522.7" y="666.6" width="1" height="1" fill="#f8f8e0"/>
<rect x="552.6" y="626.7" width="1.5" height="1" fill="#a85a28" opacity="0.85"/>
<rect x="553.5" y="628.7" width="2" height="2" fill="#b86a2c" opacity="0.85"/>
<rect x="553.5" y="630.1" width="1" height="1.5" fill="#b86a2c" opacity="0.85"/>
<rect x="556.2" y="630.4" width="1.5" height="1" fill="#a85a28" opacity="0.85"/>
<rect x="555.0" y="627.3" width="1" height="1" fill="#c89040" opacity="0.85"/>
<rect x="551.7" y="628.1" width="1" height="1" fill="#201818"/>
<rect x="554.8" y="627.7" width="1" height="1" fill="#f8f8e0"/>
<rect x="556.4" y="634.4" width="1" height="1" fill="#302030"/>
<rect x="574.8" y="672.1" width="1" height="2" fill="#a85a28" opacity="0.85"/>
<rect x="582.1" y="670.7" width="1" height="1.5" fill="#c07a34" opacity="0.85"/>
<rect x="580.0" y="669.5" width="1" height="1" fill="#b86a2c" opacity="0.85"/>
<rect x="573.3" y="670.9" width="1.5" height="2" fill="#b86a2c" opacity="0.85"/>
<rect x="579.0" y="669.3" width="1" height="1.5" fill="#a85a28" opacity="0.85"/>
<rect x="581.0" y="668.8" width="1" height="1" fill="#302030"/>
<rect x="606.4" y="540.1" width="1.5" height="2" fill="#c07a34" opacity="0.85"/>
<rect x="603.7" y="536.4" width="2" height="2" fill="#c89040" opacity="0.85"/>
<rect x="601.7" y="542.0" width="1.5" height="2" fill="#c07a34" opacity="0.85"/>
<rect x="606.1" y="540.7" width="1" height="1" fill="#c07a34" opacity="0.85"/>
<rect x="529.5" y="597.6" width="1" height="2" fill="#c89040" opacity="0.85"/>
<rect x="530.1" y="597.4" width="1" height="2" fill="#b86a2c" opacity="0.85"/>
<rect x="528.9" y="596.9" width="1.5" height="2" fill="#a85a28" opacity="0.85"/>
<rect x="528.8" y="597.9" width="1" height="2" fill="#a85a28" opacity="0.85"/>
<rect x="532.9" y="599.0" width="1" height="1" fill="#b86a2c" opacity="0.85"/>
<rect x="528.7" y="599.2" width="1" height="1" fill="#f8f8e0"/>
<rect x="531.0" y="594.6" width="1" height="1" fill="#201818"/>
<rect x="527.9" y="602.0" width="1" height="1" fill="#201818"/>
<rect x="553.3" y="667.6" width="1" height="2" fill="#b86a2c" opacity="0.85"/>
<rect x="553.9" y="668.6" width="1.5" height="2" fill="#b86a2c" opacity="0.85"/>
<rect x="557.0" y="671.0" width="1" height="1" fill="#b86a2c" opacity="0.85"/>
<rect x="559.5" y="671.3" width="2" height="2" fill="#c89040" opacity="0.85"/>
<rect x="560.2" y="671.4" width="1.5" height="1" fill="#a85a28" opacity="0.85"/>
<rect x="576.6" y="593.8" width="1" height="1" fill="#a85a28" opacity="0.85"/>
<rect x="569.0" y="592.6" width="1" height="1" fill="#c07a34" opacity="0.85"/>
<rect x="519.9" y="545.7" width="2" height="1" fill="#c89040" opacity="0.85"/>
<rect x="516.8" y="544.9" width="2" height="1" fill="#c07a34" opacity="0.85"/>
<rect x="521.5" y="546.1" width="2" height="1" fill="#b86a2c" opacity="0.85"/>
<rect x="512.9" y="548.0" width="1" height="1" fill="#c89040" opacity="0.85"/>
<rect x="519.4" y="546.6" width="1.5" height="2" fill="#c07a34" opacity="0.85"/>
<rect x="515.7" y="543.4" width="1" height="1.5" fill="#b86a2c" opacity="0.85"/>
<rect x="522.1" y="545.3" width="1" height="1" fill="#302030"/>
<rect x="640.4" y="657.8" width="1.5" height="1.5" fill="#c07a34" opacity="0.85"/>
<rect x="637.7" y="659.0" width="2" height="1.5" fill="#c89040" opacity="0.85"/>
<rect x="638.6" y="658.4" width="1.5" height="1.5" fill="#c89040" opacity="0.85"/>
<rect x="637.9" y="658.6" width="1" height="1" fill="#302030"/>
<rect x="640.4" y="658.4" width="1" height="1" fill="#302030"/>
<rect x="637.9" y="657.6" width="1" height="1" fill="#f8f8e0"/>
<rect x="560.6" y="664.1" width="2" height="2" fill="#c89040" opacity="0.85"/>
<rect x="556.1" y="663.7" width="1.5" height="1" fill="#b86a2c" opacity="0.85"/>
<rect x="554.4" y="659.0" width="1" height="2" fill="#a85a28" opacity="0.85"/>
<rect x="555.8" y="657.1" width="2" height="1" fill="#c89040" opacity="0.85"/>
<rect x="555.1" y="659.2" width="2" height="1" fill="#b86a2c" opacity="0.85"/>
<rect x="556.5" y="667.2" width="1.5" height="1" fill="#b86a2c" opacity="0.85"/>
<rect x="553.6" y="664.4" width="1" height="1" fill="#f8f8e0"/>
<rect x="624.8" y="673.7" width="2" height="2" fill="#c07a34" opacity="0.85"/>
<rect x="621.5" y="675.5" width="1.5" height="1" fill="#a85a28" opacity="0.85"/>
<rect x="626.1" y="674.1" width="2" height="1" fill="#c07a34" opacity="0.85"/>
<rect x="626.9" y="675.8" width="1" height="1.5" fill="#c89040" opacity="0.85"/>
<rect x="620.0" y="675.1" width="1.5" height="1" fill="#a85a28" opacity="0.85"/>
<rect x="623.0" y="676.3" width="1.5" height="2" fill="#c07a34" opacity="0.85"/>
<rect x="621.6" y="676.3" width="1" height="1" fill="#302030"/>
<rect x="612.1" y="535.5" width="1" height="2" fill="#b86a2c" opacity="0.85"/>
<rect x="609.8" y="536.3" width="2" height="2" fill="#c07a34" opacity="0.85"/>
<rect x="612.9" y="534.8" width="1" height="2" fill="#c89040" opacity="0.85"/>
<rect x="625.7" y="676.3" width="1.5" height="1.5" fill="#c89040" opacity="0.85"/>
<rect x="623.7" y="676.3" width="1" height="2" fill="#b86a2c" opacity="0.85"/>
<rect x="631.9" y="673.3" width="1" height="1.5" fill="#a85a28" opacity="0.85"/>
<rect x="629.8" y="673.7" width="2" height="1" fill="#b86a2c" opacity="0.85"/>
<rect x="629.5" y="675.0" width="2" height="1" fill="#c07a34" opacity="0.85"/>
<rect x="630.4" y="676.3" width="2" height="2" fill="#c07a34" opacity="0.85"/>
<rect x="626.7" y="676.3" width="1" height="1" fill="#302030"/>
<rect x="626.2" y="676.3" width="1" height="1" fill="#201818"/>
<rect x="567.1" y="674.9" width="2" height="2" fill="#c07a34" opacity="0.85"/>
<rect x="571.2" y="667.4" width="1" height="1" fill="#f8f8e0"/>
<rect x="570.1" y="673.1" width="1" height="1" fill="#302030"/>
<rect x="570.4" y="673.1" width="1" height="1" fill="#f8f8e0"/>
<rect x="526.3" y="652.1" width="1.5" height="2" fill="#a85a28" opacity="0.85"/>
<rect x="528.2" y="656.9" width="1.5" height="2" fill="#b86a2c" opacity="0.85"/>
<rect x="531.8" y="653.8" width="2" height="2" fill="#c89040" opacity="0.85"/>
<rect x="526.6" y="657.8" width="1" height="1" fill="#c07a34" opacity="0.85"/>
<rect x="527.1" y="654.1" width="1.5" height="1.5" fill="#c07a34" opacity="0.85"/>
<rect x="531.5" y="654.1" width="1.5" height="1.5" fill="#a85a28" opacity="0.85"/>
<rect x="525.8" y="658.8" width="1" height="1" fill="#f8f8e0"/>
<rect x="527.7" y="652.6" width="1" height="1" fill="#201818"/>
<rect x="516.5" y="556.5" width="1.5" height="1.5" fill="#b86a2c" opacity="0.85"/>
<rect x="516.5" y="560.7" width="1.5" height="1" fill="#b86a2c" opacity="0.85"/>
<rect x="514.7" y="560.7" width="2" height="1.5" fill="#a85a28" opacity="0.85"/>
<rect x="516.5" y="558.0" width="1" height="1" fill="#f8f8e0"/>
<rect x="579.8" y="588.4" width="1.5" height="1.5" fill="#a85a28" opacity="0.85"/>
<rect x="572.3" y="591.1" width="1.5" height="2" fill="#b86a2c" opacity="0.85"/>
<rect x="630.7" y="647.9" width="1.5" height="1.5" fill="#a85a28" opacity="0.85"/>
<rect x="637.0" y="651.9" width="1.5" height="2" fill="#c07a34" opacity="0.85"/>
<rect x="633.0" y="650.2" width="2" height="2" fill="#a85a28" opacity="0.85"/>
<rect x="631.6" y="650.0" width="1.5" height="1" fill="#c89040" opacity="0.85"/>
<rect x="631.9" y="651.2" width="2" height="1.5" fill="#c07a34" opacity="0.85"/>
<rect x="630.7" y="648.7" width="2" height="1" fill="#b86a2c" opacity="0.85"/>
<rect x="527.8" y="618.5" width="1" height="1" fill="#a85a28" opacity="0.85"/>
<rect x="533.4" y="621.5" width="1" height="1" fill="#a85a28" opacity="0.85"/>
<rect x="528.0" y="619.2" width="1.5" height="2" fill="#a85a28" opacity="0.85"/>
<rect x="533.8" y="618.3" width="1.5" height="1" fill="#c89040" opacity="0.85"/>
<rect x="511.4" y="643.2" width="1" height="2" fill="#c07a34" opacity="0.85"/>
<rect x="516.0" y="639.7" width="1.5" height="2" fill="#c89040" opacity="0.85"/>
<rect x="516.2" y="638.8" width="1" height="2" fill="#a85a28" opacity="0.85"/>
<rect x="510.8" y="641.0" width="2" height="2" fill="#a85a28" opacity="0.85"/>
<rect x="513.6" y="638.5" width="1" height="1.5" fill="#c89040" opacity="0.85"/>
<rect x="517.6" y="636.2" width="1.5" height="1.5" fill="#c07a34" opacity="0.85"/>
<rect x="512.8" y="637.8" width="1" height="1" fill="#f8f8e0"/>
<rect x="550.3" y="598.1" width="1" height="2" fill="#a85a28" opacity="0.85"/>
<rect x="548.4" y="599.6" width="1.5" height="1.5" fill="#b86a2c" opacity="0.85"/>
<rect x="548.1" y="600.4" width="1.5" height="1.5" fill="#c89040" opacity="0.85"/>
<rect x="649.7" y="550.6" width="1" height="1" fill="#a85a28" opacity="0.85"/>
<rect x="649.7" y="552.8" width="1" height="1.5" fill="#c07a34" opacity="0.85"/>
<rect x="648.3" y="553.3" width="1" height="1" fill="#c07a34" opacity="0.85"/>
<rect x="647.8" y="554.7" width="1" height="1" fill="#c07a34" opacity="0.85"/>
<rect x="645.1" y="552.7" width="1.5" height="2" fill="#a85a28" opacity="0.85"/>
<rect x="645.6" y="553.0" width="1" height="1.5" fill="#a85a28" opacity="0.85"/>
<rect x="647.6" y="551.0" width="1" height="1" fill="#201818"/>
<rect x="588.3" y="584.7" width="2" height="1.5" fill="#c89040" opacity="0.85"/>
<rect x="587.4" y="583.6" width="1" height="1" fill="#a85a28" opacity="0.85"/>
<rect x="591.8" y="583.2" width="2" height="2" fill="#b86a2c" opacity="0.85"/>
<rect x="591.3" y="584.8" width="2" height="1.5" fill="#a85a28" opacity="0.85"/>
<rect x="589.9" y="581.9" width="1" height="1" fill="#f8f8e0"/>
<rect x="639.7" y="619.1" width="1.5" height="1" fill="#a85a28" opacity="0.85"/>
<rect x="640.9" y="619.3" width="1" height="1.5" fill="#b86a2c" opacity="0.85"/>
<rect x="643.3" y="621.4" width="1" height="2" fill="#c07a34" opacity="0.85"/>
<rect x="593.6" y="584.5" width="2" height="2" fill="#c89040" opacity="0.85"/>
<rect x="595.5" y="588.4" width="1" height="2" fill="#c07a34" opacity="0.85"/>
<rect x="596.1" y="589.9" width="1" height="1.5" fill="#b86a2c" opacity="0.85"/>
<rect x="591.5" y="586.5" width="2" height="1" fill="#b86a2c" opacity="0.85"/>
<rect x="595.4" y="582.8" width="1" height="1" fill="#f8f8e0"/>
<rect x="527.5" y="625.3" width="1" height="2" fill="#a85a28" opacity="0.85"/>
<rect x="524.0" y="622.8" width="1" height="1" fill="#b86a2c" opacity="0.85"/>
<rect x="526.1" y="622.5" width="2" height="1.5" fill="#b86a2c" opacity="0.85"/>
<rect x="612.7" y="649.5" width="2" height="1" fill="#c89040" opacity="0.85"/>
<rect x="607.8" y="651.2" width="2" height="2" fill="#c07a34" opacity="0.85"/>
<rect x="612.3" y="653.0" width="1.5" height="1" fill="#c89040" opacity="0.85"/>
<rect x="610.8" y="648.8" width="1" height="1" fill="#f8f8e0"/>
<rect x="557.4" y="642.2" width="1.5" height="1" fill="#b86a2c" opacity="0.85"/>
<rect x="557.8" y="645.4" width="1" height="1.5" fill="#b86a2c" opacity="0.85"/>
<rect x="559.1" y="642.5" width="2" height="1" fill="#c07a34" opacity="0.85"/>
<rect x="555.3" y="644.7" width="1" height="2" fill="#a85a28" opacity="0.85"/>
<rect x="554.2" y="643.5" width="1" height="2" fill="#c89040" opacity="0.85"/>
<rect x="552.9" y="648.3" width="1" height="1" fill="#302030"/>
<rect x="553.1" y="643.6" width="1" height="1" fill="#302030"/>
<rect x="557.3" y="644.5" width="1" height="1" fill="#302030"/>
<rect x="584.3" y="549.6" width="2" height="1" fill="#a85a28" opacity="0.85"/>
<rect x="585.6" y="549.4" width="1" height="1" fill="#b86a2c" opacity="0.85"/>
<rect x="588.3" y="550.0" width="1" height="1" fill="#302030"/>
<rect x="588.0" y="550.5" width="1" height="1" fill="#302030"/>
<rect x="533.6" y="647.6" width="2" height="1.5" fill="#a85a28" opacity="0.85"/>
<rect x="533.5" y="645.2" width="1" height="1" fill="#a85a28" opacity="0.85"/>
<rect x="532.5" y="641.6" width="1" height="1.5" fill="#c89040" opacity="0.85"/>
<rect x="530.6" y="641.9" width="2" height="2" fill="#b86a2c" opacity="0.85"/>
<rect x="534.6" y="648.2" width="1" height="1" fill="#302030"/>
<rect x="532.8" y="650.9" width="1" height="1" fill="#302030"/>
<rect x="571.4" y="532.8" width="1.5" height="1" fill="#c89040" opacity="0.85"/>
<rect x="571.5" y="534.0" width="2" height="1.5" fill="#a85a28" opacity="0.85"/>
<rect x="569.2" y="535.5" width="1" height="1.5" fill="#c07a34" opacity="0.85"/>
<rect x="571.2" y="532.7" width="1.5" height="1.5" fill="#a85a28" opacity="0.85"/>
<rect x="591.6" y="670.4" width="1.5" height="1" fill="#a85a28" opacity="0.85"/>
<rect x="594.8" y="669.8" width="1.5" height="1.5" fill="#c89040" opacity="0.85"/>
<rect x="593.8" y="668.4" width="1.5" height="1.5" fill="#c07a34" opacity="0.85"/>
<rect x="596.4" y="668.3" width="1.5" height="1" fill="#a85a28" opacity="0.85"/>
<rect x="595.2" y="668.1" width="1.5" height="1" fill="#c89040" opacity="0.85"/>
<rect x="592.8" y="667.8" width="2" height="1" fill="#c89040" opacity="0.85"/>
<rect x="592.2" y="668.7" width="1" height="1" fill="#f8f8e0"/>
<rect x="557.0" y="579.1" width="1.5" height="1.5" fill="#c07a34" opacity="0.85"/>
<rect x="620.7" y="559.7" width="2" height="2" fill="#a85a28" opacity="0.85"/>
<rect x="618.8" y="560.3" width="1" height="2" fill="#c07a34" opacity="0.85"/>
<rect x="500.7" y="668.8" width="2" height="2" fill="#c89040" opacity="0.85"/>
<rect x="504.5" y="669.6" width="1" height="1.5" fill="#b86a2c" opacity="0.85"/>
<rect x="505.3" y="664.1" width="1" height="1" fill="#302030"/>
<rect x="504.7" y="671.2" width="1" height="1" fill="#302030"/>
<rect x="612.2" y="538.2" width="2" height="2" fill="#b86a2c" opacity="0.85"/>
<rect x="614.2" y="534.9" width="1.5" height="1" fill="#b86a2c" opacity="0.85"/>
<rect x="614.4" y="528.0" width="2" height="2" fill="#a85a28" opacity="0.85"/>
<rect x="613.9" y="534.2" width="1" height="1" fill="#302030"/>
<rect x="613.3" y="538.2" width="1" height="1" fill="#f8f8e0"/>
<rect x="613.1" y="535.5" width="1" height="1" fill="#201818"/>
<rect x="608.2" y="535.5" width="1" height="1" fill="#a85a28" opacity="0.85"/>
<rect x="608.7" y="536.1" width="1" height="2" fill="#c07a34" opacity="0.85"/>
<rect x="610.7" y="534.6" width="1.5" height="2" fill="#c07a34" opacity="0.85"/>
<rect x="606.7" y="534.9" width="2" height="2" fill="#b86a2c" opacity="0.85"/>
<rect x="608.2" y="537.1" width="1" height="1.5" fill="#b86a2c" opacity="0.85"/>
<rect x="636.1" y="661.1" width="1.5" height="1" fill="#b86a2c" opacity="0.85"/>
<rect x="637.4" y="659.9" width="1.5" height="1.5" fill="#c89040" opacity="0.85"/>
<rect x="636.6" y="663.8" width="1" height="2" fill="#b86a2c" opacity="0.85"/>
<rect x="639.7" y="658.2" width="1" height="1" fill="#c07a34" opacity="0.85"/>
<rect x="599.6" y="620.4" width="1.5" height="1" fill="#c07a34" opacity="0.85"/>
<rect x="596.1" y="621.1" width="1" height="1" fill="#a85a28" opacity="0.85"/>
<rect x="597.5" y="623.1" width="1" height="1" fill="#f8f8e0"/>
<rect x="603.3" y="616.1" width="1" height="1" fill="#201818"/>
<rect x="552.0" y="545.0" width="2" height="2" fill="#c07a34" opacity="0.85"/>
<rect x="550.4" y="544.6" width="2" height="1.5" fill="#c07a34" opacity="0.85"/>
<rect x="554.9" y="546.8" width="1.5" height="1.5" fill="#b86a2c" opacity="0.85"/>
<rect x="554.4" y="546.2" width="1.5" height="1" fill="#c89040" opacity="0.85"/>
<rect x="556.1" y="545.6" width="1" height="2" fill="#b86a2c" opacity="0.85"/>
<rect x="552.9" y="540.2" width="1.5" height="1.5" fill="#b86a2c" opacity="0.85"/>
<rect x="613.2" y="668.5" width="1" height="2" fill="#b86a2c" opacity="0.85"/>
<rect x="619.2" y="671.6" width="2" height="1.5" fill="#c89040" opacity="0.85"/>
<rect x="614.0" y="669.7" width="2" height="2" fill="#c89040" opacity="0.85"/>
<rect x="613.3" y="667.0" width="1" height="1" fill="#f8f8e0"/>
<rect x="615.7" y="669.0" width="1" height="1" fill="#f8f8e0"/>
<rect x="577.1" y="599.2" width="1.5" height="1" fill="#b86a2c" opacity="0.85"/>
<rect x="579.7" y="595.0" width="1" height="2" fill="#c07a34" opacity="0.85"/>
<rect x="633.8" y="637.5" width="2" height="2" fill="#b86a2c" opacity="0.85"/>
<rect x="630.5" y="635.9" width="2" height="1" fill="#c89040" opacity="0.85"/>
<rect x="628.8" y="638.5" width="1" height="1" fill="#f8f8e0"/>
<g filter="url(#blob2)"><g transform="translate(524.9,545.0) scale(0.830,1.204) translate(-524.9,-545.0)">
<path d="M530.4,543.6 Q530.9,545.1 530.6,546.7 Q530.3,548.3 528.9,549.0 Q527.4,549.7 526.1,549.7 Q524.7,549.8 523.3,550.0 Q521.8,550.1 520.3,549.3 Q518.8,548.5 518.1,546.8 Q517.5,545.1 517.9,543.2 Q518.3,541.3 519.5,539.8 Q520.8,538.2 522.8,537.8 Q524.7,537.4 526.4,538.4 Q528.1,539.3 529.0,540.7 Q529.9,542.1 530.4,543.6Z" fill="#b8682a"/>
<path d="M528.9,543.9 Q529.2,545.0 529.1,546.2 Q529.0,547.3 528.1,548.3 Q527.3,549.2 526.1,549.5 Q524.9,549.8 523.7,549.5 Q522.4,549.2 521.6,548.3 Q520.8,547.4 520.2,546.2 Q519.7,545.0 519.9,543.6 Q520.1,542.2 521.3,541.6 Q522.6,541.0 523.8,541.0 Q524.9,540.9 526.0,541.0 Q527.2,541.1 527.9,541.9 Q528.7,542.8 528.9,543.9Z" fill="#6a2270"/>
<path d="M529.1,543.9 Q529.4,545.0 529.1,546.1 Q528.7,547.2 528.0,548.2 Q527.4,549.3 526.1,549.8 Q524.9,550.4 523.6,549.9 Q522.4,549.4 521.7,548.3 Q521.0,547.3 520.7,546.1 Q520.5,545.0 520.7,543.8 Q520.9,542.7 521.7,541.8 Q522.6,541.0 523.7,540.8 Q524.9,540.6 526.0,540.9 Q527.1,541.2 528.0,542.0 Q528.9,542.7 529.1,543.9Z" fill="#2c0a68"/>
<path d="M527.5,544.2 Q528.0,545.0 527.9,546.2 Q527.8,547.3 526.8,547.9 Q525.7,548.5 524.7,548.2 Q523.6,547.9 522.9,547.3 Q522.2,546.7 521.8,545.9 Q521.4,545.0 521.7,544.0 Q522.0,543.1 522.8,542.6 Q523.7,542.1 524.6,542.3 Q525.4,542.4 526.2,542.9 Q526.9,543.3 527.5,544.2Z" fill="#180446"/>
</g></g>
<rect x="521.6" y="551.7" width="1.5" height="1.5" fill="#a85a28"/>
<rect x="534.2" y="543.5" width="1.5" height="1" fill="#2a1a20"/>
<rect x="523.7" y="538.2" width="1.5" height="1" fill="#3a1a40"/>
<rect x="532.1" y="542.8" width="1.5" height="1" fill="#b86a2a"/>
<rect x="530.0" y="539.2" width="1.5" height="1" fill="#a85a28"/>
<rect x="526.4" y="553.4" width="1.5" height="1" fill="#a85a28"/>
<g filter="url(#blob2)"><g transform="translate(559.9,545.0) scale(0.830,1.204) translate(-559.9,-545.0)">
<path d="M565.7,543.3 Q566.0,544.8 565.7,546.4 Q565.3,547.9 564.2,549.0 Q563.2,550.2 561.6,550.6 Q560.1,551.0 558.7,550.3 Q557.4,549.6 556.7,548.4 Q556.1,547.2 555.4,546.0 Q554.8,544.8 554.5,543.2 Q554.3,541.5 555.6,540.5 Q557.0,539.5 558.5,539.3 Q560.1,539.2 561.6,539.3 Q563.2,539.5 564.3,540.6 Q565.3,541.8 565.7,543.3Z" fill="#b8682a"/>
<path d="M564.1,543.9 Q564.4,545.0 564.2,546.2 Q564.0,547.4 563.2,548.3 Q562.3,549.2 561.1,549.6 Q559.9,550.0 558.6,549.7 Q557.4,549.4 556.5,548.4 Q555.7,547.4 555.4,546.2 Q555.1,545.0 555.5,543.8 Q555.9,542.7 556.6,541.7 Q557.4,540.7 558.7,540.3 Q559.9,540.0 561.0,540.5 Q562.2,541.1 562.9,541.9 Q563.7,542.8 564.1,543.9Z" fill="#6a2270"/>
<path d="M563.8,543.9 Q563.9,545.0 563.9,546.1 Q563.8,547.2 563.1,548.3 Q562.4,549.3 561.2,549.7 Q559.9,550.0 558.6,549.7 Q557.4,549.4 556.6,548.4 Q555.7,547.4 555.5,546.2 Q555.3,545.0 555.4,543.7 Q555.5,542.5 556.5,541.6 Q557.4,540.7 558.7,540.6 Q559.9,540.5 561.1,540.7 Q562.2,540.9 563.0,541.9 Q563.7,542.8 563.8,543.9Z" fill="#2c0a68"/>
<path d="M562.1,544.2 Q562.6,545.0 562.6,546.1 Q562.5,547.1 561.6,547.8 Q560.8,548.6 559.6,548.4 Q558.5,548.3 557.8,547.6 Q557.0,546.9 556.7,545.9 Q556.4,545.0 556.8,544.2 Q557.3,543.3 558.0,542.8 Q558.7,542.4 559.6,542.3 Q560.5,542.3 561.1,542.9 Q561.7,543.5 562.1,544.2Z" fill="#180446"/>
</g></g>
<rect x="554.5" y="541.4" width="1" height="1" fill="#a85a28"/>
<rect x="551.7" y="549.1" width="1.5" height="1" fill="#2a1a20"/>
<rect x="567.8" y="540.5" width="1" height="1" fill="#b86a2a"/>
<rect x="562.7" y="536.9" width="1" height="1" fill="#2a1a20"/>
<rect x="560.4" y="552.6" width="1.5" height="1" fill="#3a1a40"/>
<rect x="567.6" y="547.2" width="1" height="1" fill="#b86a2a"/>
<g filter="url(#blob2)"><g transform="translate(596.4,545.0) scale(0.830,1.204) translate(-596.4,-545.0)">
<path d="M602.9,543.0 Q603.7,544.5 603.2,546.2 Q602.6,547.9 601.0,548.5 Q599.4,549.2 598.1,549.3 Q596.8,549.5 595.3,549.6 Q593.8,549.7 592.2,548.9 Q590.7,548.0 590.6,546.3 Q590.5,544.5 591.6,543.4 Q592.7,542.2 593.7,541.6 Q594.8,541.1 595.8,540.3 Q596.8,539.6 598.3,539.5 Q599.8,539.4 600.9,540.4 Q602.1,541.4 602.9,543.0Z" fill="#b8682a"/>
<path d="M600.9,543.8 Q601.4,545.0 601.1,546.3 Q600.8,547.5 599.9,548.5 Q599.0,549.5 597.7,549.7 Q596.4,549.9 595.2,549.5 Q594.0,549.2 592.8,548.5 Q591.6,547.8 591.2,546.4 Q590.7,545.0 591.1,543.6 Q591.4,542.1 592.4,540.9 Q593.3,539.6 594.9,539.4 Q596.4,539.2 597.6,540.1 Q598.7,541.0 599.6,541.8 Q600.4,542.7 600.9,543.8Z" fill="#6a2270"/>
<path d="M600.6,543.9 Q600.8,545.0 600.6,546.2 Q600.4,547.3 599.7,548.4 Q599.0,549.5 597.7,549.7 Q596.4,549.9 595.4,549.2 Q594.4,548.5 593.6,547.8 Q592.8,547.1 592.2,546.0 Q591.5,545.0 591.8,543.8 Q592.1,542.5 593.1,541.8 Q594.1,541.0 595.3,540.9 Q596.4,540.7 597.5,540.9 Q598.6,541.2 599.5,541.9 Q600.4,542.7 600.6,543.9Z" fill="#2c0a68"/>
<path d="M598.8,544.2 Q599.3,545.0 599.2,546.1 Q599.1,547.2 598.1,547.7 Q597.1,548.2 596.2,548.0 Q595.2,547.7 594.5,547.2 Q593.8,546.6 593.4,545.8 Q593.0,545.0 593.1,543.9 Q593.2,542.9 594.1,542.3 Q595.1,541.8 596.0,542.1 Q596.9,542.4 597.6,542.9 Q598.3,543.4 598.8,544.2Z" fill="#180446"/>
</g></g>
<rect x="591.6" y="550.7" width="1.5" height="1" fill="#3a1a40"/>
<rect x="602.7" y="542.4" width="1" height="1.5" fill="#3a1a40"/>
<rect x="593.5" y="549.9" width="1" height="1.5" fill="#2a1a20"/>
<rect x="590.6" y="538.8" width="1" height="1" fill="#3a1a40"/>
<rect x="595.3" y="552.5" width="1" height="1" fill="#a85a28"/>
<rect x="602.1" y="544.7" width="1.5" height="1" fill="#a85a28"/>
<g filter="url(#blob2)"><g transform="translate(633.2,545.0) scale(0.830,1.204) translate(-633.2,-545.0)">
<path d="M639.6,543.5 Q640.0,545.2 639.2,546.6 Q638.4,548.0 637.4,549.1 Q636.4,550.1 635.0,551.2 Q633.5,552.2 631.6,552.1 Q629.6,552.0 628.2,550.5 Q626.7,549.1 626.7,547.1 Q626.7,545.2 627.4,543.6 Q628.2,542.1 629.2,540.7 Q630.1,539.3 631.8,538.7 Q633.5,538.1 635.2,538.8 Q636.8,539.5 638.0,540.7 Q639.2,541.9 639.6,543.5Z" fill="#b8682a"/>
<path d="M637.7,543.8 Q638.1,545.0 637.8,546.3 Q637.6,547.5 636.6,548.3 Q635.6,549.1 634.4,549.2 Q633.2,549.3 632.1,549.1 Q631.0,548.9 629.8,548.2 Q628.7,547.6 628.1,546.3 Q627.4,545.0 627.9,543.6 Q628.5,542.3 629.6,541.6 Q630.8,540.9 632.0,540.7 Q633.2,540.5 634.3,540.8 Q635.4,541.1 636.3,541.9 Q637.2,542.7 637.7,543.8Z" fill="#6a2270"/>
<path d="M637.2,543.9 Q637.2,545.0 637.0,546.0 Q636.7,547.0 636.1,548.1 Q635.6,549.1 634.4,549.4 Q633.2,549.7 632.1,549.3 Q630.9,548.9 630.1,548.1 Q629.3,547.3 629.1,546.1 Q629.0,545.0 629.4,544.0 Q629.9,543.1 630.6,542.4 Q631.3,541.7 632.3,541.3 Q633.2,541.0 634.3,541.1 Q635.4,541.2 636.3,542.0 Q637.1,542.7 637.2,543.9Z" fill="#2c0a68"/>
<path d="M636.0,544.0 Q636.4,545.0 636.1,546.1 Q635.9,547.2 634.9,547.8 Q634.0,548.4 632.9,548.5 Q631.8,548.5 631.0,547.8 Q630.2,547.0 630.1,546.0 Q630.1,545.0 630.4,544.2 Q630.6,543.3 631.2,542.5 Q631.8,541.7 632.9,541.6 Q634.1,541.4 634.9,542.2 Q635.7,543.0 636.0,544.0Z" fill="#180446"/>
</g></g>
<rect x="634.3" y="537.8" width="1" height="1" fill="#b86a2a"/>
<rect x="638.6" y="541.0" width="1" height="1.5" fill="#2a1a20"/>
<rect x="633.6" y="536.9" width="1" height="1.5" fill="#2a1a20"/>
<rect x="634.6" y="552.1" width="1" height="1.5" fill="#b86a2a"/>
<rect x="638.6" y="538.8" width="1" height="1" fill="#2a1a20"/>
<rect x="641.0" y="543.2" width="1" height="1" fill="#b86a2a"/>
<g filter="url(#blob2)"><g transform="translate(524.9,581.8) scale(0.830,1.204) translate(-524.9,-581.8)">
<path d="M530.2,579.9 Q530.5,581.2 530.2,582.6 Q530.0,584.0 528.8,584.7 Q527.6,585.4 526.4,585.6 Q525.2,585.7 524.0,585.4 Q522.9,585.1 521.6,584.5 Q520.4,584.0 519.7,582.6 Q519.0,581.2 519.7,579.9 Q520.5,578.5 521.4,577.4 Q522.4,576.3 523.8,575.4 Q525.2,574.5 526.8,575.0 Q528.4,575.5 529.1,577.0 Q529.8,578.5 530.2,579.9Z" fill="#b8682a"/>
<path d="M530.4,580.4 Q531.0,581.8 530.4,583.2 Q529.8,584.6 528.6,585.3 Q527.3,586.0 526.1,586.5 Q524.9,587.1 523.4,587.1 Q521.9,587.1 520.7,586.0 Q519.6,584.8 519.4,583.3 Q519.1,581.8 519.4,580.3 Q519.6,578.8 520.8,577.8 Q522.0,576.8 523.5,577.0 Q524.9,577.2 526.1,577.5 Q527.2,577.8 528.5,578.4 Q529.7,579.0 530.4,580.4Z" fill="#6a2270"/>
<path d="M528.9,580.7 Q529.1,581.8 529.0,582.9 Q528.8,584.1 528.1,585.1 Q527.4,586.1 526.1,586.4 Q524.9,586.7 523.9,586.0 Q522.8,585.4 522.3,584.5 Q521.7,583.6 521.3,582.7 Q520.9,581.8 520.9,580.6 Q520.9,579.5 521.6,578.5 Q522.4,577.5 523.7,577.4 Q524.9,577.2 526.0,577.7 Q527.0,578.1 527.8,578.9 Q528.6,579.7 528.9,580.7Z" fill="#2c0a68"/>
<path d="M527.5,580.9 Q528.0,581.8 527.8,582.9 Q527.5,583.9 526.6,584.5 Q525.6,585.0 524.6,585.1 Q523.5,585.3 522.6,584.6 Q521.8,583.9 521.6,582.8 Q521.5,581.8 521.6,580.8 Q521.8,579.8 522.6,579.0 Q523.5,578.3 524.5,578.5 Q525.6,578.7 526.3,579.4 Q527.0,580.1 527.5,580.9Z" fill="#180446"/>
</g></g>
<rect x="520.0" y="575.2" width="1.5" height="1.5" fill="#3a1a40"/>
<rect x="518.3" y="579.2" width="1.5" height="1" fill="#a85a28"/>
<rect x="524.8" y="589.6" width="1" height="1.5" fill="#b86a2a"/>
<rect x="529.6" y="588.4" width="1" height="1" fill="#2a1a20"/>
<rect x="520.6" y="577.5" width="1.5" height="1.5" fill="#a85a28"/>
<rect x="519.0" y="579.6" width="1.5" height="1" fill="#a85a28"/>
<g filter="url(#blob2)"><g transform="translate(559.9,581.8) scale(0.830,1.204) translate(-559.9,-581.8)">
<path d="M566.1,580.9 Q567.1,582.2 566.8,584.0 Q566.5,585.8 564.9,586.6 Q563.4,587.5 561.9,587.8 Q560.4,588.1 558.8,587.8 Q557.3,587.6 556.1,586.5 Q554.8,585.5 554.4,583.9 Q554.0,582.2 554.6,580.7 Q555.1,579.2 556.0,577.7 Q556.9,576.2 558.6,575.6 Q560.4,575.0 561.8,576.1 Q563.3,577.2 564.2,578.4 Q565.2,579.5 566.1,580.9Z" fill="#b8682a"/>
<path d="M564.7,580.5 Q564.9,581.8 564.4,583.0 Q563.9,584.1 563.0,584.9 Q562.2,585.7 561.0,586.1 Q559.9,586.4 558.5,586.5 Q557.2,586.5 556.0,585.6 Q554.7,584.8 554.6,583.3 Q554.4,581.8 555.1,580.6 Q555.8,579.4 556.8,578.7 Q557.7,578.0 558.8,577.4 Q559.9,576.9 561.3,577.0 Q562.6,577.1 563.6,578.1 Q564.5,579.1 564.7,580.5Z" fill="#6a2270"/>
<path d="M564.3,580.6 Q564.7,581.8 564.3,583.0 Q563.9,584.1 562.9,584.6 Q561.8,585.1 560.9,585.3 Q559.9,585.5 558.8,585.5 Q557.8,585.5 557.0,584.7 Q556.3,583.9 556.1,582.8 Q555.9,581.8 556.1,580.8 Q556.4,579.8 557.1,579.0 Q557.8,578.2 558.9,577.9 Q559.9,577.5 561.1,577.6 Q562.2,577.7 563.1,578.6 Q564.0,579.5 564.3,580.6Z" fill="#2c0a68"/>
<path d="M562.5,581.0 Q563.1,581.8 562.8,582.9 Q562.6,584.0 561.6,584.5 Q560.7,585.1 559.6,585.2 Q558.5,585.3 557.5,584.7 Q556.5,584.1 556.3,582.9 Q556.0,581.8 556.6,580.9 Q557.2,580.1 558.0,579.7 Q558.8,579.3 559.6,579.4 Q560.4,579.5 561.1,579.8 Q561.8,580.2 562.5,581.0Z" fill="#180446"/>
</g></g>
<rect x="564.3" y="577.2" width="1" height="1.5" fill="#3a1a40"/>
<rect x="561.2" y="587.2" width="1" height="1.5" fill="#b86a2a"/>
<rect x="568.0" y="584.2" width="1" height="1" fill="#3a1a40"/>
<rect x="566.1" y="574.7" width="1" height="1.5" fill="#2a1a20"/>
<rect x="561.9" y="576.1" width="1" height="1" fill="#b86a2a"/>
<rect x="564.8" y="588.6" width="1" height="1" fill="#3a1a40"/>
<g filter="url(#blob2)"><g transform="translate(596.4,581.8) scale(0.830,1.204) translate(-596.4,-581.8)">
<path d="M601.7,580.0 Q602.3,581.3 602.5,583.0 Q602.6,584.8 601.5,586.2 Q600.3,587.7 598.5,588.3 Q596.6,588.9 594.9,588.1 Q593.2,587.3 592.7,585.6 Q592.2,583.8 591.9,582.6 Q591.6,581.3 591.3,579.7 Q591.0,578.1 592.3,577.0 Q593.5,576.0 595.1,576.1 Q596.6,576.3 597.9,576.6 Q599.1,576.9 600.1,577.9 Q601.0,578.8 601.7,580.0Z" fill="#b8682a"/>
<path d="M600.9,580.6 Q601.1,581.8 600.5,582.8 Q599.9,583.8 599.2,584.7 Q598.6,585.6 597.5,586.3 Q596.4,587.0 595.1,586.7 Q593.7,586.5 592.8,585.4 Q591.9,584.4 591.8,583.1 Q591.7,581.8 592.1,580.7 Q592.6,579.6 593.4,578.8 Q594.2,578.0 595.3,577.7 Q596.4,577.4 597.6,577.6 Q598.7,577.8 599.7,578.6 Q600.7,579.3 600.9,580.6Z" fill="#6a2270"/>
<path d="M600.6,580.6 Q600.7,581.8 600.5,582.9 Q600.3,584.0 599.4,584.8 Q598.6,585.5 597.5,585.6 Q596.4,585.7 595.4,585.5 Q594.4,585.3 593.4,584.7 Q592.5,584.1 592.0,582.9 Q591.6,581.8 592.1,580.7 Q592.7,579.6 593.5,578.9 Q594.3,578.1 595.3,577.5 Q596.4,576.8 597.7,577.1 Q599.0,577.3 599.7,578.4 Q600.4,579.5 600.6,580.6Z" fill="#2c0a68"/>
<path d="M598.4,581.1 Q598.7,581.8 598.5,582.6 Q598.2,583.4 597.6,583.8 Q596.9,584.3 596.1,584.2 Q595.3,584.1 594.7,583.7 Q594.1,583.3 593.6,582.5 Q593.2,581.8 593.4,580.9 Q593.6,580.0 594.4,579.4 Q595.1,578.8 596.1,579.0 Q597.0,579.1 597.6,579.7 Q598.1,580.3 598.4,581.1Z" fill="#180446"/>
</g></g>
<rect x="593.4" y="574.4" width="1.5" height="1" fill="#b86a2a"/>
<rect x="593.0" y="573.1" width="1.5" height="1.5" fill="#b86a2a"/>
<rect x="591.0" y="585.7" width="1" height="1" fill="#a85a28"/>
<rect x="591.1" y="586.3" width="1" height="1" fill="#2a1a20"/>
<rect x="596.9" y="589.2" width="1" height="1.5" fill="#3a1a40"/>
<rect x="605.1" y="581.3" width="1.5" height="1" fill="#2a1a20"/>
<g filter="url(#blob2)"><g transform="translate(633.2,581.8) scale(0.830,1.204) translate(-633.2,-581.8)">
<path d="M639.9,580.4 Q640.2,582.1 639.4,583.6 Q638.6,585.0 637.5,586.1 Q636.5,587.2 635.1,587.7 Q633.6,588.2 632.0,587.9 Q630.5,587.6 629.4,586.4 Q628.3,585.2 627.8,583.7 Q627.3,582.1 627.7,580.5 Q628.1,578.9 629.4,578.0 Q630.7,577.2 632.2,576.4 Q633.6,575.6 635.4,575.7 Q637.2,575.8 638.5,577.2 Q639.7,578.6 639.9,580.4Z" fill="#b8682a"/>
<path d="M638.2,580.5 Q638.8,581.8 638.5,583.3 Q638.3,584.7 637.0,585.5 Q635.8,586.4 634.5,586.8 Q633.2,587.2 631.8,586.9 Q630.4,586.6 629.5,585.6 Q628.6,584.5 628.2,583.1 Q627.8,581.8 628.3,580.5 Q628.7,579.2 629.6,578.2 Q630.6,577.3 631.9,576.8 Q633.2,576.3 634.6,576.7 Q635.9,577.1 636.8,578.2 Q637.6,579.2 638.2,580.5Z" fill="#6a2270"/>
<path d="M637.3,580.8 Q637.8,581.8 637.5,582.9 Q637.2,584.1 636.3,584.8 Q635.4,585.6 634.3,585.9 Q633.2,586.2 632.0,586.0 Q630.9,585.8 629.9,585.0 Q628.9,584.3 628.6,583.0 Q628.3,581.8 628.6,580.6 Q629.0,579.4 629.9,578.5 Q630.8,577.7 632.0,577.5 Q633.2,577.4 634.2,577.8 Q635.2,578.3 636.0,579.0 Q636.8,579.7 637.3,580.8Z" fill="#2c0a68"/>
<path d="M636.3,580.7 Q636.7,581.8 636.3,582.8 Q635.8,583.9 634.9,584.4 Q633.9,585.0 632.9,585.1 Q631.8,585.1 630.9,584.5 Q630.1,583.9 630.0,582.8 Q629.9,581.8 630.2,580.9 Q630.5,580.0 631.1,579.3 Q631.8,578.5 632.9,578.5 Q634.0,578.5 634.9,579.1 Q635.8,579.7 636.3,580.7Z" fill="#180446"/>
</g></g>
<rect x="637.5" y="573.7" width="1" height="1" fill="#3a1a40"/>
<rect x="627.4" y="588.7" width="1" height="1" fill="#3a1a40"/>
<rect x="637.0" y="587.2" width="1" height="1" fill="#b86a2a"/>
<rect x="629.2" y="575.2" width="1" height="1" fill="#2a1a20"/>
<rect x="632.1" y="588.5" width="1" height="1.5" fill="#2a1a20"/>
<rect x="626.1" y="584.2" width="1" height="1.5" fill="#a85a28"/>
<g filter="url(#blob2)"><g transform="translate(524.9,618.6) scale(0.830,1.204) translate(-524.9,-618.6)">
<path d="M529.7,616.8 Q530.2,618.2 529.9,619.7 Q529.7,621.3 528.5,622.4 Q527.4,623.5 525.9,624.0 Q524.3,624.4 522.8,623.9 Q521.2,623.5 520.4,622.2 Q519.5,620.9 519.4,619.5 Q519.3,618.2 519.9,617.1 Q520.5,616.0 521.3,615.0 Q522.0,614.1 523.1,613.4 Q524.3,612.7 525.7,613.1 Q527.0,613.5 528.1,614.4 Q529.1,615.4 529.7,616.8Z" fill="#b8682a"/>
<path d="M530.2,617.1 Q530.4,618.6 529.6,619.7 Q528.9,620.9 527.9,621.6 Q527.0,622.3 526.0,622.7 Q524.9,623.2 523.7,623.0 Q522.5,622.7 521.7,621.8 Q521.0,620.9 521.0,619.7 Q521.0,618.6 521.1,617.5 Q521.2,616.5 521.8,615.3 Q522.4,614.2 523.6,613.9 Q524.9,613.6 526.2,613.8 Q527.6,614.0 528.8,614.8 Q530.0,615.6 530.2,617.1Z" fill="#6a2270"/>
<path d="M529.0,617.5 Q529.3,618.6 528.8,619.6 Q528.3,620.6 527.6,621.2 Q526.8,621.9 525.8,622.5 Q524.9,623.1 523.7,622.9 Q522.5,622.7 521.8,621.8 Q521.1,620.8 520.9,619.7 Q520.8,618.6 521.2,617.6 Q521.6,616.7 522.2,615.9 Q522.9,615.2 523.9,614.8 Q524.9,614.4 525.9,614.7 Q526.9,615.1 527.8,615.8 Q528.6,616.5 529.0,617.5Z" fill="#2c0a68"/>
<path d="M527.6,617.7 Q528.2,618.6 527.8,619.7 Q527.5,620.7 526.5,621.1 Q525.5,621.5 524.7,621.3 Q523.8,621.0 523.1,620.6 Q522.4,620.2 522.0,619.4 Q521.6,618.6 522.0,617.8 Q522.3,617.0 523.1,616.5 Q523.8,616.0 524.6,615.9 Q525.5,615.9 526.3,616.3 Q527.1,616.8 527.6,617.7Z" fill="#180446"/>
</g></g>
<rect x="532.0" y="615.5" width="1" height="1" fill="#3a1a40"/>
<rect x="532.2" y="615.4" width="1" height="1" fill="#3a1a40"/>
<rect x="527.3" y="623.5" width="1" height="1" fill="#a85a28"/>
<rect x="516.4" y="618.0" width="1.5" height="1" fill="#a85a28"/>
<rect x="520.5" y="621.7" width="1.5" height="1" fill="#b86a2a"/>
<rect x="525.9" y="610.4" width="1" height="1" fill="#a85a28"/>
<g filter="url(#blob2)"><g transform="translate(559.9,618.6) scale(0.830,1.204) translate(-559.9,-618.6)">
<path d="M565.3,617.2 Q565.1,618.7 565.0,620.0 Q564.9,621.4 564.1,622.6 Q563.3,623.8 561.8,623.9 Q560.3,623.9 559.0,623.6 Q557.6,623.4 556.4,622.5 Q555.3,621.6 555.3,620.1 Q555.3,618.7 555.6,617.4 Q555.8,616.1 556.5,614.7 Q557.2,613.3 558.8,612.9 Q560.3,612.4 561.9,612.7 Q563.6,613.1 564.5,614.4 Q565.5,615.7 565.3,617.2Z" fill="#b8682a"/>
<path d="M563.6,617.6 Q563.9,618.6 563.6,619.6 Q563.3,620.6 562.6,621.3 Q561.9,622.1 560.9,622.5 Q559.9,622.9 558.8,622.6 Q557.8,622.3 556.9,621.5 Q556.1,620.8 555.6,619.7 Q555.1,618.6 555.5,617.5 Q556.0,616.3 556.8,615.5 Q557.7,614.7 558.8,614.5 Q559.9,614.2 560.9,614.7 Q561.9,615.2 562.6,615.9 Q563.3,616.6 563.6,617.6Z" fill="#6a2270"/>
<path d="M563.4,617.7 Q563.8,618.6 563.5,619.6 Q563.2,620.5 562.6,621.3 Q561.9,622.1 560.9,622.5 Q559.9,623.0 558.8,622.7 Q557.8,622.3 557.2,621.4 Q556.6,620.5 556.5,619.5 Q556.3,618.6 556.5,617.7 Q556.7,616.7 557.3,616.0 Q558.0,615.2 558.9,615.0 Q559.9,614.7 560.8,615.1 Q561.7,615.4 562.4,616.1 Q563.0,616.8 563.4,617.7Z" fill="#2c0a68"/>
<path d="M562.2,617.7 Q562.4,618.6 562.2,619.5 Q562.1,620.4 561.4,621.1 Q560.6,621.8 559.6,621.8 Q558.6,621.7 557.9,621.0 Q557.2,620.3 557.0,619.5 Q556.8,618.6 557.0,617.7 Q557.1,616.8 557.9,616.3 Q558.7,615.8 559.6,615.9 Q560.5,615.9 561.2,616.4 Q562.0,616.9 562.2,617.7Z" fill="#180446"/>
</g></g>
<rect x="555.8" y="611.8" width="1" height="1.5" fill="#2a1a20"/>
<rect x="553.8" y="622.5" width="1" height="1" fill="#b86a2a"/>
<rect x="561.2" y="625.2" width="1" height="1.5" fill="#a85a28"/>
<rect x="562.3" y="611.6" width="1" height="1" fill="#3a1a40"/>
<rect x="561.6" y="624.2" width="1" height="1" fill="#2a1a20"/>
<rect x="568.0" y="621.2" width="1" height="1.5" fill="#3a1a40"/>
<g filter="url(#blob2)"><g transform="translate(596.4,618.6) scale(0.830,1.204) translate(-596.4,-618.6)">
<path d="M600.8,618.0 Q601.7,619.1 601.7,620.7 Q601.6,622.3 600.4,623.4 Q599.1,624.5 597.6,625.0 Q596.0,625.4 594.5,624.9 Q593.0,624.4 592.3,623.0 Q591.6,621.7 591.2,620.4 Q590.8,619.1 590.9,617.7 Q591.0,616.2 592.1,615.2 Q593.1,614.1 594.6,613.7 Q596.0,613.2 597.3,614.0 Q598.5,614.7 599.2,615.8 Q599.9,616.8 600.8,618.0Z" fill="#b8682a"/>
<path d="M600.2,617.6 Q600.5,618.6 600.7,619.9 Q600.9,621.2 600.1,622.3 Q599.2,623.4 597.8,623.6 Q596.4,623.7 595.2,623.2 Q594.0,622.8 593.1,621.9 Q592.2,621.0 591.6,619.8 Q591.1,618.6 591.5,617.3 Q592.0,616.0 593.2,615.5 Q594.3,615.0 595.4,614.8 Q596.4,614.5 597.5,614.7 Q598.6,614.8 599.2,615.7 Q599.9,616.6 600.2,617.6Z" fill="#6a2270"/>
<path d="M600.7,617.5 Q601.0,618.6 600.4,619.6 Q599.9,620.6 599.1,621.3 Q598.3,621.9 597.4,622.3 Q596.4,622.7 595.4,622.4 Q594.4,622.1 593.7,621.4 Q592.9,620.6 592.6,619.6 Q592.3,618.6 592.5,617.5 Q592.6,616.4 593.4,615.6 Q594.2,614.8 595.3,614.5 Q596.4,614.3 597.4,614.7 Q598.5,615.0 599.4,615.7 Q600.3,616.3 600.7,617.5Z" fill="#2c0a68"/>
<path d="M599.2,617.6 Q599.6,618.6 599.0,619.5 Q598.5,620.3 597.7,620.6 Q596.9,621.0 596.1,621.1 Q595.2,621.2 594.5,620.8 Q593.7,620.3 593.5,619.5 Q593.2,618.6 593.6,617.8 Q593.9,617.0 594.6,616.5 Q595.3,616.1 596.1,616.0 Q597.0,615.8 597.9,616.2 Q598.9,616.6 599.2,617.6Z" fill="#180446"/>
</g></g>
<rect x="589.2" y="622.0" width="1" height="1" fill="#b86a2a"/>
<rect x="602.8" y="624.8" width="1.5" height="1.5" fill="#2a1a20"/>
<rect x="594.7" y="625.0" width="1" height="1" fill="#a85a28"/>
<rect x="587.8" y="619.4" width="1.5" height="1.5" fill="#2a1a20"/>
<rect x="598.5" y="625.4" width="1" height="1.5" fill="#b86a2a"/>
<rect x="603.8" y="620.1" width="1" height="1" fill="#a85a28"/>
<g filter="url(#blob2)"><g transform="translate(633.2,618.6) scale(0.830,1.204) translate(-633.2,-618.6)">
<path d="M638.1,617.6 Q638.3,618.8 638.1,620.0 Q637.8,621.2 637.1,622.2 Q636.3,623.2 635.0,623.7 Q633.7,624.1 632.3,623.9 Q630.9,623.6 629.9,622.6 Q628.9,621.6 628.4,620.2 Q628.0,618.8 628.7,617.5 Q629.3,616.2 630.4,615.5 Q631.5,614.8 632.6,614.4 Q633.7,613.9 635.0,614.2 Q636.2,614.5 637.1,615.5 Q637.9,616.4 638.1,617.6Z" fill="#b8682a"/>
<path d="M638.1,617.3 Q638.6,618.6 638.1,619.9 Q637.6,621.2 636.5,621.8 Q635.4,622.5 634.3,622.6 Q633.2,622.7 632.2,622.5 Q631.1,622.2 630.3,621.5 Q629.4,620.8 629.1,619.7 Q628.7,618.6 629.1,617.5 Q629.4,616.4 630.1,615.5 Q630.9,614.7 632.1,614.4 Q633.2,614.0 634.4,614.3 Q635.5,614.6 636.6,615.3 Q637.7,616.0 638.1,617.3Z" fill="#6a2270"/>
<path d="M636.7,617.6 Q636.9,618.6 636.7,619.6 Q636.6,620.6 636.0,621.5 Q635.4,622.4 634.3,622.7 Q633.2,623.0 632.0,622.8 Q630.9,622.6 630.0,621.8 Q629.1,621.0 629.0,619.8 Q629.0,618.6 629.5,617.7 Q630.1,616.8 630.7,616.1 Q631.3,615.3 632.3,614.9 Q633.2,614.4 634.2,614.8 Q635.2,615.1 635.9,615.9 Q636.5,616.7 636.7,617.6Z" fill="#2c0a68"/>
<path d="M635.4,617.8 Q635.6,618.6 635.4,619.4 Q635.1,620.2 634.4,620.7 Q633.7,621.1 632.9,621.2 Q632.1,621.2 631.3,620.7 Q630.5,620.3 630.2,619.5 Q629.9,618.6 630.3,617.8 Q630.7,617.0 631.4,616.5 Q632.1,616.1 632.9,616.1 Q633.7,616.1 634.4,616.5 Q635.1,617.0 635.4,617.8Z" fill="#180446"/>
</g></g>
<rect x="637.5" y="623.0" width="1.5" height="1.5" fill="#a85a28"/>
<rect x="637.3" y="615.3" width="1" height="1" fill="#a85a28"/>
<rect x="630.9" y="612.9" width="1" height="1" fill="#b86a2a"/>
<rect x="640.1" y="618.5" width="1.5" height="1.5" fill="#2a1a20"/>
<rect x="630.9" y="627.1" width="1" height="1.5" fill="#a85a28"/>
<rect x="634.0" y="626.1" width="1.5" height="1.5" fill="#2a1a20"/>
<g filter="url(#blob2)"><g transform="translate(524.9,653.7) scale(0.830,1.204) translate(-524.9,-653.7)">
<path d="M529.6,651.9 Q529.6,653.2 528.9,654.0 Q528.3,654.9 527.8,655.8 Q527.3,656.6 526.3,657.2 Q525.3,657.7 524.3,657.2 Q523.2,656.7 522.7,655.8 Q522.2,655.0 521.8,654.1 Q521.4,653.2 521.3,652.0 Q521.1,650.8 522.0,650.0 Q522.9,649.1 524.1,649.2 Q525.3,649.3 526.4,649.3 Q527.5,649.4 528.6,650.0 Q529.7,650.6 529.6,651.9Z" fill="#b8682a"/>
<path d="M528.7,652.7 Q528.8,653.7 528.4,654.6 Q527.9,655.5 527.3,656.1 Q526.7,656.8 525.8,657.0 Q524.9,657.2 524.1,656.9 Q523.2,656.6 522.6,656.0 Q521.9,655.5 521.4,654.6 Q520.9,653.7 521.2,652.7 Q521.4,651.7 522.2,651.1 Q523.0,650.4 524.0,650.0 Q524.9,649.6 526.0,649.8 Q527.0,650.0 527.8,650.8 Q528.5,651.6 528.7,652.7Z" fill="#6a2270"/>
<path d="M527.3,653.0 Q527.4,653.7 527.3,654.4 Q527.2,655.0 526.8,655.7 Q526.4,656.3 525.7,656.5 Q524.9,656.6 524.2,656.4 Q523.5,656.2 523.0,655.6 Q522.5,655.1 522.3,654.4 Q522.2,653.7 522.3,653.0 Q522.4,652.3 522.9,651.7 Q523.4,651.2 524.2,650.9 Q524.9,650.7 525.6,650.9 Q526.3,651.2 526.8,651.8 Q527.2,652.4 527.3,653.0Z" fill="#2c0a68"/>
<path d="M526.7,653.0 Q526.9,653.7 526.7,654.4 Q526.6,655.1 526.0,655.7 Q525.4,656.2 524.6,656.2 Q523.8,656.1 523.2,655.6 Q522.6,655.1 522.4,654.4 Q522.2,653.7 522.4,653.0 Q522.6,652.3 523.3,651.9 Q523.9,651.6 524.6,651.6 Q525.3,651.7 525.8,652.0 Q526.4,652.4 526.7,653.0Z" fill="#180446"/>
</g></g>
<rect x="523.5" y="657.8" width="1" height="1.5" fill="#a85a28"/>
<rect x="518.1" y="656.6" width="1.5" height="1" fill="#2a1a20"/>
<rect x="531.5" y="656.7" width="1" height="1" fill="#a85a28"/>
<rect x="526.8" y="659.3" width="1" height="1" fill="#2a1a20"/>
<g filter="url(#blob2)"><g transform="translate(559.9,653.7) scale(0.830,1.204) translate(-559.9,-653.7)">
<path d="M565.5,652.5 Q565.8,654.0 565.4,655.6 Q565.1,657.1 564.0,658.3 Q563.0,659.6 561.4,659.8 Q559.8,660.0 558.6,659.1 Q557.4,658.1 556.8,657.1 Q556.1,656.2 555.3,655.1 Q554.5,654.0 554.7,652.6 Q554.9,651.2 556.0,650.4 Q557.2,649.6 558.5,649.1 Q559.8,648.7 561.3,648.7 Q562.8,648.8 564.0,649.9 Q565.2,650.9 565.5,652.5Z" fill="#b8682a"/>
<path d="M563.5,652.7 Q563.6,653.7 563.3,654.6 Q562.9,655.4 562.2,656.0 Q561.5,656.5 560.7,656.9 Q559.9,657.2 558.9,657.3 Q557.8,657.3 557.0,656.6 Q556.2,655.8 556.0,654.8 Q555.7,653.7 556.1,652.7 Q556.4,651.7 557.2,651.1 Q558.1,650.5 559.0,650.3 Q559.9,650.1 560.9,650.2 Q561.9,650.3 562.7,651.0 Q563.5,651.6 563.5,652.7Z" fill="#6a2270"/>
<path d="M563.3,652.8 Q563.6,653.7 563.1,654.5 Q562.7,655.3 562.0,655.8 Q561.4,656.3 560.6,656.6 Q559.9,656.9 559.0,656.8 Q558.1,656.8 557.5,656.1 Q556.8,655.5 556.5,654.6 Q556.2,653.7 556.4,652.8 Q556.7,651.9 557.5,651.3 Q558.2,650.8 559.1,650.6 Q559.9,650.4 560.7,650.6 Q561.6,650.8 562.3,651.4 Q563.0,651.9 563.3,652.8Z" fill="#2c0a68"/>
<path d="M561.7,653.0 Q561.8,653.7 561.7,654.4 Q561.5,655.1 561.0,655.7 Q560.4,656.3 559.6,656.2 Q558.8,656.1 558.2,655.6 Q557.7,655.1 557.3,654.4 Q556.8,653.7 557.1,652.8 Q557.3,652.0 558.0,651.5 Q558.7,651.0 559.6,651.1 Q560.4,651.2 561.0,651.8 Q561.5,652.3 561.7,653.0Z" fill="#180446"/>
</g></g>
<rect x="566.2" y="651.9" width="1.5" height="1" fill="#a85a28"/>
<rect x="556.4" y="656.6" width="1" height="1" fill="#a85a28"/>
<rect x="552.5" y="655.9" width="1" height="1.5" fill="#b86a2a"/>
<rect x="556.1" y="646.2" width="1.5" height="1.5" fill="#3a1a40"/>
<rect x="564.9" y="659.3" width="1" height="1.5" fill="#3a1a40"/>
<g filter="url(#blob2)"><g transform="translate(596.4,653.7) scale(0.830,1.204) translate(-596.4,-653.7)">
<path d="M601.5,652.4 Q601.9,653.8 601.5,655.3 Q601.0,656.8 599.9,657.7 Q598.7,658.7 597.3,659.0 Q595.9,659.4 594.5,659.0 Q593.1,658.6 592.3,657.5 Q591.5,656.4 591.0,655.1 Q590.6,653.8 590.6,652.3 Q590.7,650.8 591.7,649.6 Q592.8,648.5 594.3,648.4 Q595.9,648.4 597.2,648.8 Q598.6,649.2 599.8,650.0 Q601.1,650.9 601.5,652.4Z" fill="#b8682a"/>
<path d="M599.7,652.8 Q600.1,653.7 600.2,654.8 Q600.4,656.0 599.6,656.9 Q598.8,657.8 597.6,658.0 Q596.4,658.2 595.3,657.8 Q594.2,657.5 593.2,656.8 Q592.2,656.1 591.7,654.9 Q591.3,653.7 591.7,652.4 Q592.1,651.2 593.1,650.5 Q594.2,649.8 595.3,649.9 Q596.4,650.0 597.3,650.3 Q598.2,650.6 598.8,651.3 Q599.4,652.0 599.7,652.8Z" fill="#6a2270"/>
<path d="M600.2,652.7 Q600.6,653.7 600.3,654.7 Q600.0,655.8 599.1,656.3 Q598.2,656.8 597.3,657.1 Q596.4,657.4 595.5,657.1 Q594.6,656.8 594.1,656.1 Q593.6,655.3 593.2,654.5 Q592.9,653.7 592.9,652.7 Q593.0,651.7 593.7,651.0 Q594.5,650.4 595.4,650.2 Q596.4,650.0 597.3,650.2 Q598.3,650.5 599.0,651.1 Q599.7,651.8 600.2,652.7Z" fill="#2c0a68"/>
<path d="M598.7,652.8 Q598.8,653.7 598.6,654.5 Q598.4,655.4 597.7,656.0 Q597.0,656.6 596.1,656.6 Q595.1,656.6 594.4,656.1 Q593.6,655.5 593.4,654.6 Q593.2,653.7 593.5,652.9 Q593.8,652.0 594.5,651.4 Q595.2,650.8 596.1,650.8 Q597.1,650.8 597.8,651.4 Q598.5,652.0 598.7,652.8Z" fill="#180446"/>
</g></g>
<rect x="595.5" y="659.0" width="1.5" height="1" fill="#2a1a20"/>
<rect x="598.0" y="647.8" width="1" height="1" fill="#2a1a20"/>
<rect x="600.4" y="660.2" width="1" height="1.5" fill="#b86a2a"/>
<rect x="602.3" y="649.8" width="1" height="1" fill="#a85a28"/>
<rect x="595.2" y="661.9" width="1" height="1" fill="#b86a2a"/>
<g filter="url(#blob2)"><g transform="translate(633.2,653.7) scale(0.830,1.204) translate(-633.2,-653.7)">
<path d="M639.0,652.2 Q639.3,653.6 638.6,654.8 Q637.8,655.9 637.0,656.8 Q636.1,657.7 634.9,658.3 Q633.7,659.0 632.5,658.4 Q631.3,657.8 630.5,656.8 Q629.7,655.9 628.9,654.7 Q628.1,653.6 628.5,652.2 Q628.8,650.7 630.0,650.0 Q631.2,649.2 632.5,649.2 Q633.7,649.1 634.9,649.3 Q636.0,649.6 637.3,650.2 Q638.6,650.8 639.0,652.2Z" fill="#b8682a"/>
<path d="M636.9,652.6 Q636.8,653.7 636.6,654.6 Q636.3,655.5 635.8,656.4 Q635.3,657.3 634.2,657.7 Q633.2,658.2 632.1,657.9 Q630.9,657.7 630.3,656.7 Q629.8,655.7 629.8,654.7 Q629.7,653.7 629.8,652.7 Q629.9,651.8 630.5,650.9 Q631.1,650.0 632.1,649.7 Q633.2,649.4 634.4,649.5 Q635.5,649.7 636.3,650.6 Q637.0,651.5 636.9,652.6Z" fill="#6a2270"/>
<path d="M636.0,652.9 Q636.2,653.7 636.0,654.5 Q635.9,655.2 635.3,655.8 Q634.7,656.4 634.0,656.7 Q633.2,657.1 632.3,657.0 Q631.4,656.8 630.8,656.1 Q630.2,655.4 630.0,654.6 Q629.8,653.7 629.9,652.8 Q630.1,651.9 630.6,651.0 Q631.2,650.2 632.2,649.8 Q633.2,649.5 634.2,649.9 Q635.1,650.4 635.5,651.3 Q635.9,652.1 636.0,652.9Z" fill="#2c0a68"/>
<path d="M635.1,653.0 Q635.5,653.7 635.4,654.6 Q635.3,655.4 634.5,656.0 Q633.8,656.5 632.9,656.5 Q632.0,656.5 631.3,655.9 Q630.6,655.3 630.6,654.5 Q630.6,653.7 630.8,653.0 Q631.1,652.4 631.6,651.8 Q632.1,651.2 632.9,651.2 Q633.7,651.2 634.3,651.7 Q634.8,652.3 635.1,653.0Z" fill="#180446"/>
</g></g>
<rect x="626.7" y="658.2" width="1.5" height="1" fill="#3a1a40"/>
<rect x="627.2" y="658.5" width="1" height="1" fill="#a85a28"/>
<rect x="626.7" y="652.4" width="1.5" height="1" fill="#a85a28"/>
<rect x="634.9" y="660.7" width="1" height="1" fill="#2a1a20"/>
<rect x="637.5" y="648.0" width="1.5" height="1" fill="#3a1a40"/>
<rect x="499.70" y="526.50" width="151.70" height="151.50" fill="none" stroke="#55583a" stroke-width="0.7"/>
<circle cx="523.8" cy="651.9" r="15" fill="none" stroke="#f21c1c" stroke-width="1.35" stroke-dasharray="3.4 2.1"/>
<rect x="604.00" y="661.50" width="44.00" height="3.2" fill="#fff" stroke="#333" stroke-width="1.0"/>
<text x="626.00" y="671.60" font-size="8.6" text-anchor="middle" fill="#f4f4f4" font-family="Liberation Sans" font-weight="bold" stroke="#2a2a2a" stroke-width="2.3" paint-order="stroke" stroke-linejoin="round">1μm</text>
<text x="540.50" y="643.00" font-size="12.2" text-anchor="start" fill="#000" font-family="Liberation Serif" font-weight="bold" textLength="23.5" lengthAdjust="spacingAndGlyphs">0.1 s</text>
<text x="502.40" y="674.80" font-size="12.2" text-anchor="start" fill="#000" font-family="Liberation Serif" font-weight="bold" textLength="103.3" lengthAdjust="spacingAndGlyphs">0.1~1 s,-1.56 MVcm</text>
<rect x="657" y="546.1" width="17.4" height="127.89999999999998" fill="url(#acb657_546)" stroke="#666" stroke-width="0.6"/>
<text x="666.00" y="553.30" font-size="8.6" text-anchor="middle" fill="#222" font-family="Liberation Sans" >180</text>
<text x="666.00" y="613.15" font-size="8.6" text-anchor="middle" fill="#fff" font-family="Liberation Sans" >90.0</text>
<text x="666.00" y="672.70" font-size="8.6" text-anchor="middle" fill="#fff" font-family="Liberation Sans" >0.00</text>
<circle cx="665.2" cy="535.9" r="1.0" fill="none" stroke="#777" stroke-width="0.55"/>
<line x1="49.48" y1="821.61" x2="173.80" y2="783.28" stroke="#f3821e" stroke-width="1.6"/>
<circle cx="49.48" cy="820.17" r="2.25" fill="#f4a476" stroke="#e0784a" stroke-width="0.8"/>
<ellipse cx="49.18" cy="820.07" rx="1.1" ry="0.6" fill="#fff" opacity="0.85"/>
<circle cx="67.24" cy="805.72" r="2.25" fill="#f4a476" stroke="#e0784a" stroke-width="0.8"/>
<ellipse cx="66.94" cy="805.62" rx="1.1" ry="0.6" fill="#fff" opacity="0.85"/>
<circle cx="85.00" cy="815.35" r="2.25" fill="#f4a476" stroke="#e0784a" stroke-width="0.8"/>
<ellipse cx="84.70" cy="815.25" rx="1.1" ry="0.6" fill="#fff" opacity="0.85"/>
<circle cx="102.76" cy="810.54" r="2.25" fill="#f4a476" stroke="#e0784a" stroke-width="0.8"/>
<ellipse cx="102.46" cy="810.44" rx="1.1" ry="0.6" fill="#fff" opacity="0.85"/>
<circle cx="120.52" cy="800.91" r="2.25" fill="#f4a476" stroke="#e0784a" stroke-width="0.8"/>
<ellipse cx="120.22" cy="800.81" rx="1.1" ry="0.6" fill="#fff" opacity="0.85"/>
<circle cx="138.28" cy="800.91" r="2.25" fill="#f4a476" stroke="#e0784a" stroke-width="0.8"/>
<ellipse cx="137.98" cy="800.81" rx="1.1" ry="0.6" fill="#fff" opacity="0.85"/>
<circle cx="161.96" cy="791.28" r="2.25" fill="#f4a476" stroke="#e0784a" stroke-width="0.8"/>
<ellipse cx="161.66" cy="791.18" rx="1.1" ry="0.6" fill="#fff" opacity="0.85"/>
<circle cx="173.80" cy="772.02" r="2.25" fill="#f4a476" stroke="#e0784a" stroke-width="0.8"/>
<ellipse cx="173.50" cy="771.92" rx="1.1" ry="0.6" fill="#fff" opacity="0.85"/>
<polygon points="49.48,789.68 50.35,791.78 52.62,791.96 50.89,793.44 51.42,795.65 49.48,794.46 47.54,795.65 48.07,793.44 46.34,791.96 48.61,791.78" fill="#f646cc"/>
<polygon points="67.24,789.68 68.11,791.78 70.38,791.96 68.65,793.44 69.18,795.65 67.24,794.46 65.30,795.65 65.83,793.44 64.10,791.96 66.37,791.78" fill="#f646cc"/>
<polygon points="85.00,789.68 85.87,791.78 88.14,791.96 86.41,793.44 86.94,795.65 85.00,794.46 83.06,795.65 83.59,793.44 81.86,791.96 84.13,791.78" fill="#f646cc"/>
<polygon points="102.76,789.68 103.63,791.78 105.90,791.96 104.17,793.44 104.70,795.65 102.76,794.46 100.82,795.65 101.35,793.44 99.62,791.96 101.89,791.78" fill="#f646cc"/>
<polygon points="120.52,789.68 121.39,791.78 123.66,791.96 121.93,793.44 122.46,795.65 120.52,794.46 118.58,795.65 119.11,793.44 117.38,791.96 119.65,791.78" fill="#f646cc"/>
<polygon points="138.28,789.68 139.15,791.78 141.42,791.96 139.69,793.44 140.22,795.65 138.28,794.46 136.34,795.65 136.87,793.44 135.14,791.96 137.41,791.78" fill="#f646cc"/>
<polygon points="161.96,789.68 162.83,791.78 165.10,791.96 163.37,793.44 163.90,795.65 161.96,794.46 160.02,795.65 160.55,793.44 158.82,791.96 161.09,791.78" fill="#f646cc"/>
<polygon points="173.80,789.68 174.67,791.78 176.94,791.96 175.21,793.44 175.74,795.65 173.80,794.46 171.86,795.65 172.39,793.44 170.66,791.96 172.93,791.78" fill="#f646cc"/>
<line x1="33.3" y1="704.6" x2="188.6" y2="704.6" stroke="#000" stroke-width="1.35"/>
<line x1="33.3" y1="829.8" x2="188.6" y2="829.8" stroke="#000" stroke-width="1.35"/>
<line x1="33.3" y1="703.9" x2="33.3" y2="830.5" stroke="#f07c52" stroke-width="1.35"/>
<line x1="188.6" y1="703.9" x2="188.6" y2="830.5" stroke="#ff4fd2" stroke-width="1.35"/>
<line x1="33.3" y1="829.80" x2="35.599999999999994" y2="829.80" stroke="#f07c52" stroke-width="0.9"/>
<text x="30.90" y="833.00" font-size="9.2" text-anchor="end" fill="#000" font-family="Liberation Serif" font-weight="bold" >40</text>
<line x1="33.3" y1="820.17" x2="34.599999999999994" y2="820.17" stroke="#f07c52" stroke-width="0.7"/>
<line x1="33.3" y1="810.54" x2="35.599999999999994" y2="810.54" stroke="#f07c52" stroke-width="0.9"/>
<text x="30.90" y="813.74" font-size="9.2" text-anchor="end" fill="#000" font-family="Liberation Serif" font-weight="bold" >60</text>
<line x1="33.3" y1="800.91" x2="34.599999999999994" y2="800.91" stroke="#f07c52" stroke-width="0.7"/>
<line x1="33.3" y1="791.28" x2="35.599999999999994" y2="791.28" stroke="#f07c52" stroke-width="0.9"/>
<text x="30.90" y="794.48" font-size="9.2" text-anchor="end" fill="#000" font-family="Liberation Serif" font-weight="bold" >80</text>
<line x1="33.3" y1="781.65" x2="34.599999999999994" y2="781.65" stroke="#f07c52" stroke-width="0.7"/>
<line x1="33.3" y1="772.02" x2="35.599999999999994" y2="772.02" stroke="#f07c52" stroke-width="0.9"/>
<text x="30.90" y="775.22" font-size="9.2" text-anchor="end" fill="#000" font-family="Liberation Serif" font-weight="bold" >100</text>
<line x1="33.3" y1="762.38" x2="34.599999999999994" y2="762.38" stroke="#f07c52" stroke-width="0.7"/>
<line x1="33.3" y1="752.75" x2="35.599999999999994" y2="752.75" stroke="#f07c52" stroke-width="0.9"/>
<text x="30.90" y="755.95" font-size="9.2" text-anchor="end" fill="#000" font-family="Liberation Serif" font-weight="bold" >120</text>
<line x1="33.3" y1="743.12" x2="34.599999999999994" y2="743.12" stroke="#f07c52" stroke-width="0.7"/>
<line x1="33.3" y1="733.49" x2="35.599999999999994" y2="733.49" stroke="#f07c52" stroke-width="0.9"/>
<text x="30.90" y="736.69" font-size="9.2" text-anchor="end" fill="#000" font-family="Liberation Serif" font-weight="bold" >140</text>
<line x1="33.3" y1="723.86" x2="34.599999999999994" y2="723.86" stroke="#f07c52" stroke-width="0.7"/>
<line x1="33.3" y1="714.23" x2="35.599999999999994" y2="714.23" stroke="#f07c52" stroke-width="0.9"/>
<text x="30.90" y="717.43" font-size="9.2" text-anchor="end" fill="#000" font-family="Liberation Serif" font-weight="bold" >160</text>
<line x1="33.3" y1="704.60" x2="34.599999999999994" y2="704.60" stroke="#f07c52" stroke-width="0.7"/>
<line x1="188.6" y1="829.80" x2="186.29999999999998" y2="829.80" stroke="#ff4fd2" stroke-width="0.9"/>
<text x="191.40" y="833.00" font-size="9.2" text-anchor="start" fill="#000" font-family="Liberation Serif" font-weight="bold" >0</text>
<line x1="188.6" y1="820.59" x2="187.29999999999998" y2="820.59" stroke="#ff4fd2" stroke-width="0.7"/>
<line x1="188.6" y1="811.39" x2="186.29999999999998" y2="811.39" stroke="#ff4fd2" stroke-width="0.9"/>
<text x="191.40" y="814.59" font-size="9.2" text-anchor="start" fill="#000" font-family="Liberation Serif" font-weight="bold" >25</text>
<line x1="188.6" y1="802.18" x2="187.29999999999998" y2="802.18" stroke="#ff4fd2" stroke-width="0.7"/>
<line x1="188.6" y1="792.98" x2="186.29999999999998" y2="792.98" stroke="#ff4fd2" stroke-width="0.9"/>
<text x="191.40" y="796.18" font-size="9.2" text-anchor="start" fill="#000" font-family="Liberation Serif" font-weight="bold" >50</text>
<line x1="188.6" y1="783.77" x2="187.29999999999998" y2="783.77" stroke="#ff4fd2" stroke-width="0.7"/>
<line x1="188.6" y1="774.56" x2="186.29999999999998" y2="774.56" stroke="#ff4fd2" stroke-width="0.9"/>
<text x="191.40" y="777.76" font-size="9.2" text-anchor="start" fill="#000" font-family="Liberation Serif" font-weight="bold" >75</text>
<line x1="188.6" y1="765.36" x2="187.29999999999998" y2="765.36" stroke="#ff4fd2" stroke-width="0.7"/>
<line x1="188.6" y1="756.15" x2="186.29999999999998" y2="756.15" stroke="#ff4fd2" stroke-width="0.9"/>
<text x="191.40" y="759.35" font-size="9.2" text-anchor="start" fill="#000" font-family="Liberation Serif" font-weight="bold" >100</text>
<line x1="188.6" y1="746.95" x2="187.29999999999998" y2="746.95" stroke="#ff4fd2" stroke-width="0.7"/>
<line x1="188.6" y1="737.74" x2="186.29999999999998" y2="737.74" stroke="#ff4fd2" stroke-width="0.9"/>
<text x="191.40" y="740.94" font-size="9.2" text-anchor="start" fill="#000" font-family="Liberation Serif" font-weight="bold" >125</text>
<line x1="188.6" y1="728.54" x2="187.29999999999998" y2="728.54" stroke="#ff4fd2" stroke-width="0.7"/>
<line x1="188.6" y1="719.33" x2="186.29999999999998" y2="719.33" stroke="#ff4fd2" stroke-width="0.9"/>
<text x="191.40" y="722.53" font-size="9.2" text-anchor="start" fill="#000" font-family="Liberation Serif" font-weight="bold" >150</text>
<line x1="188.6" y1="710.12" x2="187.29999999999998" y2="710.12" stroke="#ff4fd2" stroke-width="0.7"/>
<line x1="55.40" y1="829.8" x2="55.40" y2="827.5" stroke="#000" stroke-width="0.9"/>
<text x="55.40" y="839.80" font-size="9.2" text-anchor="middle" fill="#000" font-family="Liberation Serif" font-weight="bold" >0.6</text>
<line x1="85.00" y1="829.8" x2="85.00" y2="827.5" stroke="#000" stroke-width="0.9"/>
<text x="85.00" y="839.80" font-size="9.2" text-anchor="middle" fill="#000" font-family="Liberation Serif" font-weight="bold" >0.7</text>
<line x1="114.60" y1="829.8" x2="114.60" y2="827.5" stroke="#000" stroke-width="0.9"/>
<text x="114.60" y="839.80" font-size="9.2" text-anchor="middle" fill="#000" font-family="Liberation Serif" font-weight="bold" >0.8</text>
<line x1="144.20" y1="829.8" x2="144.20" y2="827.5" stroke="#000" stroke-width="0.9"/>
<text x="144.20" y="839.80" font-size="9.2" text-anchor="middle" fill="#000" font-family="Liberation Serif" font-weight="bold" >0.9</text>
<line x1="173.80" y1="829.8" x2="173.80" y2="827.5" stroke="#000" stroke-width="0.9"/>
<text x="173.80" y="839.80" font-size="9.2" text-anchor="middle" fill="#000" font-family="Liberation Serif" font-weight="bold" >1.0</text>
<line x1="40.60" y1="829.8" x2="40.60" y2="828.5" stroke="#000" stroke-width="0.7"/>
<line x1="70.20" y1="829.8" x2="70.20" y2="828.5" stroke="#000" stroke-width="0.7"/>
<line x1="99.80" y1="829.8" x2="99.80" y2="828.5" stroke="#000" stroke-width="0.7"/>
<line x1="129.40" y1="829.8" x2="129.40" y2="828.5" stroke="#000" stroke-width="0.7"/>
<line x1="159.00" y1="829.8" x2="159.00" y2="828.5" stroke="#000" stroke-width="0.7"/>
<text x="110.95" y="854.40" font-size="10" text-anchor="middle" fill="#000" font-family="Liberation Serif" font-weight="bold" >Time (s)</text>
<text transform="translate(14.10,767.20) rotate(-90)" font-size="10" text-anchor="middle" font-family="Liberation Serif" font-weight="bold">Radius (nm)</text>
<text transform="translate(214.40,765.70) rotate(-90)" font-size="10" text-anchor="middle" font-family="Liberation Serif" font-weight="bold" xml:space="preserve">Degree of  switching (°)</text>
<line x1="277.90" y1="784.54" x2="410.50" y2="715.68" stroke="#f3821e" stroke-width="1.6"/>
<circle cx="277.90" cy="786.46" r="2.25" fill="#f4a476" stroke="#e0784a" stroke-width="0.8"/>
<ellipse cx="277.60" cy="786.36" rx="1.1" ry="0.6" fill="#fff" opacity="0.85"/>
<circle cx="304.42" cy="767.20" r="2.25" fill="#f4a476" stroke="#e0784a" stroke-width="0.8"/>
<ellipse cx="304.12" cy="767.10" rx="1.1" ry="0.6" fill="#fff" opacity="0.85"/>
<circle cx="330.94" cy="752.75" r="2.25" fill="#f4a476" stroke="#e0784a" stroke-width="0.8"/>
<ellipse cx="330.64" cy="752.65" rx="1.1" ry="0.6" fill="#fff" opacity="0.85"/>
<circle cx="357.46" cy="752.75" r="2.25" fill="#f4a476" stroke="#e0784a" stroke-width="0.8"/>
<ellipse cx="357.16" cy="752.65" rx="1.1" ry="0.6" fill="#fff" opacity="0.85"/>
<circle cx="383.98" cy="733.49" r="2.25" fill="#f4a476" stroke="#e0784a" stroke-width="0.8"/>
<ellipse cx="383.68" cy="733.39" rx="1.1" ry="0.6" fill="#fff" opacity="0.85"/>
<circle cx="410.50" cy="709.42" r="2.25" fill="#f4a476" stroke="#e0784a" stroke-width="0.8"/>
<ellipse cx="410.20" cy="709.32" rx="1.1" ry="0.6" fill="#fff" opacity="0.85"/>
<polygon points="277.90,708.66 278.77,710.76 281.04,710.94 279.31,712.42 279.84,714.63 277.90,713.45 275.96,714.63 276.49,712.42 274.76,710.94 277.03,710.76" fill="#f646cc"/>
<polygon points="304.42,708.66 305.29,710.76 307.56,710.94 305.83,712.42 306.36,714.63 304.42,713.45 302.48,714.63 303.01,712.42 301.28,710.94 303.55,710.76" fill="#f646cc"/>
<polygon points="330.94,708.66 331.81,710.76 334.08,710.94 332.35,712.42 332.88,714.63 330.94,713.45 329.00,714.63 329.53,712.42 327.80,710.94 330.07,710.76" fill="#f646cc"/>
<polygon points="357.46,708.66 358.33,710.76 360.60,710.94 358.87,712.42 359.40,714.63 357.46,713.45 355.52,714.63 356.05,712.42 354.32,710.94 356.59,710.76" fill="#f646cc"/>
<polygon points="383.98,708.66 384.85,710.76 387.12,710.94 385.39,712.42 385.92,714.63 383.98,713.45 382.04,714.63 382.57,712.42 380.84,710.94 383.11,710.76" fill="#f646cc"/>
<polygon points="410.50,708.66 411.37,710.76 413.64,710.94 411.91,712.42 412.44,714.63 410.50,713.45 408.56,714.63 409.09,712.42 407.36,710.94 409.63,710.76" fill="#f646cc"/>
<line x1="266.7" y1="704.6" x2="422.0" y2="704.6" stroke="#000" stroke-width="1.35"/>
<line x1="266.7" y1="829.8" x2="422.0" y2="829.8" stroke="#000" stroke-width="1.35"/>
<line x1="266.7" y1="703.9" x2="266.7" y2="830.5" stroke="#f08a2c" stroke-width="1.35"/>
<line x1="422.0" y1="703.9" x2="422.0" y2="830.5" stroke="#ff4fd2" stroke-width="1.35"/>
<line x1="266.7" y1="829.80" x2="269.0" y2="829.80" stroke="#f08a2c" stroke-width="0.9"/>
<text x="264.30" y="833.00" font-size="9.2" text-anchor="end" fill="#000" font-family="Liberation Serif" font-weight="bold" >40</text>
<line x1="266.7" y1="820.17" x2="268.0" y2="820.17" stroke="#f08a2c" stroke-width="0.7"/>
<line x1="266.7" y1="810.54" x2="269.0" y2="810.54" stroke="#f08a2c" stroke-width="0.9"/>
<text x="264.30" y="813.74" font-size="9.2" text-anchor="end" fill="#000" font-family="Liberation Serif" font-weight="bold" >60</text>
<line x1="266.7" y1="800.91" x2="268.0" y2="800.91" stroke="#f08a2c" stroke-width="0.7"/>
<line x1="266.7" y1="791.28" x2="269.0" y2="791.28" stroke="#f08a2c" stroke-width="0.9"/>
<text x="264.30" y="794.48" font-size="9.2" text-anchor="end" fill="#000" font-family="Liberation Serif" font-weight="bold" >80</text>
<line x1="266.7" y1="781.65" x2="268.0" y2="781.65" stroke="#f08a2c" stroke-width="0.7"/>
<line x1="266.7" y1="772.02" x2="269.0" y2="772.02" stroke="#f08a2c" stroke-width="0.9"/>
<text x="264.30" y="775.22" font-size="9.2" text-anchor="end" fill="#000" font-family="Liberation Serif" font-weight="bold" >100</text>
<line x1="266.7" y1="762.38" x2="268.0" y2="762.38" stroke="#f08a2c" stroke-width="0.7"/>
<line x1="266.7" y1="752.75" x2="269.0" y2="752.75" stroke="#f08a2c" stroke-width="0.9"/>
<text x="264.30" y="755.95" font-size="9.2" text-anchor="end" fill="#000" font-family="Liberation Serif" font-weight="bold" >120</text>
<line x1="266.7" y1="743.12" x2="268.0" y2="743.12" stroke="#f08a2c" stroke-width="0.7"/>
<line x1="266.7" y1="733.49" x2="269.0" y2="733.49" stroke="#f08a2c" stroke-width="0.9"/>
<text x="264.30" y="736.69" font-size="9.2" text-anchor="end" fill="#000" font-family="Liberation Serif" font-weight="bold" >140</text>
<line x1="266.7" y1="723.86" x2="268.0" y2="723.86" stroke="#f08a2c" stroke-width="0.7"/>
<line x1="266.7" y1="714.23" x2="269.0" y2="714.23" stroke="#f08a2c" stroke-width="0.9"/>
<text x="264.30" y="717.43" font-size="9.2" text-anchor="end" fill="#000" font-family="Liberation Serif" font-weight="bold" >160</text>
<line x1="266.7" y1="704.60" x2="268.0" y2="704.60" stroke="#f08a2c" stroke-width="0.7"/>
<line x1="422.0" y1="829.80" x2="419.7" y2="829.80" stroke="#ff4fd2" stroke-width="0.9"/>
<text x="424.80" y="833.00" font-size="9.2" text-anchor="start" fill="#000" font-family="Liberation Serif" font-weight="bold" >0</text>
<line x1="422.0" y1="820.59" x2="420.7" y2="820.59" stroke="#ff4fd2" stroke-width="0.7"/>
<line x1="422.0" y1="811.39" x2="419.7" y2="811.39" stroke="#ff4fd2" stroke-width="0.9"/>
<text x="424.80" y="814.59" font-size="9.2" text-anchor="start" fill="#000" font-family="Liberation Serif" font-weight="bold" >25</text>
<line x1="422.0" y1="802.18" x2="420.7" y2="802.18" stroke="#ff4fd2" stroke-width="0.7"/>
<line x1="422.0" y1="792.98" x2="419.7" y2="792.98" stroke="#ff4fd2" stroke-width="0.9"/>
<text x="424.80" y="796.18" font-size="9.2" text-anchor="start" fill="#000" font-family="Liberation Serif" font-weight="bold" >50</text>
<line x1="422.0" y1="783.77" x2="420.7" y2="783.77" stroke="#ff4fd2" stroke-width="0.7"/>
<line x1="422.0" y1="774.56" x2="419.7" y2="774.56" stroke="#ff4fd2" stroke-width="0.9"/>
<text x="424.80" y="777.76" font-size="9.2" text-anchor="start" fill="#000" font-family="Liberation Serif" font-weight="bold" >75</text>
<line x1="422.0" y1="765.36" x2="420.7" y2="765.36" stroke="#ff4fd2" stroke-width="0.7"/>
<line x1="422.0" y1="756.15" x2="419.7" y2="756.15" stroke="#ff4fd2" stroke-width="0.9"/>
<text x="424.80" y="759.35" font-size="9.2" text-anchor="start" fill="#000" font-family="Liberation Serif" font-weight="bold" >100</text>
<line x1="422.0" y1="746.95" x2="420.7" y2="746.95" stroke="#ff4fd2" stroke-width="0.7"/>
<line x1="422.0" y1="737.74" x2="419.7" y2="737.74" stroke="#ff4fd2" stroke-width="0.9"/>
<text x="424.80" y="740.94" font-size="9.2" text-anchor="start" fill="#000" font-family="Liberation Serif" font-weight="bold" >125</text>
<line x1="422.0" y1="728.54" x2="420.7" y2="728.54" stroke="#ff4fd2" stroke-width="0.7"/>
<line x1="422.0" y1="719.33" x2="419.7" y2="719.33" stroke="#ff4fd2" stroke-width="0.9"/>
<text x="424.80" y="722.53" font-size="9.2" text-anchor="start" fill="#000" font-family="Liberation Serif" font-weight="bold" >150</text>
<line x1="422.0" y1="710.12" x2="420.7" y2="710.12" stroke="#ff4fd2" stroke-width="0.7"/>
<line x1="277.90" y1="829.8" x2="277.90" y2="827.5" stroke="#000" stroke-width="0.9"/>
<text x="277.90" y="839.80" font-size="9.2" text-anchor="middle" fill="#000" font-family="Liberation Serif" font-weight="bold" >0.10</text>
<line x1="300.00" y1="829.8" x2="300.00" y2="827.5" stroke="#000" stroke-width="0.9"/>
<text x="300.00" y="839.80" font-size="9.2" text-anchor="middle" fill="#000" font-family="Liberation Serif" font-weight="bold" >0.15</text>
<line x1="322.10" y1="829.8" x2="322.10" y2="827.5" stroke="#000" stroke-width="0.9"/>
<text x="322.10" y="839.80" font-size="9.2" text-anchor="middle" fill="#000" font-family="Liberation Serif" font-weight="bold" >0.20</text>
<line x1="344.20" y1="829.8" x2="344.20" y2="827.5" stroke="#000" stroke-width="0.9"/>
<text x="344.20" y="839.80" font-size="9.2" text-anchor="middle" fill="#000" font-family="Liberation Serif" font-weight="bold" >0.25</text>
<line x1="366.30" y1="829.8" x2="366.30" y2="827.5" stroke="#000" stroke-width="0.9"/>
<text x="366.30" y="839.80" font-size="9.2" text-anchor="middle" fill="#000" font-family="Liberation Serif" font-weight="bold" >0.30</text>
<line x1="388.40" y1="829.8" x2="388.40" y2="827.5" stroke="#000" stroke-width="0.9"/>
<text x="388.40" y="839.80" font-size="9.2" text-anchor="middle" fill="#000" font-family="Liberation Serif" font-weight="bold" >0.35</text>
<line x1="410.50" y1="829.8" x2="410.50" y2="827.5" stroke="#000" stroke-width="0.9"/>
<text x="410.50" y="839.80" font-size="9.2" text-anchor="middle" fill="#000" font-family="Liberation Serif" font-weight="bold" >0.40</text>
<line x1="288.95" y1="829.8" x2="288.95" y2="828.5" stroke="#000" stroke-width="0.7"/>
<line x1="311.05" y1="829.8" x2="311.05" y2="828.5" stroke="#000" stroke-width="0.7"/>
<line x1="333.15" y1="829.8" x2="333.15" y2="828.5" stroke="#000" stroke-width="0.7"/>
<line x1="355.25" y1="829.8" x2="355.25" y2="828.5" stroke="#000" stroke-width="0.7"/>
<line x1="377.35" y1="829.8" x2="377.35" y2="828.5" stroke="#000" stroke-width="0.7"/>
<line x1="399.45" y1="829.8" x2="399.45" y2="828.5" stroke="#000" stroke-width="0.7"/>
<text x="344.35" y="854.40" font-size="10" text-anchor="middle" fill="#000" font-family="Liberation Serif" font-weight="bold" >Time (s)</text>
<text transform="translate(247.50,767.20) rotate(-90)" font-size="10" text-anchor="middle" font-family="Liberation Serif" font-weight="bold">Radius (nm)</text>
<text transform="translate(447.80,765.70) rotate(-90)" font-size="10" text-anchor="middle" font-family="Liberation Serif" font-weight="bold" xml:space="preserve">Degree of  switching (°)</text>
<line x1="511.30" y1="822.10" x2="644.74" y2="767.20" stroke="#f3821e" stroke-width="1.6"/>
<circle cx="511.30" cy="824.98" r="2.25" fill="#f4a476" stroke="#e0784a" stroke-width="0.8"/>
<ellipse cx="511.00" cy="824.88" rx="1.1" ry="0.6" fill="#fff" opacity="0.85"/>
<circle cx="524.64" cy="815.35" r="2.25" fill="#f4a476" stroke="#e0784a" stroke-width="0.8"/>
<ellipse cx="524.34" cy="815.25" rx="1.1" ry="0.6" fill="#fff" opacity="0.85"/>
<circle cx="537.99" cy="815.35" r="2.25" fill="#f4a476" stroke="#e0784a" stroke-width="0.8"/>
<ellipse cx="537.69" cy="815.25" rx="1.1" ry="0.6" fill="#fff" opacity="0.85"/>
<circle cx="551.33" cy="810.54" r="2.25" fill="#f4a476" stroke="#e0784a" stroke-width="0.8"/>
<ellipse cx="551.03" cy="810.44" rx="1.1" ry="0.6" fill="#fff" opacity="0.85"/>
<circle cx="564.68" cy="796.09" r="2.25" fill="#f4a476" stroke="#e0784a" stroke-width="0.8"/>
<ellipse cx="564.38" cy="795.99" rx="1.1" ry="0.6" fill="#fff" opacity="0.85"/>
<circle cx="578.02" cy="791.28" r="2.25" fill="#f4a476" stroke="#e0784a" stroke-width="0.8"/>
<ellipse cx="577.72" cy="791.18" rx="1.1" ry="0.6" fill="#fff" opacity="0.85"/>
<circle cx="591.36" cy="781.65" r="2.25" fill="#f4a476" stroke="#e0784a" stroke-width="0.8"/>
<ellipse cx="591.06" cy="781.55" rx="1.1" ry="0.6" fill="#fff" opacity="0.85"/>
<circle cx="604.71" cy="776.83" r="2.25" fill="#f4a476" stroke="#e0784a" stroke-width="0.8"/>
<ellipse cx="604.41" cy="776.73" rx="1.1" ry="0.6" fill="#fff" opacity="0.85"/>
<circle cx="618.05" cy="781.65" r="2.25" fill="#f4a476" stroke="#e0784a" stroke-width="0.8"/>
<ellipse cx="617.75" cy="781.55" rx="1.1" ry="0.6" fill="#fff" opacity="0.85"/>
<circle cx="631.40" cy="776.83" r="2.25" fill="#f4a476" stroke="#e0784a" stroke-width="0.8"/>
<ellipse cx="631.10" cy="776.73" rx="1.1" ry="0.6" fill="#fff" opacity="0.85"/>
<circle cx="644.74" cy="772.02" r="2.25" fill="#f4a476" stroke="#e0784a" stroke-width="0.8"/>
<ellipse cx="644.44" cy="771.92" rx="1.1" ry="0.6" fill="#fff" opacity="0.85"/>
<polygon points="511.30,708.66 512.17,710.76 514.44,710.94 512.71,712.42 513.24,714.63 511.30,713.45 509.36,714.63 509.89,712.42 508.16,710.94 510.43,710.76" fill="#f646cc"/>
<polygon points="524.64,708.66 525.52,710.76 527.78,710.94 526.06,712.42 526.58,714.63 524.64,713.45 522.70,714.63 523.23,712.42 521.51,710.94 523.77,710.76" fill="#f646cc"/>
<polygon points="537.99,708.66 538.86,710.76 541.13,710.94 539.40,712.42 539.93,714.63 537.99,713.45 536.05,714.63 536.58,712.42 534.85,710.94 537.12,710.76" fill="#f646cc"/>
<polygon points="551.33,708.66 552.20,710.76 554.47,710.94 552.74,712.42 553.27,714.63 551.33,713.45 549.39,714.63 549.92,712.42 548.19,710.94 550.46,710.76" fill="#f646cc"/>
<polygon points="564.68,708.66 565.55,710.76 567.81,710.94 566.09,712.42 566.62,714.63 564.68,713.45 562.74,714.63 563.26,712.42 561.54,710.94 563.80,710.76" fill="#f646cc"/>
<polygon points="578.02,708.66 578.89,710.76 581.16,710.94 579.43,712.42 579.96,714.63 578.02,713.45 576.08,714.63 576.61,712.42 574.88,710.94 577.15,710.76" fill="#f646cc"/>
<polygon points="591.36,708.66 592.24,710.76 594.50,710.94 592.78,712.42 593.30,714.63 591.36,713.45 589.42,714.63 589.95,712.42 588.23,710.94 590.49,710.76" fill="#f646cc"/>
<polygon points="604.71,708.66 605.58,710.76 607.85,710.94 606.12,712.42 606.65,714.63 604.71,713.45 602.77,714.63 603.30,712.42 601.57,710.94 603.84,710.76" fill="#f646cc"/>
<polygon points="618.05,708.66 618.92,710.76 621.19,710.94 619.46,712.42 619.99,714.63 618.05,713.45 616.11,714.63 616.64,712.42 614.91,710.94 617.18,710.76" fill="#f646cc"/>
<polygon points="631.40,708.66 632.27,710.76 634.53,710.94 632.81,712.42 633.34,714.63 631.40,713.45 629.46,714.63 629.98,712.42 628.26,710.94 630.52,710.76" fill="#f646cc"/>
<polygon points="644.74,708.66 645.61,710.76 647.88,710.94 646.15,712.42 646.68,714.63 644.74,713.45 642.80,714.63 643.33,712.42 641.60,710.94 643.87,710.76" fill="#f646cc"/>
<line x1="500.3" y1="704.6" x2="655.6" y2="704.6" stroke="#000" stroke-width="1.35"/>
<line x1="500.3" y1="829.8" x2="655.6" y2="829.8" stroke="#000" stroke-width="1.35"/>
<line x1="500.3" y1="703.9" x2="500.3" y2="830.5" stroke="#f07c52" stroke-width="1.35"/>
<line x1="655.6" y1="703.9" x2="655.6" y2="830.5" stroke="#ff4fd2" stroke-width="1.35"/>
<line x1="500.3" y1="829.80" x2="502.6" y2="829.80" stroke="#f07c52" stroke-width="0.9"/>
<text x="497.90" y="833.00" font-size="9.2" text-anchor="end" fill="#000" font-family="Liberation Serif" font-weight="bold" >40</text>
<line x1="500.3" y1="820.17" x2="501.6" y2="820.17" stroke="#f07c52" stroke-width="0.7"/>
<line x1="500.3" y1="810.54" x2="502.6" y2="810.54" stroke="#f07c52" stroke-width="0.9"/>
<text x="497.90" y="813.74" font-size="9.2" text-anchor="end" fill="#000" font-family="Liberation Serif" font-weight="bold" >60</text>
<line x1="500.3" y1="800.91" x2="501.6" y2="800.91" stroke="#f07c52" stroke-width="0.7"/>
<line x1="500.3" y1="791.28" x2="502.6" y2="791.28" stroke="#f07c52" stroke-width="0.9"/>
<text x="497.90" y="794.48" font-size="9.2" text-anchor="end" fill="#000" font-family="Liberation Serif" font-weight="bold" >80</text>
<line x1="500.3" y1="781.65" x2="501.6" y2="781.65" stroke="#f07c52" stroke-width="0.7"/>
<line x1="500.3" y1="772.02" x2="502.6" y2="772.02" stroke="#f07c52" stroke-width="0.9"/>
<text x="497.90" y="775.22" font-size="9.2" text-anchor="end" fill="#000" font-family="Liberation Serif" font-weight="bold" >100</text>
<line x1="500.3" y1="762.38" x2="501.6" y2="762.38" stroke="#f07c52" stroke-width="0.7"/>
<line x1="500.3" y1="752.75" x2="502.6" y2="752.75" stroke="#f07c52" stroke-width="0.9"/>
<text x="497.90" y="755.95" font-size="9.2" text-anchor="end" fill="#000" font-family="Liberation Serif" font-weight="bold" >120</text>
<line x1="500.3" y1="743.12" x2="501.6" y2="743.12" stroke="#f07c52" stroke-width="0.7"/>
<line x1="500.3" y1="733.49" x2="502.6" y2="733.49" stroke="#f07c52" stroke-width="0.9"/>
<text x="497.90" y="736.69" font-size="9.2" text-anchor="end" fill="#000" font-family="Liberation Serif" font-weight="bold" >140</text>
<line x1="500.3" y1="723.86" x2="501.6" y2="723.86" stroke="#f07c52" stroke-width="0.7"/>
<line x1="500.3" y1="714.23" x2="502.6" y2="714.23" stroke="#f07c52" stroke-width="0.9"/>
<text x="497.90" y="717.43" font-size="9.2" text-anchor="end" fill="#000" font-family="Liberation Serif" font-weight="bold" >160</text>
<line x1="500.3" y1="704.60" x2="501.6" y2="704.60" stroke="#f07c52" stroke-width="0.7"/>
<line x1="655.6" y1="829.80" x2="653.3000000000001" y2="829.80" stroke="#ff4fd2" stroke-width="0.9"/>
<text x="658.40" y="833.00" font-size="9.2" text-anchor="start" fill="#000" font-family="Liberation Serif" font-weight="bold" >0</text>
<line x1="655.6" y1="820.59" x2="654.3000000000001" y2="820.59" stroke="#ff4fd2" stroke-width="0.7"/>
<line x1="655.6" y1="811.39" x2="653.3000000000001" y2="811.39" stroke="#ff4fd2" stroke-width="0.9"/>
<text x="658.40" y="814.59" font-size="9.2" text-anchor="start" fill="#000" font-family="Liberation Serif" font-weight="bold" >25</text>
<line x1="655.6" y1="802.18" x2="654.3000000000001" y2="802.18" stroke="#ff4fd2" stroke-width="0.7"/>
<line x1="655.6" y1="792.98" x2="653.3000000000001" y2="792.98" stroke="#ff4fd2" stroke-width="0.9"/>
<text x="658.40" y="796.18" font-size="9.2" text-anchor="start" fill="#000" font-family="Liberation Serif" font-weight="bold" >50</text>
<line x1="655.6" y1="783.77" x2="654.3000000000001" y2="783.77" stroke="#ff4fd2" stroke-width="0.7"/>
<line x1="655.6" y1="774.56" x2="653.3000000000001" y2="774.56" stroke="#ff4fd2" stroke-width="0.9"/>
<text x="658.40" y="777.76" font-size="9.2" text-anchor="start" fill="#000" font-family="Liberation Serif" font-weight="bold" >75</text>
<line x1="655.6" y1="765.36" x2="654.3000000000001" y2="765.36" stroke="#ff4fd2" stroke-width="0.7"/>
<line x1="655.6" y1="756.15" x2="653.3000000000001" y2="756.15" stroke="#ff4fd2" stroke-width="0.9"/>
<text x="658.40" y="759.35" font-size="9.2" text-anchor="start" fill="#000" font-family="Liberation Serif" font-weight="bold" >100</text>
<line x1="655.6" y1="746.95" x2="654.3000000000001" y2="746.95" stroke="#ff4fd2" stroke-width="0.7"/>
<line x1="655.6" y1="737.74" x2="653.3000000000001" y2="737.74" stroke="#ff4fd2" stroke-width="0.9"/>
<text x="658.40" y="740.94" font-size="9.2" text-anchor="start" fill="#000" font-family="Liberation Serif" font-weight="bold" >125</text>
<line x1="655.6" y1="728.54" x2="654.3000000000001" y2="728.54" stroke="#ff4fd2" stroke-width="0.7"/>
<line x1="655.6" y1="719.33" x2="653.3000000000001" y2="719.33" stroke="#ff4fd2" stroke-width="0.9"/>
<text x="658.40" y="722.53" font-size="9.2" text-anchor="start" fill="#000" font-family="Liberation Serif" font-weight="bold" >150</text>
<line x1="655.6" y1="710.12" x2="654.3000000000001" y2="710.12" stroke="#ff4fd2" stroke-width="0.7"/>
<line x1="511.30" y1="829.8" x2="511.30" y2="827.5" stroke="#000" stroke-width="0.9"/>
<text x="511.30" y="839.80" font-size="9.2" text-anchor="middle" fill="#000" font-family="Liberation Serif" font-weight="bold" >0.1</text>
<line x1="533.54" y1="829.8" x2="533.54" y2="827.5" stroke="#000" stroke-width="0.9"/>
<text x="533.54" y="839.80" font-size="9.2" text-anchor="middle" fill="#000" font-family="Liberation Serif" font-weight="bold" >0.2</text>
<line x1="555.78" y1="829.8" x2="555.78" y2="827.5" stroke="#000" stroke-width="0.9"/>
<text x="555.78" y="839.80" font-size="9.2" text-anchor="middle" fill="#000" font-family="Liberation Serif" font-weight="bold" >0.3</text>
<line x1="578.02" y1="829.8" x2="578.02" y2="827.5" stroke="#000" stroke-width="0.9"/>
<text x="578.02" y="839.80" font-size="9.2" text-anchor="middle" fill="#000" font-family="Liberation Serif" font-weight="bold" >0.4</text>
<line x1="600.26" y1="829.8" x2="600.26" y2="827.5" stroke="#000" stroke-width="0.9"/>
<text x="600.26" y="839.80" font-size="9.2" text-anchor="middle" fill="#000" font-family="Liberation Serif" font-weight="bold" >0.5</text>
<line x1="622.50" y1="829.8" x2="622.50" y2="827.5" stroke="#000" stroke-width="0.9"/>
<text x="622.50" y="839.80" font-size="9.2" text-anchor="middle" fill="#000" font-family="Liberation Serif" font-weight="bold" >0.6</text>
<line x1="644.74" y1="829.8" x2="644.74" y2="827.5" stroke="#000" stroke-width="0.9"/>
<text x="644.74" y="839.80" font-size="9.2" text-anchor="middle" fill="#000" font-family="Liberation Serif" font-weight="bold" >0.7</text>
<line x1="522.42" y1="829.8" x2="522.42" y2="828.5" stroke="#000" stroke-width="0.7"/>
<line x1="544.66" y1="829.8" x2="544.66" y2="828.5" stroke="#000" stroke-width="0.7"/>
<line x1="566.90" y1="829.8" x2="566.90" y2="828.5" stroke="#000" stroke-width="0.7"/>
<line x1="589.14" y1="829.8" x2="589.14" y2="828.5" stroke="#000" stroke-width="0.7"/>
<line x1="611.38" y1="829.8" x2="611.38" y2="828.5" stroke="#000" stroke-width="0.7"/>
<line x1="633.62" y1="829.8" x2="633.62" y2="828.5" stroke="#000" stroke-width="0.7"/>
<text x="577.95" y="854.40" font-size="10" text-anchor="middle" fill="#000" font-family="Liberation Serif" font-weight="bold" >Time (s)</text>
<text transform="translate(481.10,767.20) rotate(-90)" font-size="10" text-anchor="middle" font-family="Liberation Serif" font-weight="bold">Radius (nm)</text>
<text transform="translate(681.40,765.70) rotate(-90)" font-size="10" text-anchor="middle" font-family="Liberation Serif" font-weight="bold" xml:space="preserve">Degree of  switching (°)</text>
</svg>
</body></html>
